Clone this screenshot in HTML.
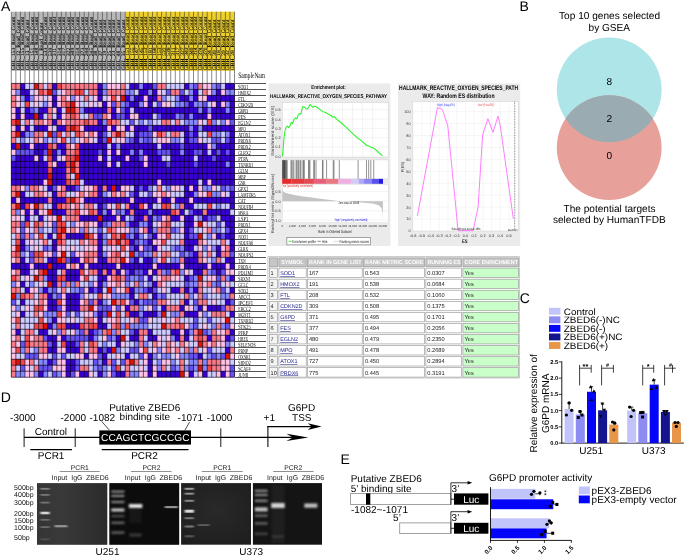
<!DOCTYPE html>
<html lang="en"><head><meta charset="utf-8"><title>Figure</title>
<style>html,body{margin:0;padding:0;background:#fff}body{width:685px;height:556px;overflow:hidden}svg{display:block}</style>
</head><body>
<svg width="685" height="556" viewBox="0 0 685 556" text-rendering="geometricPrecision">
<rect width="685" height="556" fill="#fff"/>
<g opacity="0.999">
<text x="1.10" y="11.20" font-size="14" text-anchor="start" fill="#000" font-family='"Liberation Sans", sans-serif' font-weight="normal" >A</text>
<text x="519.50" y="11.20" font-size="14" text-anchor="start" fill="#000" font-family='"Liberation Sans", sans-serif' font-weight="normal" >B</text>
<text x="519.80" y="303.00" font-size="14" text-anchor="start" fill="#000" font-family='"Liberation Sans", sans-serif' font-weight="normal" >C</text>
<text x="0.75" y="402.10" font-size="14" text-anchor="start" fill="#000" font-family='"Liberation Sans", sans-serif' font-weight="normal" >D</text>
<text x="340.40" y="463.80" font-size="14" text-anchor="start" fill="#000" font-family='"Liberation Sans", sans-serif' font-weight="normal" >E</text>
<rect x="11.30" y="11.70" width="113.88" height="59.20" fill="#b9b9b9" />
<rect x="125.18" y="11.70" width="109.32" height="59.20" fill="#efd12c" />
<rect x="11.30" y="70.90" width="223.20" height="12.50" fill="#fff" />
<g font-family='"Liberation Serif", serif' font-size="5.3" fill="#000" stroke="#000" stroke-width="0.08" text-rendering="geometricPrecision">
<text transform="translate(15.28,70.3) rotate(-90)" textLength="53.5" lengthAdjust="spacingAndGlyphs">GBL_153_Read_Count</text>
<text transform="translate(19.83,70.3) rotate(-90)" textLength="50.5" lengthAdjust="spacingAndGlyphs">GBL_12_Read_Count</text>
<text transform="translate(24.39,70.3) rotate(-90)" textLength="53.5" lengthAdjust="spacingAndGlyphs">GBL_155_Read_Count</text>
<text transform="translate(28.94,70.3) rotate(-90)" textLength="50.5" lengthAdjust="spacingAndGlyphs">GBL_13_Read_Count</text>
<text transform="translate(33.50,70.3) rotate(-90)" textLength="53.5" lengthAdjust="spacingAndGlyphs">GBL_151_Read_Count</text>
<text transform="translate(38.05,70.3) rotate(-90)" textLength="53.5" lengthAdjust="spacingAndGlyphs">GBL_148_Read_Count</text>
<text transform="translate(42.61,70.3) rotate(-90)" textLength="47.5" lengthAdjust="spacingAndGlyphs">GBL_1_Read_Count</text>
<text transform="translate(47.16,70.3) rotate(-90)" textLength="53.5" lengthAdjust="spacingAndGlyphs">GBL_533_Read_Count</text>
<text transform="translate(51.72,70.3) rotate(-90)" textLength="53.5" lengthAdjust="spacingAndGlyphs">GBL_539_Read_Count</text>
<text transform="translate(56.27,70.3) rotate(-90)" textLength="53.5" lengthAdjust="spacingAndGlyphs">GBL_311_Read_Count</text>
<text transform="translate(60.83,70.3) rotate(-90)" textLength="53.5" lengthAdjust="spacingAndGlyphs">GBL_314_Read_Count</text>
<text transform="translate(65.38,70.3) rotate(-90)" textLength="53.5" lengthAdjust="spacingAndGlyphs">GBL_317_Read_Count</text>
<text transform="translate(69.94,70.3) rotate(-90)" textLength="53.5" lengthAdjust="spacingAndGlyphs">GBL_322_Read_Count</text>
<text transform="translate(74.49,70.3) rotate(-90)" textLength="53.5" lengthAdjust="spacingAndGlyphs">GBL_349_Read_Count</text>
<text transform="translate(79.05,70.3) rotate(-90)" textLength="53.5" lengthAdjust="spacingAndGlyphs">GBL_314_Read_Count</text>
<text transform="translate(83.60,70.3) rotate(-90)" textLength="53.5" lengthAdjust="spacingAndGlyphs">GBL_373_Read_Count</text>
<text transform="translate(88.16,70.3) rotate(-90)" textLength="53.5" lengthAdjust="spacingAndGlyphs">GBL_244_Read_Count</text>
<text transform="translate(92.71,70.3) rotate(-90)" textLength="53.5" lengthAdjust="spacingAndGlyphs">GBL_245_Read_Count</text>
<text transform="translate(97.27,70.3) rotate(-90)" textLength="50.5" lengthAdjust="spacingAndGlyphs">GBL_38_Read_Count</text>
<text transform="translate(101.82,70.3) rotate(-90)" textLength="50.5" lengthAdjust="spacingAndGlyphs">GBL_37_Read_Count</text>
<text transform="translate(106.38,70.3) rotate(-90)" textLength="50.5" lengthAdjust="spacingAndGlyphs">GBL_19_Read_Count</text>
<text transform="translate(110.93,70.3) rotate(-90)" textLength="50.5" lengthAdjust="spacingAndGlyphs">GBL_25_Read_Count</text>
<text transform="translate(115.49,70.3) rotate(-90)" textLength="50.5" lengthAdjust="spacingAndGlyphs">GBL_23_Read_Count</text>
<text transform="translate(120.04,70.3) rotate(-90)" textLength="50.5" lengthAdjust="spacingAndGlyphs">GBL_48_Read_Count</text>
<text transform="translate(124.60,70.3) rotate(-90)" textLength="50.5" lengthAdjust="spacingAndGlyphs">GBL_35_Read_Count</text>
<text transform="translate(129.16,70.3) rotate(-90)" textLength="53.5" lengthAdjust="spacingAndGlyphs">GBH_151_Read_Count</text>
<text transform="translate(133.71,70.3) rotate(-90)" textLength="53.5" lengthAdjust="spacingAndGlyphs">GBH_155_Read_Count</text>
<text transform="translate(138.27,70.3) rotate(-90)" textLength="53.5" lengthAdjust="spacingAndGlyphs">GBH_147_Read_Count</text>
<text transform="translate(142.82,70.3) rotate(-90)" textLength="53.5" lengthAdjust="spacingAndGlyphs">GBH_145_Read_Count</text>
<text transform="translate(147.38,70.3) rotate(-90)" textLength="53.5" lengthAdjust="spacingAndGlyphs">GBH_153_Read_Count</text>
<text transform="translate(151.93,70.3) rotate(-90)" textLength="53.5" lengthAdjust="spacingAndGlyphs">GBH_181_Read_Count</text>
<text transform="translate(156.49,70.3) rotate(-90)" textLength="53.5" lengthAdjust="spacingAndGlyphs">GBH_168_Read_Count</text>
<text transform="translate(161.04,70.3) rotate(-90)" textLength="53.5" lengthAdjust="spacingAndGlyphs">GBH_153_Read_Count</text>
<text transform="translate(165.60,70.3) rotate(-90)" textLength="53.5" lengthAdjust="spacingAndGlyphs">GBH_532_Read_Count</text>
<text transform="translate(170.15,70.3) rotate(-90)" textLength="53.5" lengthAdjust="spacingAndGlyphs">GBH_538_Read_Count</text>
<text transform="translate(174.71,70.3) rotate(-90)" textLength="53.5" lengthAdjust="spacingAndGlyphs">GBH_311_Read_Count</text>
<text transform="translate(179.26,70.3) rotate(-90)" textLength="53.5" lengthAdjust="spacingAndGlyphs">GBH_317_Read_Count</text>
<text transform="translate(183.82,70.3) rotate(-90)" textLength="53.5" lengthAdjust="spacingAndGlyphs">GBH_327_Read_Count</text>
<text transform="translate(188.37,70.3) rotate(-90)" textLength="53.5" lengthAdjust="spacingAndGlyphs">GBH_343_Read_Count</text>
<text transform="translate(192.93,70.3) rotate(-90)" textLength="53.5" lengthAdjust="spacingAndGlyphs">GBH_349_Read_Count</text>
<text transform="translate(197.48,70.3) rotate(-90)" textLength="53.5" lengthAdjust="spacingAndGlyphs">GBH_314_Read_Count</text>
<text transform="translate(202.04,70.3) rotate(-90)" textLength="53.5" lengthAdjust="spacingAndGlyphs">GBH_374_Read_Count</text>
<text transform="translate(206.59,70.3) rotate(-90)" textLength="53.5" lengthAdjust="spacingAndGlyphs">GBH_370_Read_Count</text>
<text transform="translate(211.15,70.3) rotate(-90)" textLength="50.5" lengthAdjust="spacingAndGlyphs">GBH_24_Read_Count</text>
<text transform="translate(215.70,70.3) rotate(-90)" textLength="50.5" lengthAdjust="spacingAndGlyphs">GBH_39_Read_Count</text>
<text transform="translate(220.26,70.3) rotate(-90)" textLength="50.5" lengthAdjust="spacingAndGlyphs">GBH_18_Read_Count</text>
<text transform="translate(224.81,70.3) rotate(-90)" textLength="50.5" lengthAdjust="spacingAndGlyphs">GBH_29_Read_Count</text>
<text transform="translate(229.37,70.3) rotate(-90)" textLength="50.5" lengthAdjust="spacingAndGlyphs">GBH_32_Read_Count</text>
<text transform="translate(233.92,70.3) rotate(-90)" textLength="50.5" lengthAdjust="spacingAndGlyphs">GBH_28_Read_Count</text>
</g>
<rect x="11.30" y="83.40" width="223.20" height="293.80" fill="#180848" />
<g>
<rect x="11.30" y="83.40" width="9.16" height="6.05" fill="#f97a86"/>
<rect x="20.41" y="83.40" width="4.61" height="6.05" fill="#3800d2"/>
<rect x="24.97" y="83.40" width="9.16" height="6.05" fill="#cecbff"/>
<rect x="34.08" y="83.40" width="4.61" height="6.05" fill="#dc1408"/>
<rect x="38.63" y="83.40" width="4.61" height="6.05" fill="#f97a86"/>
<rect x="43.19" y="83.40" width="4.61" height="6.05" fill="#cecbff"/>
<rect x="47.74" y="83.40" width="4.61" height="6.05" fill="#f97a86"/>
<rect x="52.30" y="83.40" width="4.61" height="6.05" fill="#3800d2"/>
<rect x="56.85" y="83.40" width="4.61" height="6.05" fill="#f04848"/>
<rect x="61.41" y="83.40" width="36.49" height="6.05" fill="#f97a86"/>
<rect x="97.85" y="83.40" width="4.61" height="6.05" fill="#3800d2"/>
<rect x="102.40" y="83.40" width="4.61" height="6.05" fill="#8686fd"/>
<rect x="106.96" y="83.40" width="13.72" height="6.05" fill="#ffc2e4"/>
<rect x="120.62" y="83.40" width="4.61" height="6.05" fill="#f97a86"/>
<rect x="125.18" y="83.40" width="4.61" height="6.05" fill="#cecbff"/>
<rect x="129.73" y="83.40" width="9.16" height="6.05" fill="#3800d2"/>
<rect x="138.84" y="83.40" width="4.61" height="6.05" fill="#8686fd"/>
<rect x="143.40" y="83.40" width="9.16" height="6.05" fill="#3800d2"/>
<rect x="152.51" y="83.40" width="4.61" height="6.05" fill="#6652ee"/>
<rect x="157.06" y="83.40" width="9.16" height="6.05" fill="#f97a86"/>
<rect x="166.17" y="83.40" width="18.27" height="6.05" fill="#cecbff"/>
<rect x="184.39" y="83.40" width="4.61" height="6.05" fill="#3800d2"/>
<rect x="188.95" y="83.40" width="4.61" height="6.05" fill="#8686fd"/>
<rect x="193.50" y="83.40" width="4.61" height="6.05" fill="#6652ee"/>
<rect x="198.06" y="83.40" width="4.61" height="6.05" fill="#f97a86"/>
<rect x="202.61" y="83.40" width="9.16" height="6.05" fill="#ffc2e4"/>
<rect x="211.72" y="83.40" width="4.61" height="6.05" fill="#8686fd"/>
<rect x="216.28" y="83.40" width="4.61" height="6.05" fill="#6652ee"/>
<rect x="220.83" y="83.40" width="4.61" height="6.05" fill="#cecbff"/>
<rect x="225.39" y="83.40" width="9.16" height="6.05" fill="#3800d2"/>
<rect x="11.30" y="89.40" width="4.61" height="6.05" fill="#ffc2e4"/>
<rect x="15.86" y="89.40" width="4.61" height="6.05" fill="#8686fd"/>
<rect x="20.41" y="89.40" width="9.16" height="6.05" fill="#3800d2"/>
<rect x="29.52" y="89.40" width="4.61" height="6.05" fill="#cecbff"/>
<rect x="34.08" y="89.40" width="4.61" height="6.05" fill="#ffc2e4"/>
<rect x="38.63" y="89.40" width="4.61" height="6.05" fill="#f04848"/>
<rect x="43.19" y="89.40" width="4.61" height="6.05" fill="#f97a86"/>
<rect x="47.74" y="89.40" width="4.61" height="6.05" fill="#dc1408"/>
<rect x="52.30" y="89.40" width="4.61" height="6.05" fill="#6652ee"/>
<rect x="56.85" y="89.40" width="4.61" height="6.05" fill="#cecbff"/>
<rect x="61.41" y="89.40" width="4.61" height="6.05" fill="#ffc2e4"/>
<rect x="65.96" y="89.40" width="9.16" height="6.05" fill="#f97a86"/>
<rect x="75.07" y="89.40" width="9.16" height="6.05" fill="#f04848"/>
<rect x="84.18" y="89.40" width="4.61" height="6.05" fill="#cecbff"/>
<rect x="88.74" y="89.40" width="9.16" height="6.05" fill="#f97a86"/>
<rect x="97.85" y="89.40" width="4.61" height="6.05" fill="#3800d2"/>
<rect x="102.40" y="89.40" width="4.61" height="6.05" fill="#8686fd"/>
<rect x="106.96" y="89.40" width="18.27" height="6.05" fill="#f97a86"/>
<rect x="125.18" y="89.40" width="9.16" height="6.05" fill="#8686fd"/>
<rect x="134.29" y="89.40" width="4.61" height="6.05" fill="#cecbff"/>
<rect x="138.84" y="89.40" width="9.16" height="6.05" fill="#3800d2"/>
<rect x="147.95" y="89.40" width="4.61" height="6.05" fill="#8686fd"/>
<rect x="152.51" y="89.40" width="4.61" height="6.05" fill="#3800d2"/>
<rect x="157.06" y="89.40" width="4.61" height="6.05" fill="#ffc2e4"/>
<rect x="161.62" y="89.40" width="4.61" height="6.05" fill="#cecbff"/>
<rect x="166.17" y="89.40" width="4.61" height="6.05" fill="#6652ee"/>
<rect x="170.73" y="89.40" width="9.16" height="6.05" fill="#f97a86"/>
<rect x="179.84" y="89.40" width="4.61" height="6.05" fill="#6652ee"/>
<rect x="184.39" y="89.40" width="4.61" height="6.05" fill="#cecbff"/>
<rect x="188.95" y="89.40" width="4.61" height="6.05" fill="#8686fd"/>
<rect x="193.50" y="89.40" width="4.61" height="6.05" fill="#3800d2"/>
<rect x="198.06" y="89.40" width="4.61" height="6.05" fill="#cecbff"/>
<rect x="202.61" y="89.40" width="4.61" height="6.05" fill="#f97a86"/>
<rect x="207.17" y="89.40" width="4.61" height="6.05" fill="#ffc2e4"/>
<rect x="211.72" y="89.40" width="4.61" height="6.05" fill="#8686fd"/>
<rect x="216.28" y="89.40" width="4.61" height="6.05" fill="#3800d2"/>
<rect x="220.83" y="89.40" width="4.61" height="6.05" fill="#ffc2e4"/>
<rect x="225.39" y="89.40" width="9.16" height="6.05" fill="#8686fd"/>
<rect x="11.30" y="95.39" width="4.61" height="6.05" fill="#f97a86"/>
<rect x="15.86" y="95.39" width="4.61" height="6.05" fill="#ffc2e4"/>
<rect x="20.41" y="95.39" width="4.61" height="6.05" fill="#8686fd"/>
<rect x="24.97" y="95.39" width="4.61" height="6.05" fill="#3800d2"/>
<rect x="29.52" y="95.39" width="4.61" height="6.05" fill="#8686fd"/>
<rect x="34.08" y="95.39" width="9.16" height="6.05" fill="#ffc2e4"/>
<rect x="43.19" y="95.39" width="4.61" height="6.05" fill="#cecbff"/>
<rect x="47.74" y="95.39" width="4.61" height="6.05" fill="#ffc2e4"/>
<rect x="52.30" y="95.39" width="4.61" height="6.05" fill="#3800d2"/>
<rect x="56.85" y="95.39" width="4.61" height="6.05" fill="#ffc2e4"/>
<rect x="61.41" y="95.39" width="4.61" height="6.05" fill="#f97a86"/>
<rect x="65.96" y="95.39" width="4.61" height="6.05" fill="#ffc2e4"/>
<rect x="70.52" y="95.39" width="4.61" height="6.05" fill="#8686fd"/>
<rect x="75.07" y="95.39" width="4.61" height="6.05" fill="#ffc2e4"/>
<rect x="79.63" y="95.39" width="4.61" height="6.05" fill="#cecbff"/>
<rect x="84.18" y="95.39" width="4.61" height="6.05" fill="#f97a86"/>
<rect x="88.74" y="95.39" width="4.61" height="6.05" fill="#cecbff"/>
<rect x="93.29" y="95.39" width="4.61" height="6.05" fill="#ffc2e4"/>
<rect x="97.85" y="95.39" width="4.61" height="6.05" fill="#3800d2"/>
<rect x="102.40" y="95.39" width="4.61" height="6.05" fill="#cecbff"/>
<rect x="106.96" y="95.39" width="4.61" height="6.05" fill="#ffc2e4"/>
<rect x="111.51" y="95.39" width="4.61" height="6.05" fill="#f04848"/>
<rect x="116.07" y="95.39" width="4.61" height="6.05" fill="#ffc2e4"/>
<rect x="120.62" y="95.39" width="4.61" height="6.05" fill="#dc1408"/>
<rect x="125.18" y="95.39" width="4.61" height="6.05" fill="#3800d2"/>
<rect x="129.73" y="95.39" width="4.61" height="6.05" fill="#8686fd"/>
<rect x="134.29" y="95.39" width="9.16" height="6.05" fill="#3800d2"/>
<rect x="143.40" y="95.39" width="4.61" height="6.05" fill="#ffc2e4"/>
<rect x="147.95" y="95.39" width="9.16" height="6.05" fill="#3800d2"/>
<rect x="157.06" y="95.39" width="4.61" height="6.05" fill="#f97a86"/>
<rect x="161.62" y="95.39" width="4.61" height="6.05" fill="#8686fd"/>
<rect x="166.17" y="95.39" width="9.16" height="6.05" fill="#cecbff"/>
<rect x="175.28" y="95.39" width="4.61" height="6.05" fill="#8686fd"/>
<rect x="179.84" y="95.39" width="9.16" height="6.05" fill="#3800d2"/>
<rect x="188.95" y="95.39" width="4.61" height="6.05" fill="#8686fd"/>
<rect x="193.50" y="95.39" width="4.61" height="6.05" fill="#3800d2"/>
<rect x="198.06" y="95.39" width="9.16" height="6.05" fill="#ffc2e4"/>
<rect x="207.17" y="95.39" width="27.38" height="6.05" fill="#3800d2"/>
<rect x="11.30" y="101.39" width="4.61" height="6.05" fill="#f97a86"/>
<rect x="15.86" y="101.39" width="4.61" height="6.05" fill="#ffc2e4"/>
<rect x="20.41" y="101.39" width="4.61" height="6.05" fill="#cecbff"/>
<rect x="24.97" y="101.39" width="4.61" height="6.05" fill="#f04848"/>
<rect x="29.52" y="101.39" width="4.61" height="6.05" fill="#cecbff"/>
<rect x="34.08" y="101.39" width="4.61" height="6.05" fill="#ffc2e4"/>
<rect x="38.63" y="101.39" width="4.61" height="6.05" fill="#cecbff"/>
<rect x="43.19" y="101.39" width="4.61" height="6.05" fill="#8686fd"/>
<rect x="47.74" y="101.39" width="4.61" height="6.05" fill="#ffc2e4"/>
<rect x="52.30" y="101.39" width="4.61" height="6.05" fill="#3800d2"/>
<rect x="56.85" y="101.39" width="4.61" height="6.05" fill="#ffc2e4"/>
<rect x="61.41" y="101.39" width="4.61" height="6.05" fill="#f97a86"/>
<rect x="65.96" y="101.39" width="4.61" height="6.05" fill="#f04848"/>
<rect x="70.52" y="101.39" width="4.61" height="6.05" fill="#dc1408"/>
<rect x="75.07" y="101.39" width="4.61" height="6.05" fill="#ffc2e4"/>
<rect x="79.63" y="101.39" width="9.16" height="6.05" fill="#cecbff"/>
<rect x="88.74" y="101.39" width="4.61" height="6.05" fill="#ffc2e4"/>
<rect x="93.29" y="101.39" width="4.61" height="6.05" fill="#cecbff"/>
<rect x="97.85" y="101.39" width="4.61" height="6.05" fill="#ffc2e4"/>
<rect x="102.40" y="101.39" width="4.61" height="6.05" fill="#3800d2"/>
<rect x="106.96" y="101.39" width="4.61" height="6.05" fill="#ffc2e4"/>
<rect x="111.51" y="101.39" width="4.61" height="6.05" fill="#6652ee"/>
<rect x="116.07" y="101.39" width="4.61" height="6.05" fill="#f97a86"/>
<rect x="120.62" y="101.39" width="4.61" height="6.05" fill="#8686fd"/>
<rect x="125.18" y="101.39" width="4.61" height="6.05" fill="#6652ee"/>
<rect x="129.73" y="101.39" width="9.16" height="6.05" fill="#3800d2"/>
<rect x="138.84" y="101.39" width="4.61" height="6.05" fill="#8686fd"/>
<rect x="143.40" y="101.39" width="4.61" height="6.05" fill="#ffc2e4"/>
<rect x="147.95" y="101.39" width="4.61" height="6.05" fill="#3800d2"/>
<rect x="152.51" y="101.39" width="4.61" height="6.05" fill="#cecbff"/>
<rect x="157.06" y="101.39" width="4.61" height="6.05" fill="#6652ee"/>
<rect x="161.62" y="101.39" width="9.16" height="6.05" fill="#ffc2e4"/>
<rect x="170.73" y="101.39" width="4.61" height="6.05" fill="#cecbff"/>
<rect x="175.28" y="101.39" width="9.16" height="6.05" fill="#8686fd"/>
<rect x="184.39" y="101.39" width="4.61" height="6.05" fill="#6652ee"/>
<rect x="188.95" y="101.39" width="4.61" height="6.05" fill="#3800d2"/>
<rect x="193.50" y="101.39" width="9.16" height="6.05" fill="#8686fd"/>
<rect x="202.61" y="101.39" width="4.61" height="6.05" fill="#6652ee"/>
<rect x="207.17" y="101.39" width="4.61" height="6.05" fill="#cecbff"/>
<rect x="211.72" y="101.39" width="4.61" height="6.05" fill="#ffc2e4"/>
<rect x="216.28" y="101.39" width="4.61" height="6.05" fill="#3800d2"/>
<rect x="220.83" y="101.39" width="4.61" height="6.05" fill="#ffc2e4"/>
<rect x="225.39" y="101.39" width="4.61" height="6.05" fill="#8686fd"/>
<rect x="229.94" y="101.39" width="4.61" height="6.05" fill="#3800d2"/>
<rect x="11.30" y="107.38" width="4.61" height="6.05" fill="#ffc2e4"/>
<rect x="15.86" y="107.38" width="4.61" height="6.05" fill="#3800d2"/>
<rect x="20.41" y="107.38" width="4.61" height="6.05" fill="#cecbff"/>
<rect x="24.97" y="107.38" width="4.61" height="6.05" fill="#3800d2"/>
<rect x="29.52" y="107.38" width="4.61" height="6.05" fill="#6652ee"/>
<rect x="34.08" y="107.38" width="4.61" height="6.05" fill="#8686fd"/>
<rect x="38.63" y="107.38" width="9.16" height="6.05" fill="#3800d2"/>
<rect x="47.74" y="107.38" width="4.61" height="6.05" fill="#f97a86"/>
<rect x="52.30" y="107.38" width="4.61" height="6.05" fill="#ffc2e4"/>
<rect x="56.85" y="107.38" width="4.61" height="6.05" fill="#3800d2"/>
<rect x="61.41" y="107.38" width="4.61" height="6.05" fill="#cecbff"/>
<rect x="65.96" y="107.38" width="9.16" height="6.05" fill="#dc1408"/>
<rect x="75.07" y="107.38" width="4.61" height="6.05" fill="#f97a86"/>
<rect x="79.63" y="107.38" width="4.61" height="6.05" fill="#8686fd"/>
<rect x="84.18" y="107.38" width="22.83" height="6.05" fill="#3800d2"/>
<rect x="106.96" y="107.38" width="4.61" height="6.05" fill="#f97a86"/>
<rect x="111.51" y="107.38" width="4.61" height="6.05" fill="#3800d2"/>
<rect x="116.07" y="107.38" width="4.61" height="6.05" fill="#ffc2e4"/>
<rect x="120.62" y="107.38" width="4.61" height="6.05" fill="#6652ee"/>
<rect x="125.18" y="107.38" width="4.61" height="6.05" fill="#3800d2"/>
<rect x="129.73" y="107.38" width="4.61" height="6.05" fill="#cecbff"/>
<rect x="134.29" y="107.38" width="63.82" height="6.05" fill="#3800d2"/>
<rect x="198.06" y="107.38" width="4.61" height="6.05" fill="#8686fd"/>
<rect x="202.61" y="107.38" width="4.61" height="6.05" fill="#3800d2"/>
<rect x="207.17" y="107.38" width="4.61" height="6.05" fill="#8686fd"/>
<rect x="211.72" y="107.38" width="13.72" height="6.05" fill="#3800d2"/>
<rect x="225.39" y="107.38" width="4.61" height="6.05" fill="#8686fd"/>
<rect x="229.94" y="107.38" width="4.61" height="6.05" fill="#3800d2"/>
<rect x="11.30" y="113.38" width="4.61" height="6.05" fill="#ffc2e4"/>
<rect x="15.86" y="113.38" width="4.61" height="6.05" fill="#3800d2"/>
<rect x="20.41" y="113.38" width="4.61" height="6.05" fill="#ffc2e4"/>
<rect x="24.97" y="113.38" width="9.16" height="6.05" fill="#3800d2"/>
<rect x="34.08" y="113.38" width="4.61" height="6.05" fill="#dc1408"/>
<rect x="38.63" y="113.38" width="4.61" height="6.05" fill="#3800d2"/>
<rect x="43.19" y="113.38" width="4.61" height="6.05" fill="#cecbff"/>
<rect x="47.74" y="113.38" width="4.61" height="6.05" fill="#f97a86"/>
<rect x="52.30" y="113.38" width="4.61" height="6.05" fill="#cecbff"/>
<rect x="56.85" y="113.38" width="4.61" height="6.05" fill="#3800d2"/>
<rect x="61.41" y="113.38" width="4.61" height="6.05" fill="#ffc2e4"/>
<rect x="65.96" y="113.38" width="4.61" height="6.05" fill="#f97a86"/>
<rect x="70.52" y="113.38" width="4.61" height="6.05" fill="#f04848"/>
<rect x="75.07" y="113.38" width="4.61" height="6.05" fill="#f97a86"/>
<rect x="79.63" y="113.38" width="9.16" height="6.05" fill="#cecbff"/>
<rect x="88.74" y="113.38" width="4.61" height="6.05" fill="#f97a86"/>
<rect x="93.29" y="113.38" width="9.16" height="6.05" fill="#6652ee"/>
<rect x="102.40" y="113.38" width="4.61" height="6.05" fill="#f97a86"/>
<rect x="106.96" y="113.38" width="4.61" height="6.05" fill="#ffc2e4"/>
<rect x="111.51" y="113.38" width="4.61" height="6.05" fill="#3800d2"/>
<rect x="116.07" y="113.38" width="9.16" height="6.05" fill="#6652ee"/>
<rect x="125.18" y="113.38" width="4.61" height="6.05" fill="#3800d2"/>
<rect x="129.73" y="113.38" width="9.16" height="6.05" fill="#ffc2e4"/>
<rect x="138.84" y="113.38" width="13.72" height="6.05" fill="#3800d2"/>
<rect x="152.51" y="113.38" width="4.61" height="6.05" fill="#cecbff"/>
<rect x="157.06" y="113.38" width="4.61" height="6.05" fill="#6652ee"/>
<rect x="161.62" y="113.38" width="13.72" height="6.05" fill="#3800d2"/>
<rect x="175.28" y="113.38" width="4.61" height="6.05" fill="#8686fd"/>
<rect x="179.84" y="113.38" width="4.61" height="6.05" fill="#6652ee"/>
<rect x="184.39" y="113.38" width="4.61" height="6.05" fill="#3800d2"/>
<rect x="188.95" y="113.38" width="4.61" height="6.05" fill="#8686fd"/>
<rect x="193.50" y="113.38" width="13.72" height="6.05" fill="#3800d2"/>
<rect x="207.17" y="113.38" width="4.61" height="6.05" fill="#ffc2e4"/>
<rect x="211.72" y="113.38" width="22.83" height="6.05" fill="#3800d2"/>
<rect x="11.30" y="119.38" width="4.61" height="6.05" fill="#f04848"/>
<rect x="15.86" y="119.38" width="4.61" height="6.05" fill="#dc1408"/>
<rect x="20.41" y="119.38" width="4.61" height="6.05" fill="#cecbff"/>
<rect x="24.97" y="119.38" width="4.61" height="6.05" fill="#f97a86"/>
<rect x="29.52" y="119.38" width="4.61" height="6.05" fill="#cecbff"/>
<rect x="34.08" y="119.38" width="9.16" height="6.05" fill="#f97a86"/>
<rect x="43.19" y="119.38" width="4.61" height="6.05" fill="#ffc2e4"/>
<rect x="47.74" y="119.38" width="4.61" height="6.05" fill="#f97a86"/>
<rect x="52.30" y="119.38" width="4.61" height="6.05" fill="#3800d2"/>
<rect x="56.85" y="119.38" width="4.61" height="6.05" fill="#f97a86"/>
<rect x="61.41" y="119.38" width="4.61" height="6.05" fill="#ffc2e4"/>
<rect x="65.96" y="119.38" width="18.27" height="6.05" fill="#f97a86"/>
<rect x="84.18" y="119.38" width="4.61" height="6.05" fill="#f04848"/>
<rect x="88.74" y="119.38" width="9.16" height="6.05" fill="#f97a86"/>
<rect x="97.85" y="119.38" width="4.61" height="6.05" fill="#3800d2"/>
<rect x="102.40" y="119.38" width="4.61" height="6.05" fill="#8686fd"/>
<rect x="106.96" y="119.38" width="4.61" height="6.05" fill="#f04848"/>
<rect x="111.51" y="119.38" width="9.16" height="6.05" fill="#f97a86"/>
<rect x="120.62" y="119.38" width="9.16" height="6.05" fill="#cecbff"/>
<rect x="129.73" y="119.38" width="4.61" height="6.05" fill="#6652ee"/>
<rect x="134.29" y="119.38" width="4.61" height="6.05" fill="#cecbff"/>
<rect x="138.84" y="119.38" width="4.61" height="6.05" fill="#8686fd"/>
<rect x="143.40" y="119.38" width="4.61" height="6.05" fill="#cecbff"/>
<rect x="147.95" y="119.38" width="4.61" height="6.05" fill="#8686fd"/>
<rect x="152.51" y="119.38" width="9.16" height="6.05" fill="#cecbff"/>
<rect x="161.62" y="119.38" width="9.16" height="6.05" fill="#f97a86"/>
<rect x="170.73" y="119.38" width="4.61" height="6.05" fill="#cecbff"/>
<rect x="175.28" y="119.38" width="4.61" height="6.05" fill="#f97a86"/>
<rect x="179.84" y="119.38" width="4.61" height="6.05" fill="#cecbff"/>
<rect x="184.39" y="119.38" width="13.72" height="6.05" fill="#8686fd"/>
<rect x="198.06" y="119.38" width="4.61" height="6.05" fill="#ffc2e4"/>
<rect x="202.61" y="119.38" width="4.61" height="6.05" fill="#cecbff"/>
<rect x="207.17" y="119.38" width="4.61" height="6.05" fill="#f04848"/>
<rect x="211.72" y="119.38" width="4.61" height="6.05" fill="#8686fd"/>
<rect x="216.28" y="119.38" width="4.61" height="6.05" fill="#cecbff"/>
<rect x="220.83" y="119.38" width="4.61" height="6.05" fill="#8686fd"/>
<rect x="225.39" y="119.38" width="4.61" height="6.05" fill="#ffc2e4"/>
<rect x="229.94" y="119.38" width="4.61" height="6.05" fill="#6652ee"/>
<rect x="11.30" y="125.37" width="4.61" height="6.05" fill="#ffc2e4"/>
<rect x="15.86" y="125.37" width="4.61" height="6.05" fill="#3800d2"/>
<rect x="20.41" y="125.37" width="4.61" height="6.05" fill="#ffc2e4"/>
<rect x="24.97" y="125.37" width="4.61" height="6.05" fill="#3800d2"/>
<rect x="29.52" y="125.37" width="4.61" height="6.05" fill="#cecbff"/>
<rect x="34.08" y="125.37" width="13.72" height="6.05" fill="#3800d2"/>
<rect x="47.74" y="125.37" width="4.61" height="6.05" fill="#ffc2e4"/>
<rect x="52.30" y="125.37" width="4.61" height="6.05" fill="#cecbff"/>
<rect x="56.85" y="125.37" width="9.16" height="6.05" fill="#3800d2"/>
<rect x="65.96" y="125.37" width="4.61" height="6.05" fill="#f04848"/>
<rect x="70.52" y="125.37" width="4.61" height="6.05" fill="#dc1408"/>
<rect x="75.07" y="125.37" width="4.61" height="6.05" fill="#f04848"/>
<rect x="79.63" y="125.37" width="4.61" height="6.05" fill="#ffc2e4"/>
<rect x="84.18" y="125.37" width="22.83" height="6.05" fill="#3800d2"/>
<rect x="106.96" y="125.37" width="4.61" height="6.05" fill="#ffc2e4"/>
<rect x="111.51" y="125.37" width="4.61" height="6.05" fill="#3800d2"/>
<rect x="116.07" y="125.37" width="9.16" height="6.05" fill="#ffc2e4"/>
<rect x="125.18" y="125.37" width="4.61" height="6.05" fill="#3800d2"/>
<rect x="129.73" y="125.37" width="4.61" height="6.05" fill="#ffc2e4"/>
<rect x="134.29" y="125.37" width="13.72" height="6.05" fill="#3800d2"/>
<rect x="147.95" y="125.37" width="4.61" height="6.05" fill="#6652ee"/>
<rect x="152.51" y="125.37" width="36.49" height="6.05" fill="#3800d2"/>
<rect x="188.95" y="125.37" width="4.61" height="6.05" fill="#8686fd"/>
<rect x="193.50" y="125.37" width="4.61" height="6.05" fill="#3800d2"/>
<rect x="198.06" y="125.37" width="4.61" height="6.05" fill="#8686fd"/>
<rect x="202.61" y="125.37" width="31.94" height="6.05" fill="#3800d2"/>
<rect x="11.30" y="131.37" width="4.61" height="6.05" fill="#f97a86"/>
<rect x="15.86" y="131.37" width="4.61" height="6.05" fill="#dc1408"/>
<rect x="20.41" y="131.37" width="4.61" height="6.05" fill="#3800d2"/>
<rect x="24.97" y="131.37" width="9.16" height="6.05" fill="#8686fd"/>
<rect x="34.08" y="131.37" width="9.16" height="6.05" fill="#f97a86"/>
<rect x="43.19" y="131.37" width="4.61" height="6.05" fill="#cecbff"/>
<rect x="47.74" y="131.37" width="4.61" height="6.05" fill="#dc1408"/>
<rect x="52.30" y="131.37" width="4.61" height="6.05" fill="#6652ee"/>
<rect x="56.85" y="131.37" width="4.61" height="6.05" fill="#f04848"/>
<rect x="61.41" y="131.37" width="4.61" height="6.05" fill="#cecbff"/>
<rect x="65.96" y="131.37" width="4.61" height="6.05" fill="#f97a86"/>
<rect x="70.52" y="131.37" width="4.61" height="6.05" fill="#cecbff"/>
<rect x="75.07" y="131.37" width="4.61" height="6.05" fill="#f04848"/>
<rect x="79.63" y="131.37" width="4.61" height="6.05" fill="#f97a86"/>
<rect x="84.18" y="131.37" width="4.61" height="6.05" fill="#ffc2e4"/>
<rect x="88.74" y="131.37" width="4.61" height="6.05" fill="#f97a86"/>
<rect x="93.29" y="131.37" width="4.61" height="6.05" fill="#ffc2e4"/>
<rect x="97.85" y="131.37" width="4.61" height="6.05" fill="#3800d2"/>
<rect x="102.40" y="131.37" width="4.61" height="6.05" fill="#6652ee"/>
<rect x="106.96" y="131.37" width="4.61" height="6.05" fill="#cecbff"/>
<rect x="111.51" y="131.37" width="4.61" height="6.05" fill="#f97a86"/>
<rect x="116.07" y="131.37" width="4.61" height="6.05" fill="#dc1408"/>
<rect x="120.62" y="131.37" width="4.61" height="6.05" fill="#f97a86"/>
<rect x="125.18" y="131.37" width="9.16" height="6.05" fill="#cecbff"/>
<rect x="134.29" y="131.37" width="4.61" height="6.05" fill="#3800d2"/>
<rect x="138.84" y="131.37" width="13.72" height="6.05" fill="#6652ee"/>
<rect x="152.51" y="131.37" width="4.61" height="6.05" fill="#ffc2e4"/>
<rect x="157.06" y="131.37" width="4.61" height="6.05" fill="#f04848"/>
<rect x="161.62" y="131.37" width="4.61" height="6.05" fill="#f97a86"/>
<rect x="166.17" y="131.37" width="4.61" height="6.05" fill="#cecbff"/>
<rect x="170.73" y="131.37" width="9.16" height="6.05" fill="#f97a86"/>
<rect x="179.84" y="131.37" width="4.61" height="6.05" fill="#cecbff"/>
<rect x="184.39" y="131.37" width="4.61" height="6.05" fill="#3800d2"/>
<rect x="188.95" y="131.37" width="4.61" height="6.05" fill="#6652ee"/>
<rect x="193.50" y="131.37" width="4.61" height="6.05" fill="#3800d2"/>
<rect x="198.06" y="131.37" width="9.16" height="6.05" fill="#cecbff"/>
<rect x="207.17" y="131.37" width="4.61" height="6.05" fill="#f04848"/>
<rect x="211.72" y="131.37" width="9.16" height="6.05" fill="#8686fd"/>
<rect x="220.83" y="131.37" width="4.61" height="6.05" fill="#cecbff"/>
<rect x="225.39" y="131.37" width="4.61" height="6.05" fill="#8686fd"/>
<rect x="229.94" y="131.37" width="4.61" height="6.05" fill="#3800d2"/>
<rect x="11.30" y="137.36" width="4.61" height="6.05" fill="#f97a86"/>
<rect x="15.86" y="137.36" width="4.61" height="6.05" fill="#cecbff"/>
<rect x="20.41" y="137.36" width="4.61" height="6.05" fill="#8686fd"/>
<rect x="24.97" y="137.36" width="9.16" height="6.05" fill="#cecbff"/>
<rect x="34.08" y="137.36" width="4.61" height="6.05" fill="#f97a86"/>
<rect x="38.63" y="137.36" width="4.61" height="6.05" fill="#ffc2e4"/>
<rect x="43.19" y="137.36" width="4.61" height="6.05" fill="#8686fd"/>
<rect x="47.74" y="137.36" width="4.61" height="6.05" fill="#cecbff"/>
<rect x="52.30" y="137.36" width="4.61" height="6.05" fill="#8686fd"/>
<rect x="56.85" y="137.36" width="4.61" height="6.05" fill="#ffc2e4"/>
<rect x="61.41" y="137.36" width="4.61" height="6.05" fill="#f04848"/>
<rect x="65.96" y="137.36" width="4.61" height="6.05" fill="#cecbff"/>
<rect x="70.52" y="137.36" width="4.61" height="6.05" fill="#8686fd"/>
<rect x="75.07" y="137.36" width="4.61" height="6.05" fill="#cecbff"/>
<rect x="79.63" y="137.36" width="4.61" height="6.05" fill="#ffc2e4"/>
<rect x="84.18" y="137.36" width="4.61" height="6.05" fill="#f97a86"/>
<rect x="88.74" y="137.36" width="4.61" height="6.05" fill="#ffc2e4"/>
<rect x="93.29" y="137.36" width="4.61" height="6.05" fill="#cecbff"/>
<rect x="97.85" y="137.36" width="4.61" height="6.05" fill="#3800d2"/>
<rect x="102.40" y="137.36" width="4.61" height="6.05" fill="#6652ee"/>
<rect x="106.96" y="137.36" width="4.61" height="6.05" fill="#dc1408"/>
<rect x="111.51" y="137.36" width="4.61" height="6.05" fill="#cecbff"/>
<rect x="116.07" y="137.36" width="9.16" height="6.05" fill="#ffc2e4"/>
<rect x="125.18" y="137.36" width="4.61" height="6.05" fill="#8686fd"/>
<rect x="129.73" y="137.36" width="4.61" height="6.05" fill="#6652ee"/>
<rect x="134.29" y="137.36" width="4.61" height="6.05" fill="#3800d2"/>
<rect x="138.84" y="137.36" width="4.61" height="6.05" fill="#8686fd"/>
<rect x="143.40" y="137.36" width="9.16" height="6.05" fill="#6652ee"/>
<rect x="152.51" y="137.36" width="4.61" height="6.05" fill="#cecbff"/>
<rect x="157.06" y="137.36" width="13.72" height="6.05" fill="#ffc2e4"/>
<rect x="170.73" y="137.36" width="9.16" height="6.05" fill="#8686fd"/>
<rect x="179.84" y="137.36" width="4.61" height="6.05" fill="#cecbff"/>
<rect x="184.39" y="137.36" width="4.61" height="6.05" fill="#3800d2"/>
<rect x="188.95" y="137.36" width="9.16" height="6.05" fill="#6652ee"/>
<rect x="198.06" y="137.36" width="4.61" height="6.05" fill="#ffc2e4"/>
<rect x="202.61" y="137.36" width="9.16" height="6.05" fill="#cecbff"/>
<rect x="211.72" y="137.36" width="9.16" height="6.05" fill="#6652ee"/>
<rect x="220.83" y="137.36" width="4.61" height="6.05" fill="#cecbff"/>
<rect x="225.39" y="137.36" width="4.61" height="6.05" fill="#6652ee"/>
<rect x="229.94" y="137.36" width="4.61" height="6.05" fill="#3800d2"/>
<rect x="11.30" y="143.36" width="4.61" height="6.05" fill="#3800d2"/>
<rect x="15.86" y="143.36" width="4.61" height="6.05" fill="#dc1408"/>
<rect x="20.41" y="143.36" width="9.16" height="6.05" fill="#3800d2"/>
<rect x="29.52" y="143.36" width="4.61" height="6.05" fill="#ffc2e4"/>
<rect x="34.08" y="143.36" width="13.72" height="6.05" fill="#3800d2"/>
<rect x="47.74" y="143.36" width="4.61" height="6.05" fill="#f04848"/>
<rect x="52.30" y="143.36" width="4.61" height="6.05" fill="#f97a86"/>
<rect x="56.85" y="143.36" width="9.16" height="6.05" fill="#3800d2"/>
<rect x="65.96" y="143.36" width="4.61" height="6.05" fill="#f97a86"/>
<rect x="70.52" y="143.36" width="4.61" height="6.05" fill="#ffc2e4"/>
<rect x="75.07" y="143.36" width="4.61" height="6.05" fill="#f04848"/>
<rect x="79.63" y="143.36" width="27.38" height="6.05" fill="#3800d2"/>
<rect x="106.96" y="143.36" width="4.61" height="6.05" fill="#cecbff"/>
<rect x="111.51" y="143.36" width="4.61" height="6.05" fill="#3800d2"/>
<rect x="116.07" y="143.36" width="4.61" height="6.05" fill="#8686fd"/>
<rect x="120.62" y="143.36" width="36.49" height="6.05" fill="#3800d2"/>
<rect x="157.06" y="143.36" width="4.61" height="6.05" fill="#cecbff"/>
<rect x="161.62" y="143.36" width="18.27" height="6.05" fill="#3800d2"/>
<rect x="179.84" y="143.36" width="4.61" height="6.05" fill="#6652ee"/>
<rect x="184.39" y="143.36" width="22.83" height="6.05" fill="#3800d2"/>
<rect x="207.17" y="143.36" width="4.61" height="6.05" fill="#ffc2e4"/>
<rect x="211.72" y="143.36" width="4.61" height="6.05" fill="#8686fd"/>
<rect x="216.28" y="143.36" width="18.27" height="6.05" fill="#3800d2"/>
<rect x="11.30" y="149.36" width="4.61" height="6.05" fill="#ffc2e4"/>
<rect x="15.86" y="149.36" width="18.27" height="6.05" fill="#6652ee"/>
<rect x="34.08" y="149.36" width="9.16" height="6.05" fill="#3800d2"/>
<rect x="43.19" y="149.36" width="4.61" height="6.05" fill="#6652ee"/>
<rect x="47.74" y="149.36" width="4.61" height="6.05" fill="#dc1408"/>
<rect x="52.30" y="149.36" width="4.61" height="6.05" fill="#3800d2"/>
<rect x="56.85" y="149.36" width="4.61" height="6.05" fill="#8686fd"/>
<rect x="61.41" y="149.36" width="4.61" height="6.05" fill="#3800d2"/>
<rect x="65.96" y="149.36" width="9.16" height="6.05" fill="#f97a86"/>
<rect x="75.07" y="149.36" width="4.61" height="6.05" fill="#f04848"/>
<rect x="79.63" y="149.36" width="18.27" height="6.05" fill="#3800d2"/>
<rect x="97.85" y="149.36" width="4.61" height="6.05" fill="#6652ee"/>
<rect x="102.40" y="149.36" width="4.61" height="6.05" fill="#3800d2"/>
<rect x="106.96" y="149.36" width="4.61" height="6.05" fill="#ffc2e4"/>
<rect x="111.51" y="149.36" width="4.61" height="6.05" fill="#3800d2"/>
<rect x="116.07" y="149.36" width="4.61" height="6.05" fill="#ffc2e4"/>
<rect x="120.62" y="149.36" width="9.16" height="6.05" fill="#3800d2"/>
<rect x="129.73" y="149.36" width="4.61" height="6.05" fill="#8686fd"/>
<rect x="134.29" y="149.36" width="4.61" height="6.05" fill="#3800d2"/>
<rect x="138.84" y="149.36" width="4.61" height="6.05" fill="#8686fd"/>
<rect x="143.40" y="149.36" width="13.72" height="6.05" fill="#3800d2"/>
<rect x="157.06" y="149.36" width="13.72" height="6.05" fill="#6652ee"/>
<rect x="170.73" y="149.36" width="9.16" height="6.05" fill="#3800d2"/>
<rect x="179.84" y="149.36" width="4.61" height="6.05" fill="#8686fd"/>
<rect x="184.39" y="149.36" width="9.16" height="6.05" fill="#3800d2"/>
<rect x="193.50" y="149.36" width="9.16" height="6.05" fill="#6652ee"/>
<rect x="202.61" y="149.36" width="4.61" height="6.05" fill="#3800d2"/>
<rect x="207.17" y="149.36" width="4.61" height="6.05" fill="#cecbff"/>
<rect x="211.72" y="149.36" width="4.61" height="6.05" fill="#3800d2"/>
<rect x="216.28" y="149.36" width="4.61" height="6.05" fill="#6652ee"/>
<rect x="220.83" y="149.36" width="4.61" height="6.05" fill="#3800d2"/>
<rect x="225.39" y="149.36" width="4.61" height="6.05" fill="#6652ee"/>
<rect x="229.94" y="149.36" width="4.61" height="6.05" fill="#3800d2"/>
<rect x="11.30" y="155.35" width="4.61" height="6.05" fill="#6652ee"/>
<rect x="15.86" y="155.35" width="18.27" height="6.05" fill="#3800d2"/>
<rect x="34.08" y="155.35" width="4.61" height="6.05" fill="#ffc2e4"/>
<rect x="38.63" y="155.35" width="4.61" height="6.05" fill="#3800d2"/>
<rect x="43.19" y="155.35" width="4.61" height="6.05" fill="#cecbff"/>
<rect x="47.74" y="155.35" width="4.61" height="6.05" fill="#f04848"/>
<rect x="52.30" y="155.35" width="4.61" height="6.05" fill="#3800d2"/>
<rect x="56.85" y="155.35" width="4.61" height="6.05" fill="#cecbff"/>
<rect x="61.41" y="155.35" width="4.61" height="6.05" fill="#ffc2e4"/>
<rect x="65.96" y="155.35" width="9.16" height="6.05" fill="#f04848"/>
<rect x="75.07" y="155.35" width="4.61" height="6.05" fill="#dc1408"/>
<rect x="79.63" y="155.35" width="18.27" height="6.05" fill="#3800d2"/>
<rect x="97.85" y="155.35" width="4.61" height="6.05" fill="#ffc2e4"/>
<rect x="102.40" y="155.35" width="4.61" height="6.05" fill="#3800d2"/>
<rect x="106.96" y="155.35" width="4.61" height="6.05" fill="#cecbff"/>
<rect x="111.51" y="155.35" width="13.72" height="6.05" fill="#3800d2"/>
<rect x="125.18" y="155.35" width="4.61" height="6.05" fill="#ffc2e4"/>
<rect x="129.73" y="155.35" width="9.16" height="6.05" fill="#3800d2"/>
<rect x="138.84" y="155.35" width="4.61" height="6.05" fill="#6652ee"/>
<rect x="143.40" y="155.35" width="4.61" height="6.05" fill="#ffc2e4"/>
<rect x="147.95" y="155.35" width="13.72" height="6.05" fill="#3800d2"/>
<rect x="161.62" y="155.35" width="9.16" height="6.05" fill="#cecbff"/>
<rect x="170.73" y="155.35" width="22.83" height="6.05" fill="#3800d2"/>
<rect x="193.50" y="155.35" width="4.61" height="6.05" fill="#cecbff"/>
<rect x="198.06" y="155.35" width="13.72" height="6.05" fill="#3800d2"/>
<rect x="211.72" y="155.35" width="4.61" height="6.05" fill="#6652ee"/>
<rect x="216.28" y="155.35" width="18.27" height="6.05" fill="#3800d2"/>
<rect x="11.30" y="161.35" width="36.49" height="6.05" fill="#3800d2"/>
<rect x="47.74" y="161.35" width="4.61" height="6.05" fill="#f97a86"/>
<rect x="52.30" y="161.35" width="4.61" height="6.05" fill="#ffc2e4"/>
<rect x="56.85" y="161.35" width="9.16" height="6.05" fill="#3800d2"/>
<rect x="65.96" y="161.35" width="4.61" height="6.05" fill="#f04848"/>
<rect x="70.52" y="161.35" width="4.61" height="6.05" fill="#dc1408"/>
<rect x="75.07" y="161.35" width="4.61" height="6.05" fill="#f97a86"/>
<rect x="79.63" y="161.35" width="27.38" height="6.05" fill="#3800d2"/>
<rect x="106.96" y="161.35" width="4.61" height="6.05" fill="#ffc2e4"/>
<rect x="111.51" y="161.35" width="4.61" height="6.05" fill="#3800d2"/>
<rect x="116.07" y="161.35" width="4.61" height="6.05" fill="#cecbff"/>
<rect x="120.62" y="161.35" width="22.83" height="6.05" fill="#3800d2"/>
<rect x="143.40" y="161.35" width="4.61" height="6.05" fill="#ffc2e4"/>
<rect x="147.95" y="161.35" width="18.27" height="6.05" fill="#3800d2"/>
<rect x="166.17" y="161.35" width="4.61" height="6.05" fill="#6652ee"/>
<rect x="170.73" y="161.35" width="22.83" height="6.05" fill="#3800d2"/>
<rect x="193.50" y="161.35" width="4.61" height="6.05" fill="#6652ee"/>
<rect x="198.06" y="161.35" width="27.38" height="6.05" fill="#3800d2"/>
<rect x="225.39" y="161.35" width="4.61" height="6.05" fill="#8686fd"/>
<rect x="229.94" y="161.35" width="4.61" height="6.05" fill="#3800d2"/>
<rect x="11.30" y="167.34" width="36.49" height="6.05" fill="#3800d2"/>
<rect x="47.74" y="167.34" width="4.61" height="6.05" fill="#f04848"/>
<rect x="52.30" y="167.34" width="13.72" height="6.05" fill="#3800d2"/>
<rect x="65.96" y="167.34" width="4.61" height="6.05" fill="#f97a86"/>
<rect x="70.52" y="167.34" width="4.61" height="6.05" fill="#dc1408"/>
<rect x="75.07" y="167.34" width="4.61" height="6.05" fill="#f97a86"/>
<rect x="79.63" y="167.34" width="154.92" height="6.05" fill="#3800d2"/>
<rect x="11.30" y="173.34" width="36.49" height="6.05" fill="#3800d2"/>
<rect x="47.74" y="173.34" width="4.61" height="6.05" fill="#dc1408"/>
<rect x="52.30" y="173.34" width="13.72" height="6.05" fill="#3800d2"/>
<rect x="65.96" y="173.34" width="4.61" height="6.05" fill="#f97a86"/>
<rect x="70.52" y="173.34" width="4.61" height="6.05" fill="#cecbff"/>
<rect x="75.07" y="173.34" width="4.61" height="6.05" fill="#dc1408"/>
<rect x="79.63" y="173.34" width="154.92" height="6.05" fill="#3800d2"/>
<rect x="11.30" y="179.33" width="31.94" height="6.05" fill="#3800d2"/>
<rect x="43.19" y="179.33" width="4.61" height="6.05" fill="#ffc2e4"/>
<rect x="47.74" y="179.33" width="4.61" height="6.05" fill="#dc1408"/>
<rect x="52.30" y="179.33" width="13.72" height="6.05" fill="#3800d2"/>
<rect x="65.96" y="179.33" width="4.61" height="6.05" fill="#f04848"/>
<rect x="70.52" y="179.33" width="4.61" height="6.05" fill="#f97a86"/>
<rect x="75.07" y="179.33" width="4.61" height="6.05" fill="#f04848"/>
<rect x="79.63" y="179.33" width="4.61" height="6.05" fill="#cecbff"/>
<rect x="84.18" y="179.33" width="72.93" height="6.05" fill="#3800d2"/>
<rect x="157.06" y="179.33" width="4.61" height="6.05" fill="#ffc2e4"/>
<rect x="161.62" y="179.33" width="36.49" height="6.05" fill="#3800d2"/>
<rect x="198.06" y="179.33" width="4.61" height="6.05" fill="#cecbff"/>
<rect x="202.61" y="179.33" width="4.61" height="6.05" fill="#3800d2"/>
<rect x="207.17" y="179.33" width="4.61" height="6.05" fill="#ffc2e4"/>
<rect x="211.72" y="179.33" width="22.83" height="6.05" fill="#3800d2"/>
<rect x="11.30" y="185.33" width="9.16" height="6.05" fill="#f97a86"/>
<rect x="20.41" y="185.33" width="4.61" height="6.05" fill="#ffc2e4"/>
<rect x="24.97" y="185.33" width="4.61" height="6.05" fill="#8686fd"/>
<rect x="29.52" y="185.33" width="9.16" height="6.05" fill="#f97a86"/>
<rect x="38.63" y="185.33" width="4.61" height="6.05" fill="#ffc2e4"/>
<rect x="43.19" y="185.33" width="4.61" height="6.05" fill="#cecbff"/>
<rect x="47.74" y="185.33" width="4.61" height="6.05" fill="#3800d2"/>
<rect x="52.30" y="185.33" width="4.61" height="6.05" fill="#6652ee"/>
<rect x="56.85" y="185.33" width="4.61" height="6.05" fill="#ffc2e4"/>
<rect x="61.41" y="185.33" width="4.61" height="6.05" fill="#f97a86"/>
<rect x="65.96" y="185.33" width="9.16" height="6.05" fill="#3800d2"/>
<rect x="75.07" y="185.33" width="4.61" height="6.05" fill="#6652ee"/>
<rect x="79.63" y="185.33" width="4.61" height="6.05" fill="#cecbff"/>
<rect x="84.18" y="185.33" width="9.16" height="6.05" fill="#ffc2e4"/>
<rect x="93.29" y="185.33" width="4.61" height="6.05" fill="#f97a86"/>
<rect x="97.85" y="185.33" width="4.61" height="6.05" fill="#3800d2"/>
<rect x="102.40" y="185.33" width="4.61" height="6.05" fill="#f97a86"/>
<rect x="106.96" y="185.33" width="4.61" height="6.05" fill="#3800d2"/>
<rect x="111.51" y="185.33" width="4.61" height="6.05" fill="#dc1408"/>
<rect x="116.07" y="185.33" width="4.61" height="6.05" fill="#3800d2"/>
<rect x="120.62" y="185.33" width="9.16" height="6.05" fill="#ffc2e4"/>
<rect x="129.73" y="185.33" width="4.61" height="6.05" fill="#cecbff"/>
<rect x="134.29" y="185.33" width="4.61" height="6.05" fill="#3800d2"/>
<rect x="138.84" y="185.33" width="4.61" height="6.05" fill="#6652ee"/>
<rect x="143.40" y="185.33" width="4.61" height="6.05" fill="#3800d2"/>
<rect x="147.95" y="185.33" width="4.61" height="6.05" fill="#8686fd"/>
<rect x="152.51" y="185.33" width="4.61" height="6.05" fill="#cecbff"/>
<rect x="157.06" y="185.33" width="4.61" height="6.05" fill="#f97a86"/>
<rect x="161.62" y="185.33" width="4.61" height="6.05" fill="#cecbff"/>
<rect x="166.17" y="185.33" width="4.61" height="6.05" fill="#8686fd"/>
<rect x="170.73" y="185.33" width="9.16" height="6.05" fill="#ffc2e4"/>
<rect x="179.84" y="185.33" width="4.61" height="6.05" fill="#cecbff"/>
<rect x="184.39" y="185.33" width="4.61" height="6.05" fill="#3800d2"/>
<rect x="188.95" y="185.33" width="4.61" height="6.05" fill="#ffc2e4"/>
<rect x="193.50" y="185.33" width="4.61" height="6.05" fill="#3800d2"/>
<rect x="198.06" y="185.33" width="4.61" height="6.05" fill="#ffc2e4"/>
<rect x="202.61" y="185.33" width="9.16" height="6.05" fill="#8686fd"/>
<rect x="211.72" y="185.33" width="4.61" height="6.05" fill="#ffc2e4"/>
<rect x="216.28" y="185.33" width="4.61" height="6.05" fill="#cecbff"/>
<rect x="220.83" y="185.33" width="4.61" height="6.05" fill="#6652ee"/>
<rect x="225.39" y="185.33" width="4.61" height="6.05" fill="#8686fd"/>
<rect x="229.94" y="185.33" width="4.61" height="6.05" fill="#6652ee"/>
<rect x="11.30" y="191.33" width="4.61" height="6.05" fill="#f97a86"/>
<rect x="15.86" y="191.33" width="4.61" height="6.05" fill="#dc1408"/>
<rect x="20.41" y="191.33" width="4.61" height="6.05" fill="#3800d2"/>
<rect x="24.97" y="191.33" width="9.16" height="6.05" fill="#cecbff"/>
<rect x="34.08" y="191.33" width="9.16" height="6.05" fill="#f97a86"/>
<rect x="43.19" y="191.33" width="4.61" height="6.05" fill="#ffc2e4"/>
<rect x="47.74" y="191.33" width="4.61" height="6.05" fill="#cecbff"/>
<rect x="52.30" y="191.33" width="4.61" height="6.05" fill="#3800d2"/>
<rect x="56.85" y="191.33" width="9.16" height="6.05" fill="#f97a86"/>
<rect x="65.96" y="191.33" width="9.16" height="6.05" fill="#cecbff"/>
<rect x="75.07" y="191.33" width="4.61" height="6.05" fill="#ffc2e4"/>
<rect x="79.63" y="191.33" width="4.61" height="6.05" fill="#f97a86"/>
<rect x="84.18" y="191.33" width="4.61" height="6.05" fill="#ffc2e4"/>
<rect x="88.74" y="191.33" width="9.16" height="6.05" fill="#f97a86"/>
<rect x="97.85" y="191.33" width="4.61" height="6.05" fill="#3800d2"/>
<rect x="102.40" y="191.33" width="4.61" height="6.05" fill="#8686fd"/>
<rect x="106.96" y="191.33" width="4.61" height="6.05" fill="#cecbff"/>
<rect x="111.51" y="191.33" width="4.61" height="6.05" fill="#f97a86"/>
<rect x="116.07" y="191.33" width="4.61" height="6.05" fill="#ffc2e4"/>
<rect x="120.62" y="191.33" width="4.61" height="6.05" fill="#f97a86"/>
<rect x="125.18" y="191.33" width="4.61" height="6.05" fill="#cecbff"/>
<rect x="129.73" y="191.33" width="4.61" height="6.05" fill="#6652ee"/>
<rect x="134.29" y="191.33" width="4.61" height="6.05" fill="#3800d2"/>
<rect x="138.84" y="191.33" width="9.16" height="6.05" fill="#cecbff"/>
<rect x="147.95" y="191.33" width="4.61" height="6.05" fill="#6652ee"/>
<rect x="152.51" y="191.33" width="9.16" height="6.05" fill="#ffc2e4"/>
<rect x="161.62" y="191.33" width="4.61" height="6.05" fill="#f97a86"/>
<rect x="166.17" y="191.33" width="4.61" height="6.05" fill="#ffc2e4"/>
<rect x="170.73" y="191.33" width="13.72" height="6.05" fill="#cecbff"/>
<rect x="184.39" y="191.33" width="9.16" height="6.05" fill="#3800d2"/>
<rect x="193.50" y="191.33" width="4.61" height="6.05" fill="#8686fd"/>
<rect x="198.06" y="191.33" width="9.16" height="6.05" fill="#ffc2e4"/>
<rect x="207.17" y="191.33" width="4.61" height="6.05" fill="#f04848"/>
<rect x="211.72" y="191.33" width="9.16" height="6.05" fill="#8686fd"/>
<rect x="220.83" y="191.33" width="4.61" height="6.05" fill="#ffc2e4"/>
<rect x="225.39" y="191.33" width="4.61" height="6.05" fill="#cecbff"/>
<rect x="229.94" y="191.33" width="4.61" height="6.05" fill="#3800d2"/>
<rect x="11.30" y="197.32" width="4.61" height="6.05" fill="#3800d2"/>
<rect x="15.86" y="197.32" width="4.61" height="6.05" fill="#ffc2e4"/>
<rect x="20.41" y="197.32" width="27.38" height="6.05" fill="#3800d2"/>
<rect x="47.74" y="197.32" width="4.61" height="6.05" fill="#f97a86"/>
<rect x="52.30" y="197.32" width="13.72" height="6.05" fill="#3800d2"/>
<rect x="65.96" y="197.32" width="4.61" height="6.05" fill="#f04848"/>
<rect x="70.52" y="197.32" width="4.61" height="6.05" fill="#dc1408"/>
<rect x="75.07" y="197.32" width="4.61" height="6.05" fill="#f97a86"/>
<rect x="79.63" y="197.32" width="4.61" height="6.05" fill="#ffc2e4"/>
<rect x="84.18" y="197.32" width="45.60" height="6.05" fill="#3800d2"/>
<rect x="129.73" y="197.32" width="4.61" height="6.05" fill="#ffc2e4"/>
<rect x="134.29" y="197.32" width="22.83" height="6.05" fill="#3800d2"/>
<rect x="157.06" y="197.32" width="4.61" height="6.05" fill="#ffc2e4"/>
<rect x="161.62" y="197.32" width="9.16" height="6.05" fill="#3800d2"/>
<rect x="170.73" y="197.32" width="4.61" height="6.05" fill="#ffc2e4"/>
<rect x="175.28" y="197.32" width="13.72" height="6.05" fill="#3800d2"/>
<rect x="188.95" y="197.32" width="4.61" height="6.05" fill="#ffc2e4"/>
<rect x="193.50" y="197.32" width="41.05" height="6.05" fill="#3800d2"/>
<rect x="11.30" y="203.32" width="4.61" height="6.05" fill="#f97a86"/>
<rect x="15.86" y="203.32" width="4.61" height="6.05" fill="#dc1408"/>
<rect x="20.41" y="203.32" width="4.61" height="6.05" fill="#3800d2"/>
<rect x="24.97" y="203.32" width="4.61" height="6.05" fill="#f04848"/>
<rect x="29.52" y="203.32" width="4.61" height="6.05" fill="#ffc2e4"/>
<rect x="34.08" y="203.32" width="4.61" height="6.05" fill="#dc1408"/>
<rect x="38.63" y="203.32" width="4.61" height="6.05" fill="#f97a86"/>
<rect x="43.19" y="203.32" width="9.16" height="6.05" fill="#cecbff"/>
<rect x="52.30" y="203.32" width="4.61" height="6.05" fill="#3800d2"/>
<rect x="56.85" y="203.32" width="4.61" height="6.05" fill="#f04848"/>
<rect x="61.41" y="203.32" width="9.16" height="6.05" fill="#f97a86"/>
<rect x="70.52" y="203.32" width="4.61" height="6.05" fill="#ffc2e4"/>
<rect x="75.07" y="203.32" width="4.61" height="6.05" fill="#f97a86"/>
<rect x="79.63" y="203.32" width="4.61" height="6.05" fill="#cecbff"/>
<rect x="84.18" y="203.32" width="9.16" height="6.05" fill="#f97a86"/>
<rect x="93.29" y="203.32" width="4.61" height="6.05" fill="#cecbff"/>
<rect x="97.85" y="203.32" width="4.61" height="6.05" fill="#3800d2"/>
<rect x="102.40" y="203.32" width="4.61" height="6.05" fill="#6652ee"/>
<rect x="106.96" y="203.32" width="4.61" height="6.05" fill="#ffc2e4"/>
<rect x="111.51" y="203.32" width="4.61" height="6.05" fill="#cecbff"/>
<rect x="116.07" y="203.32" width="4.61" height="6.05" fill="#f04848"/>
<rect x="120.62" y="203.32" width="4.61" height="6.05" fill="#cecbff"/>
<rect x="125.18" y="203.32" width="4.61" height="6.05" fill="#f97a86"/>
<rect x="129.73" y="203.32" width="9.16" height="6.05" fill="#3800d2"/>
<rect x="138.84" y="203.32" width="4.61" height="6.05" fill="#f04848"/>
<rect x="143.40" y="203.32" width="4.61" height="6.05" fill="#ffc2e4"/>
<rect x="147.95" y="203.32" width="4.61" height="6.05" fill="#3800d2"/>
<rect x="152.51" y="203.32" width="9.16" height="6.05" fill="#cecbff"/>
<rect x="161.62" y="203.32" width="9.16" height="6.05" fill="#f04848"/>
<rect x="170.73" y="203.32" width="4.61" height="6.05" fill="#cecbff"/>
<rect x="175.28" y="203.32" width="4.61" height="6.05" fill="#8686fd"/>
<rect x="179.84" y="203.32" width="4.61" height="6.05" fill="#f97a86"/>
<rect x="184.39" y="203.32" width="9.16" height="6.05" fill="#3800d2"/>
<rect x="193.50" y="203.32" width="13.72" height="6.05" fill="#cecbff"/>
<rect x="207.17" y="203.32" width="4.61" height="6.05" fill="#f04848"/>
<rect x="211.72" y="203.32" width="4.61" height="6.05" fill="#cecbff"/>
<rect x="216.28" y="203.32" width="4.61" height="6.05" fill="#8686fd"/>
<rect x="220.83" y="203.32" width="9.16" height="6.05" fill="#cecbff"/>
<rect x="229.94" y="203.32" width="4.61" height="6.05" fill="#3800d2"/>
<rect x="11.30" y="209.31" width="4.61" height="6.05" fill="#f97a86"/>
<rect x="15.86" y="209.31" width="4.61" height="6.05" fill="#8686fd"/>
<rect x="20.41" y="209.31" width="4.61" height="6.05" fill="#ffc2e4"/>
<rect x="24.97" y="209.31" width="4.61" height="6.05" fill="#3800d2"/>
<rect x="29.52" y="209.31" width="4.61" height="6.05" fill="#ffc2e4"/>
<rect x="34.08" y="209.31" width="4.61" height="6.05" fill="#3800d2"/>
<rect x="38.63" y="209.31" width="9.16" height="6.05" fill="#ffc2e4"/>
<rect x="47.74" y="209.31" width="4.61" height="6.05" fill="#dc1408"/>
<rect x="52.30" y="209.31" width="13.72" height="6.05" fill="#3800d2"/>
<rect x="65.96" y="209.31" width="9.16" height="6.05" fill="#f97a86"/>
<rect x="75.07" y="209.31" width="4.61" height="6.05" fill="#f04848"/>
<rect x="79.63" y="209.31" width="9.16" height="6.05" fill="#ffc2e4"/>
<rect x="88.74" y="209.31" width="4.61" height="6.05" fill="#f04848"/>
<rect x="93.29" y="209.31" width="4.61" height="6.05" fill="#f97a86"/>
<rect x="97.85" y="209.31" width="4.61" height="6.05" fill="#3800d2"/>
<rect x="102.40" y="209.31" width="4.61" height="6.05" fill="#8686fd"/>
<rect x="106.96" y="209.31" width="4.61" height="6.05" fill="#3800d2"/>
<rect x="111.51" y="209.31" width="4.61" height="6.05" fill="#ffc2e4"/>
<rect x="116.07" y="209.31" width="4.61" height="6.05" fill="#6652ee"/>
<rect x="120.62" y="209.31" width="4.61" height="6.05" fill="#8686fd"/>
<rect x="125.18" y="209.31" width="4.61" height="6.05" fill="#3800d2"/>
<rect x="129.73" y="209.31" width="4.61" height="6.05" fill="#f97a86"/>
<rect x="134.29" y="209.31" width="13.72" height="6.05" fill="#3800d2"/>
<rect x="147.95" y="209.31" width="4.61" height="6.05" fill="#8686fd"/>
<rect x="152.51" y="209.31" width="18.27" height="6.05" fill="#3800d2"/>
<rect x="170.73" y="209.31" width="4.61" height="6.05" fill="#f04848"/>
<rect x="175.28" y="209.31" width="4.61" height="6.05" fill="#f97a86"/>
<rect x="179.84" y="209.31" width="4.61" height="6.05" fill="#3800d2"/>
<rect x="184.39" y="209.31" width="4.61" height="6.05" fill="#cecbff"/>
<rect x="188.95" y="209.31" width="4.61" height="6.05" fill="#6652ee"/>
<rect x="193.50" y="209.31" width="9.16" height="6.05" fill="#3800d2"/>
<rect x="202.61" y="209.31" width="4.61" height="6.05" fill="#f97a86"/>
<rect x="207.17" y="209.31" width="22.83" height="6.05" fill="#3800d2"/>
<rect x="229.94" y="209.31" width="4.61" height="6.05" fill="#cecbff"/>
<rect x="11.30" y="215.31" width="9.16" height="6.05" fill="#ffc2e4"/>
<rect x="20.41" y="215.31" width="4.61" height="6.05" fill="#cecbff"/>
<rect x="24.97" y="215.31" width="4.61" height="6.05" fill="#3800d2"/>
<rect x="29.52" y="215.31" width="9.16" height="6.05" fill="#cecbff"/>
<rect x="38.63" y="215.31" width="4.61" height="6.05" fill="#3800d2"/>
<rect x="43.19" y="215.31" width="4.61" height="6.05" fill="#cecbff"/>
<rect x="47.74" y="215.31" width="9.16" height="6.05" fill="#ffc2e4"/>
<rect x="56.85" y="215.31" width="4.61" height="6.05" fill="#dc1408"/>
<rect x="61.41" y="215.31" width="4.61" height="6.05" fill="#cecbff"/>
<rect x="65.96" y="215.31" width="13.72" height="6.05" fill="#f97a86"/>
<rect x="79.63" y="215.31" width="18.27" height="6.05" fill="#3800d2"/>
<rect x="97.85" y="215.31" width="4.61" height="6.05" fill="#dc1408"/>
<rect x="102.40" y="215.31" width="13.72" height="6.05" fill="#3800d2"/>
<rect x="116.07" y="215.31" width="4.61" height="6.05" fill="#ffc2e4"/>
<rect x="120.62" y="215.31" width="4.61" height="6.05" fill="#3800d2"/>
<rect x="125.18" y="215.31" width="4.61" height="6.05" fill="#cecbff"/>
<rect x="129.73" y="215.31" width="4.61" height="6.05" fill="#8686fd"/>
<rect x="134.29" y="215.31" width="9.16" height="6.05" fill="#3800d2"/>
<rect x="143.40" y="215.31" width="4.61" height="6.05" fill="#f97a86"/>
<rect x="147.95" y="215.31" width="4.61" height="6.05" fill="#3800d2"/>
<rect x="152.51" y="215.31" width="4.61" height="6.05" fill="#8686fd"/>
<rect x="157.06" y="215.31" width="4.61" height="6.05" fill="#6652ee"/>
<rect x="161.62" y="215.31" width="4.61" height="6.05" fill="#ffc2e4"/>
<rect x="166.17" y="215.31" width="4.61" height="6.05" fill="#f97a86"/>
<rect x="170.73" y="215.31" width="9.16" height="6.05" fill="#3800d2"/>
<rect x="179.84" y="215.31" width="4.61" height="6.05" fill="#ffc2e4"/>
<rect x="184.39" y="215.31" width="9.16" height="6.05" fill="#3800d2"/>
<rect x="193.50" y="215.31" width="4.61" height="6.05" fill="#cecbff"/>
<rect x="198.06" y="215.31" width="4.61" height="6.05" fill="#8686fd"/>
<rect x="202.61" y="215.31" width="4.61" height="6.05" fill="#3800d2"/>
<rect x="207.17" y="215.31" width="9.16" height="6.05" fill="#6652ee"/>
<rect x="216.28" y="215.31" width="4.61" height="6.05" fill="#cecbff"/>
<rect x="220.83" y="215.31" width="13.72" height="6.05" fill="#3800d2"/>
<rect x="11.30" y="221.31" width="9.16" height="6.05" fill="#f97a86"/>
<rect x="20.41" y="221.31" width="4.61" height="6.05" fill="#6652ee"/>
<rect x="24.97" y="221.31" width="4.61" height="6.05" fill="#f04848"/>
<rect x="29.52" y="221.31" width="4.61" height="6.05" fill="#cecbff"/>
<rect x="34.08" y="221.31" width="4.61" height="6.05" fill="#f04848"/>
<rect x="38.63" y="221.31" width="4.61" height="6.05" fill="#f97a86"/>
<rect x="43.19" y="221.31" width="4.61" height="6.05" fill="#cecbff"/>
<rect x="47.74" y="221.31" width="4.61" height="6.05" fill="#ffc2e4"/>
<rect x="52.30" y="221.31" width="4.61" height="6.05" fill="#6652ee"/>
<rect x="56.85" y="221.31" width="9.16" height="6.05" fill="#f04848"/>
<rect x="65.96" y="221.31" width="4.61" height="6.05" fill="#cecbff"/>
<rect x="70.52" y="221.31" width="4.61" height="6.05" fill="#8686fd"/>
<rect x="75.07" y="221.31" width="9.16" height="6.05" fill="#ffc2e4"/>
<rect x="84.18" y="221.31" width="4.61" height="6.05" fill="#f97a86"/>
<rect x="88.74" y="221.31" width="9.16" height="6.05" fill="#ffc2e4"/>
<rect x="97.85" y="221.31" width="4.61" height="6.05" fill="#3800d2"/>
<rect x="102.40" y="221.31" width="4.61" height="6.05" fill="#6652ee"/>
<rect x="106.96" y="221.31" width="4.61" height="6.05" fill="#8686fd"/>
<rect x="111.51" y="221.31" width="13.72" height="6.05" fill="#f97a86"/>
<rect x="125.18" y="221.31" width="4.61" height="6.05" fill="#8686fd"/>
<rect x="129.73" y="221.31" width="9.16" height="6.05" fill="#3800d2"/>
<rect x="138.84" y="221.31" width="9.16" height="6.05" fill="#8686fd"/>
<rect x="147.95" y="221.31" width="4.61" height="6.05" fill="#3800d2"/>
<rect x="152.51" y="221.31" width="4.61" height="6.05" fill="#cecbff"/>
<rect x="157.06" y="221.31" width="4.61" height="6.05" fill="#ffc2e4"/>
<rect x="161.62" y="221.31" width="4.61" height="6.05" fill="#f97a86"/>
<rect x="166.17" y="221.31" width="4.61" height="6.05" fill="#f04848"/>
<rect x="170.73" y="221.31" width="13.72" height="6.05" fill="#cecbff"/>
<rect x="184.39" y="221.31" width="9.16" height="6.05" fill="#3800d2"/>
<rect x="193.50" y="221.31" width="4.61" height="6.05" fill="#ffc2e4"/>
<rect x="198.06" y="221.31" width="4.61" height="6.05" fill="#dc1408"/>
<rect x="202.61" y="221.31" width="4.61" height="6.05" fill="#ffc2e4"/>
<rect x="207.17" y="221.31" width="9.16" height="6.05" fill="#cecbff"/>
<rect x="216.28" y="221.31" width="4.61" height="6.05" fill="#6652ee"/>
<rect x="220.83" y="221.31" width="4.61" height="6.05" fill="#cecbff"/>
<rect x="225.39" y="221.31" width="9.16" height="6.05" fill="#3800d2"/>
<rect x="11.30" y="227.30" width="4.61" height="6.05" fill="#f97a86"/>
<rect x="15.86" y="227.30" width="4.61" height="6.05" fill="#ffc2e4"/>
<rect x="20.41" y="227.30" width="4.61" height="6.05" fill="#6652ee"/>
<rect x="24.97" y="227.30" width="4.61" height="6.05" fill="#ffc2e4"/>
<rect x="29.52" y="227.30" width="4.61" height="6.05" fill="#cecbff"/>
<rect x="34.08" y="227.30" width="4.61" height="6.05" fill="#f97a86"/>
<rect x="38.63" y="227.30" width="4.61" height="6.05" fill="#8686fd"/>
<rect x="43.19" y="227.30" width="9.16" height="6.05" fill="#cecbff"/>
<rect x="52.30" y="227.30" width="4.61" height="6.05" fill="#6652ee"/>
<rect x="56.85" y="227.30" width="4.61" height="6.05" fill="#f04848"/>
<rect x="61.41" y="227.30" width="4.61" height="6.05" fill="#dc1408"/>
<rect x="65.96" y="227.30" width="4.61" height="6.05" fill="#ffc2e4"/>
<rect x="70.52" y="227.30" width="4.61" height="6.05" fill="#f97a86"/>
<rect x="75.07" y="227.30" width="4.61" height="6.05" fill="#ffc2e4"/>
<rect x="79.63" y="227.30" width="4.61" height="6.05" fill="#8686fd"/>
<rect x="84.18" y="227.30" width="4.61" height="6.05" fill="#f97a86"/>
<rect x="88.74" y="227.30" width="9.16" height="6.05" fill="#cecbff"/>
<rect x="97.85" y="227.30" width="4.61" height="6.05" fill="#6652ee"/>
<rect x="102.40" y="227.30" width="4.61" height="6.05" fill="#cecbff"/>
<rect x="106.96" y="227.30" width="4.61" height="6.05" fill="#f04848"/>
<rect x="111.51" y="227.30" width="4.61" height="6.05" fill="#f97a86"/>
<rect x="116.07" y="227.30" width="13.72" height="6.05" fill="#ffc2e4"/>
<rect x="129.73" y="227.30" width="4.61" height="6.05" fill="#8686fd"/>
<rect x="134.29" y="227.30" width="4.61" height="6.05" fill="#6652ee"/>
<rect x="138.84" y="227.30" width="4.61" height="6.05" fill="#ffc2e4"/>
<rect x="143.40" y="227.30" width="4.61" height="6.05" fill="#f97a86"/>
<rect x="147.95" y="227.30" width="4.61" height="6.05" fill="#3800d2"/>
<rect x="152.51" y="227.30" width="4.61" height="6.05" fill="#8686fd"/>
<rect x="157.06" y="227.30" width="13.72" height="6.05" fill="#f97a86"/>
<rect x="170.73" y="227.30" width="4.61" height="6.05" fill="#6652ee"/>
<rect x="175.28" y="227.30" width="4.61" height="6.05" fill="#8686fd"/>
<rect x="179.84" y="227.30" width="4.61" height="6.05" fill="#ffc2e4"/>
<rect x="184.39" y="227.30" width="4.61" height="6.05" fill="#3800d2"/>
<rect x="188.95" y="227.30" width="4.61" height="6.05" fill="#6652ee"/>
<rect x="193.50" y="227.30" width="9.16" height="6.05" fill="#cecbff"/>
<rect x="202.61" y="227.30" width="4.61" height="6.05" fill="#ffc2e4"/>
<rect x="207.17" y="227.30" width="4.61" height="6.05" fill="#f97a86"/>
<rect x="211.72" y="227.30" width="9.16" height="6.05" fill="#8686fd"/>
<rect x="220.83" y="227.30" width="4.61" height="6.05" fill="#cecbff"/>
<rect x="225.39" y="227.30" width="4.61" height="6.05" fill="#6652ee"/>
<rect x="229.94" y="227.30" width="4.61" height="6.05" fill="#3800d2"/>
<rect x="11.30" y="233.30" width="4.61" height="6.05" fill="#cecbff"/>
<rect x="15.86" y="233.30" width="4.61" height="6.05" fill="#f97a86"/>
<rect x="20.41" y="233.30" width="4.61" height="6.05" fill="#6652ee"/>
<rect x="24.97" y="233.30" width="4.61" height="6.05" fill="#f97a86"/>
<rect x="29.52" y="233.30" width="4.61" height="6.05" fill="#8686fd"/>
<rect x="34.08" y="233.30" width="4.61" height="6.05" fill="#ffc2e4"/>
<rect x="38.63" y="233.30" width="4.61" height="6.05" fill="#f04848"/>
<rect x="43.19" y="233.30" width="4.61" height="6.05" fill="#cecbff"/>
<rect x="47.74" y="233.30" width="4.61" height="6.05" fill="#3800d2"/>
<rect x="52.30" y="233.30" width="4.61" height="6.05" fill="#cecbff"/>
<rect x="56.85" y="233.30" width="4.61" height="6.05" fill="#dc1408"/>
<rect x="61.41" y="233.30" width="4.61" height="6.05" fill="#f97a86"/>
<rect x="65.96" y="233.30" width="18.27" height="6.05" fill="#3800d2"/>
<rect x="84.18" y="233.30" width="4.61" height="6.05" fill="#dc1408"/>
<rect x="88.74" y="233.30" width="4.61" height="6.05" fill="#f04848"/>
<rect x="93.29" y="233.30" width="4.61" height="6.05" fill="#ffc2e4"/>
<rect x="97.85" y="233.30" width="4.61" height="6.05" fill="#3800d2"/>
<rect x="102.40" y="233.30" width="4.61" height="6.05" fill="#8686fd"/>
<rect x="106.96" y="233.30" width="4.61" height="6.05" fill="#cecbff"/>
<rect x="111.51" y="233.30" width="4.61" height="6.05" fill="#f04848"/>
<rect x="116.07" y="233.30" width="4.61" height="6.05" fill="#f97a86"/>
<rect x="120.62" y="233.30" width="4.61" height="6.05" fill="#dc1408"/>
<rect x="125.18" y="233.30" width="4.61" height="6.05" fill="#6652ee"/>
<rect x="129.73" y="233.30" width="4.61" height="6.05" fill="#8686fd"/>
<rect x="134.29" y="233.30" width="4.61" height="6.05" fill="#3800d2"/>
<rect x="138.84" y="233.30" width="4.61" height="6.05" fill="#8686fd"/>
<rect x="143.40" y="233.30" width="4.61" height="6.05" fill="#cecbff"/>
<rect x="147.95" y="233.30" width="4.61" height="6.05" fill="#6652ee"/>
<rect x="152.51" y="233.30" width="4.61" height="6.05" fill="#3800d2"/>
<rect x="157.06" y="233.30" width="9.16" height="6.05" fill="#ffc2e4"/>
<rect x="166.17" y="233.30" width="4.61" height="6.05" fill="#f04848"/>
<rect x="170.73" y="233.30" width="13.72" height="6.05" fill="#cecbff"/>
<rect x="184.39" y="233.30" width="4.61" height="6.05" fill="#3800d2"/>
<rect x="188.95" y="233.30" width="9.16" height="6.05" fill="#6652ee"/>
<rect x="198.06" y="233.30" width="4.61" height="6.05" fill="#dc1408"/>
<rect x="202.61" y="233.30" width="4.61" height="6.05" fill="#cecbff"/>
<rect x="207.17" y="233.30" width="4.61" height="6.05" fill="#8686fd"/>
<rect x="211.72" y="233.30" width="4.61" height="6.05" fill="#ffc2e4"/>
<rect x="216.28" y="233.30" width="4.61" height="6.05" fill="#3800d2"/>
<rect x="220.83" y="233.30" width="4.61" height="6.05" fill="#6652ee"/>
<rect x="225.39" y="233.30" width="9.16" height="6.05" fill="#3800d2"/>
<rect x="11.30" y="239.29" width="4.61" height="6.05" fill="#cecbff"/>
<rect x="15.86" y="239.29" width="4.61" height="6.05" fill="#f04848"/>
<rect x="20.41" y="239.29" width="4.61" height="6.05" fill="#3800d2"/>
<rect x="24.97" y="239.29" width="4.61" height="6.05" fill="#cecbff"/>
<rect x="29.52" y="239.29" width="4.61" height="6.05" fill="#ffc2e4"/>
<rect x="34.08" y="239.29" width="4.61" height="6.05" fill="#cecbff"/>
<rect x="38.63" y="239.29" width="4.61" height="6.05" fill="#ffc2e4"/>
<rect x="43.19" y="239.29" width="4.61" height="6.05" fill="#f97a86"/>
<rect x="47.74" y="239.29" width="4.61" height="6.05" fill="#cecbff"/>
<rect x="52.30" y="239.29" width="4.61" height="6.05" fill="#3800d2"/>
<rect x="56.85" y="239.29" width="4.61" height="6.05" fill="#f04848"/>
<rect x="61.41" y="239.29" width="4.61" height="6.05" fill="#f97a86"/>
<rect x="65.96" y="239.29" width="13.72" height="6.05" fill="#cecbff"/>
<rect x="79.63" y="239.29" width="4.61" height="6.05" fill="#f97a86"/>
<rect x="84.18" y="239.29" width="4.61" height="6.05" fill="#ffc2e4"/>
<rect x="88.74" y="239.29" width="9.16" height="6.05" fill="#f97a86"/>
<rect x="97.85" y="239.29" width="4.61" height="6.05" fill="#3800d2"/>
<rect x="102.40" y="239.29" width="4.61" height="6.05" fill="#8686fd"/>
<rect x="106.96" y="239.29" width="4.61" height="6.05" fill="#f04848"/>
<rect x="111.51" y="239.29" width="4.61" height="6.05" fill="#f97a86"/>
<rect x="116.07" y="239.29" width="4.61" height="6.05" fill="#dc1408"/>
<rect x="120.62" y="239.29" width="4.61" height="6.05" fill="#f97a86"/>
<rect x="125.18" y="239.29" width="4.61" height="6.05" fill="#f04848"/>
<rect x="129.73" y="239.29" width="4.61" height="6.05" fill="#3800d2"/>
<rect x="134.29" y="239.29" width="4.61" height="6.05" fill="#6652ee"/>
<rect x="138.84" y="239.29" width="4.61" height="6.05" fill="#8686fd"/>
<rect x="143.40" y="239.29" width="4.61" height="6.05" fill="#6652ee"/>
<rect x="147.95" y="239.29" width="4.61" height="6.05" fill="#3800d2"/>
<rect x="152.51" y="239.29" width="9.16" height="6.05" fill="#ffc2e4"/>
<rect x="161.62" y="239.29" width="4.61" height="6.05" fill="#f04848"/>
<rect x="166.17" y="239.29" width="13.72" height="6.05" fill="#cecbff"/>
<rect x="179.84" y="239.29" width="4.61" height="6.05" fill="#f97a86"/>
<rect x="184.39" y="239.29" width="13.72" height="6.05" fill="#3800d2"/>
<rect x="198.06" y="239.29" width="4.61" height="6.05" fill="#f97a86"/>
<rect x="202.61" y="239.29" width="4.61" height="6.05" fill="#ffc2e4"/>
<rect x="207.17" y="239.29" width="13.72" height="6.05" fill="#cecbff"/>
<rect x="220.83" y="239.29" width="4.61" height="6.05" fill="#f97a86"/>
<rect x="225.39" y="239.29" width="4.61" height="6.05" fill="#cecbff"/>
<rect x="229.94" y="239.29" width="4.61" height="6.05" fill="#3800d2"/>
<rect x="11.30" y="245.29" width="4.61" height="6.05" fill="#ffc2e4"/>
<rect x="15.86" y="245.29" width="4.61" height="6.05" fill="#dc1408"/>
<rect x="20.41" y="245.29" width="4.61" height="6.05" fill="#3800d2"/>
<rect x="24.97" y="245.29" width="4.61" height="6.05" fill="#8686fd"/>
<rect x="29.52" y="245.29" width="4.61" height="6.05" fill="#cecbff"/>
<rect x="34.08" y="245.29" width="4.61" height="6.05" fill="#ffc2e4"/>
<rect x="38.63" y="245.29" width="4.61" height="6.05" fill="#cecbff"/>
<rect x="43.19" y="245.29" width="4.61" height="6.05" fill="#6652ee"/>
<rect x="47.74" y="245.29" width="4.61" height="6.05" fill="#8686fd"/>
<rect x="52.30" y="245.29" width="4.61" height="6.05" fill="#3800d2"/>
<rect x="56.85" y="245.29" width="9.16" height="6.05" fill="#ffc2e4"/>
<rect x="65.96" y="245.29" width="4.61" height="6.05" fill="#cecbff"/>
<rect x="70.52" y="245.29" width="4.61" height="6.05" fill="#ffc2e4"/>
<rect x="75.07" y="245.29" width="9.16" height="6.05" fill="#cecbff"/>
<rect x="84.18" y="245.29" width="13.72" height="6.05" fill="#ffc2e4"/>
<rect x="97.85" y="245.29" width="4.61" height="6.05" fill="#3800d2"/>
<rect x="102.40" y="245.29" width="9.16" height="6.05" fill="#cecbff"/>
<rect x="111.51" y="245.29" width="4.61" height="6.05" fill="#ffc2e4"/>
<rect x="116.07" y="245.29" width="4.61" height="6.05" fill="#cecbff"/>
<rect x="120.62" y="245.29" width="4.61" height="6.05" fill="#f04848"/>
<rect x="125.18" y="245.29" width="4.61" height="6.05" fill="#ffc2e4"/>
<rect x="129.73" y="245.29" width="4.61" height="6.05" fill="#6652ee"/>
<rect x="134.29" y="245.29" width="4.61" height="6.05" fill="#3800d2"/>
<rect x="138.84" y="245.29" width="4.61" height="6.05" fill="#ffc2e4"/>
<rect x="143.40" y="245.29" width="9.16" height="6.05" fill="#6652ee"/>
<rect x="152.51" y="245.29" width="4.61" height="6.05" fill="#3800d2"/>
<rect x="157.06" y="245.29" width="4.61" height="6.05" fill="#ffc2e4"/>
<rect x="161.62" y="245.29" width="9.16" height="6.05" fill="#cecbff"/>
<rect x="170.73" y="245.29" width="4.61" height="6.05" fill="#8686fd"/>
<rect x="175.28" y="245.29" width="4.61" height="6.05" fill="#6652ee"/>
<rect x="179.84" y="245.29" width="4.61" height="6.05" fill="#8686fd"/>
<rect x="184.39" y="245.29" width="9.16" height="6.05" fill="#3800d2"/>
<rect x="193.50" y="245.29" width="4.61" height="6.05" fill="#cecbff"/>
<rect x="198.06" y="245.29" width="4.61" height="6.05" fill="#ffc2e4"/>
<rect x="202.61" y="245.29" width="4.61" height="6.05" fill="#8686fd"/>
<rect x="207.17" y="245.29" width="4.61" height="6.05" fill="#ffc2e4"/>
<rect x="211.72" y="245.29" width="4.61" height="6.05" fill="#8686fd"/>
<rect x="216.28" y="245.29" width="4.61" height="6.05" fill="#3800d2"/>
<rect x="220.83" y="245.29" width="4.61" height="6.05" fill="#ffc2e4"/>
<rect x="225.39" y="245.29" width="4.61" height="6.05" fill="#f97a86"/>
<rect x="229.94" y="245.29" width="4.61" height="6.05" fill="#3800d2"/>
<rect x="11.30" y="251.29" width="4.61" height="6.05" fill="#f97a86"/>
<rect x="15.86" y="251.29" width="4.61" height="6.05" fill="#f04848"/>
<rect x="20.41" y="251.29" width="4.61" height="6.05" fill="#8686fd"/>
<rect x="24.97" y="251.29" width="4.61" height="6.05" fill="#cecbff"/>
<rect x="29.52" y="251.29" width="4.61" height="6.05" fill="#6652ee"/>
<rect x="34.08" y="251.29" width="9.16" height="6.05" fill="#f04848"/>
<rect x="43.19" y="251.29" width="9.16" height="6.05" fill="#ffc2e4"/>
<rect x="52.30" y="251.29" width="4.61" height="6.05" fill="#6652ee"/>
<rect x="56.85" y="251.29" width="4.61" height="6.05" fill="#ffc2e4"/>
<rect x="61.41" y="251.29" width="4.61" height="6.05" fill="#dc1408"/>
<rect x="65.96" y="251.29" width="4.61" height="6.05" fill="#cecbff"/>
<rect x="70.52" y="251.29" width="4.61" height="6.05" fill="#6652ee"/>
<rect x="75.07" y="251.29" width="9.16" height="6.05" fill="#ffc2e4"/>
<rect x="84.18" y="251.29" width="13.72" height="6.05" fill="#f97a86"/>
<rect x="97.85" y="251.29" width="4.61" height="6.05" fill="#3800d2"/>
<rect x="102.40" y="251.29" width="4.61" height="6.05" fill="#8686fd"/>
<rect x="106.96" y="251.29" width="4.61" height="6.05" fill="#ffc2e4"/>
<rect x="111.51" y="251.29" width="4.61" height="6.05" fill="#f97a86"/>
<rect x="116.07" y="251.29" width="4.61" height="6.05" fill="#f04848"/>
<rect x="120.62" y="251.29" width="4.61" height="6.05" fill="#ffc2e4"/>
<rect x="125.18" y="251.29" width="4.61" height="6.05" fill="#cecbff"/>
<rect x="129.73" y="251.29" width="4.61" height="6.05" fill="#dc1408"/>
<rect x="134.29" y="251.29" width="4.61" height="6.05" fill="#8686fd"/>
<rect x="138.84" y="251.29" width="4.61" height="6.05" fill="#6652ee"/>
<rect x="143.40" y="251.29" width="9.16" height="6.05" fill="#8686fd"/>
<rect x="152.51" y="251.29" width="4.61" height="6.05" fill="#f97a86"/>
<rect x="157.06" y="251.29" width="4.61" height="6.05" fill="#cecbff"/>
<rect x="161.62" y="251.29" width="9.16" height="6.05" fill="#f97a86"/>
<rect x="170.73" y="251.29" width="9.16" height="6.05" fill="#cecbff"/>
<rect x="179.84" y="251.29" width="4.61" height="6.05" fill="#6652ee"/>
<rect x="184.39" y="251.29" width="4.61" height="6.05" fill="#8686fd"/>
<rect x="188.95" y="251.29" width="4.61" height="6.05" fill="#6652ee"/>
<rect x="193.50" y="251.29" width="4.61" height="6.05" fill="#3800d2"/>
<rect x="198.06" y="251.29" width="4.61" height="6.05" fill="#f97a86"/>
<rect x="202.61" y="251.29" width="4.61" height="6.05" fill="#cecbff"/>
<rect x="207.17" y="251.29" width="4.61" height="6.05" fill="#f97a86"/>
<rect x="211.72" y="251.29" width="4.61" height="6.05" fill="#cecbff"/>
<rect x="216.28" y="251.29" width="4.61" height="6.05" fill="#3800d2"/>
<rect x="220.83" y="251.29" width="9.16" height="6.05" fill="#f97a86"/>
<rect x="229.94" y="251.29" width="4.61" height="6.05" fill="#6652ee"/>
<rect x="11.30" y="257.28" width="4.61" height="6.05" fill="#ffc2e4"/>
<rect x="15.86" y="257.28" width="4.61" height="6.05" fill="#f97a86"/>
<rect x="20.41" y="257.28" width="4.61" height="6.05" fill="#3800d2"/>
<rect x="24.97" y="257.28" width="4.61" height="6.05" fill="#cecbff"/>
<rect x="29.52" y="257.28" width="4.61" height="6.05" fill="#6652ee"/>
<rect x="34.08" y="257.28" width="9.16" height="6.05" fill="#f97a86"/>
<rect x="43.19" y="257.28" width="4.61" height="6.05" fill="#cecbff"/>
<rect x="47.74" y="257.28" width="9.16" height="6.05" fill="#3800d2"/>
<rect x="56.85" y="257.28" width="4.61" height="6.05" fill="#dc1408"/>
<rect x="61.41" y="257.28" width="4.61" height="6.05" fill="#f04848"/>
<rect x="65.96" y="257.28" width="4.61" height="6.05" fill="#6652ee"/>
<rect x="70.52" y="257.28" width="9.16" height="6.05" fill="#3800d2"/>
<rect x="79.63" y="257.28" width="4.61" height="6.05" fill="#ffc2e4"/>
<rect x="84.18" y="257.28" width="4.61" height="6.05" fill="#f04848"/>
<rect x="88.74" y="257.28" width="4.61" height="6.05" fill="#f97a86"/>
<rect x="93.29" y="257.28" width="4.61" height="6.05" fill="#ffc2e4"/>
<rect x="97.85" y="257.28" width="9.16" height="6.05" fill="#3800d2"/>
<rect x="106.96" y="257.28" width="13.72" height="6.05" fill="#f97a86"/>
<rect x="120.62" y="257.28" width="4.61" height="6.05" fill="#dc1408"/>
<rect x="125.18" y="257.28" width="4.61" height="6.05" fill="#ffc2e4"/>
<rect x="129.73" y="257.28" width="4.61" height="6.05" fill="#6652ee"/>
<rect x="134.29" y="257.28" width="4.61" height="6.05" fill="#3800d2"/>
<rect x="138.84" y="257.28" width="4.61" height="6.05" fill="#cecbff"/>
<rect x="143.40" y="257.28" width="9.16" height="6.05" fill="#3800d2"/>
<rect x="152.51" y="257.28" width="4.61" height="6.05" fill="#8686fd"/>
<rect x="157.06" y="257.28" width="4.61" height="6.05" fill="#ffc2e4"/>
<rect x="161.62" y="257.28" width="4.61" height="6.05" fill="#f04848"/>
<rect x="166.17" y="257.28" width="4.61" height="6.05" fill="#cecbff"/>
<rect x="170.73" y="257.28" width="9.16" height="6.05" fill="#8686fd"/>
<rect x="179.84" y="257.28" width="4.61" height="6.05" fill="#f97a86"/>
<rect x="184.39" y="257.28" width="13.72" height="6.05" fill="#3800d2"/>
<rect x="198.06" y="257.28" width="4.61" height="6.05" fill="#f97a86"/>
<rect x="202.61" y="257.28" width="4.61" height="6.05" fill="#ffc2e4"/>
<rect x="207.17" y="257.28" width="4.61" height="6.05" fill="#cecbff"/>
<rect x="211.72" y="257.28" width="4.61" height="6.05" fill="#8686fd"/>
<rect x="216.28" y="257.28" width="4.61" height="6.05" fill="#f97a86"/>
<rect x="220.83" y="257.28" width="4.61" height="6.05" fill="#cecbff"/>
<rect x="225.39" y="257.28" width="9.16" height="6.05" fill="#3800d2"/>
<rect x="11.30" y="263.28" width="18.27" height="6.05" fill="#3800d2"/>
<rect x="29.52" y="263.28" width="4.61" height="6.05" fill="#ffc2e4"/>
<rect x="34.08" y="263.28" width="13.72" height="6.05" fill="#3800d2"/>
<rect x="47.74" y="263.28" width="4.61" height="6.05" fill="#dc1408"/>
<rect x="52.30" y="263.28" width="13.72" height="6.05" fill="#3800d2"/>
<rect x="65.96" y="263.28" width="4.61" height="6.05" fill="#ffc2e4"/>
<rect x="70.52" y="263.28" width="4.61" height="6.05" fill="#f97a86"/>
<rect x="75.07" y="263.28" width="4.61" height="6.05" fill="#ffc2e4"/>
<rect x="79.63" y="263.28" width="4.61" height="6.05" fill="#3800d2"/>
<rect x="84.18" y="263.28" width="4.61" height="6.05" fill="#ffc2e4"/>
<rect x="88.74" y="263.28" width="27.38" height="6.05" fill="#3800d2"/>
<rect x="116.07" y="263.28" width="4.61" height="6.05" fill="#ffc2e4"/>
<rect x="120.62" y="263.28" width="31.94" height="6.05" fill="#3800d2"/>
<rect x="152.51" y="263.28" width="4.61" height="6.05" fill="#ffc2e4"/>
<rect x="157.06" y="263.28" width="22.83" height="6.05" fill="#3800d2"/>
<rect x="179.84" y="263.28" width="4.61" height="6.05" fill="#ffc2e4"/>
<rect x="184.39" y="263.28" width="22.83" height="6.05" fill="#3800d2"/>
<rect x="207.17" y="263.28" width="4.61" height="6.05" fill="#ffc2e4"/>
<rect x="211.72" y="263.28" width="13.72" height="6.05" fill="#3800d2"/>
<rect x="225.39" y="263.28" width="4.61" height="6.05" fill="#ffc2e4"/>
<rect x="229.94" y="263.28" width="4.61" height="6.05" fill="#3800d2"/>
<rect x="11.30" y="269.27" width="4.61" height="6.05" fill="#ffc2e4"/>
<rect x="15.86" y="269.27" width="4.61" height="6.05" fill="#f97a86"/>
<rect x="20.41" y="269.27" width="9.16" height="6.05" fill="#3800d2"/>
<rect x="29.52" y="269.27" width="4.61" height="6.05" fill="#cecbff"/>
<rect x="34.08" y="269.27" width="4.61" height="6.05" fill="#ffc2e4"/>
<rect x="38.63" y="269.27" width="4.61" height="6.05" fill="#f04848"/>
<rect x="43.19" y="269.27" width="4.61" height="6.05" fill="#dc1408"/>
<rect x="47.74" y="269.27" width="9.16" height="6.05" fill="#3800d2"/>
<rect x="56.85" y="269.27" width="4.61" height="6.05" fill="#cecbff"/>
<rect x="61.41" y="269.27" width="4.61" height="6.05" fill="#f97a86"/>
<rect x="65.96" y="269.27" width="13.72" height="6.05" fill="#3800d2"/>
<rect x="79.63" y="269.27" width="4.61" height="6.05" fill="#f04848"/>
<rect x="84.18" y="269.27" width="4.61" height="6.05" fill="#ffc2e4"/>
<rect x="88.74" y="269.27" width="9.16" height="6.05" fill="#f97a86"/>
<rect x="97.85" y="269.27" width="4.61" height="6.05" fill="#3800d2"/>
<rect x="102.40" y="269.27" width="4.61" height="6.05" fill="#f97a86"/>
<rect x="106.96" y="269.27" width="4.61" height="6.05" fill="#3800d2"/>
<rect x="111.51" y="269.27" width="4.61" height="6.05" fill="#f97a86"/>
<rect x="116.07" y="269.27" width="4.61" height="6.05" fill="#3800d2"/>
<rect x="120.62" y="269.27" width="4.61" height="6.05" fill="#ffc2e4"/>
<rect x="125.18" y="269.27" width="4.61" height="6.05" fill="#6652ee"/>
<rect x="129.73" y="269.27" width="4.61" height="6.05" fill="#3800d2"/>
<rect x="134.29" y="269.27" width="9.16" height="6.05" fill="#6652ee"/>
<rect x="143.40" y="269.27" width="4.61" height="6.05" fill="#3800d2"/>
<rect x="147.95" y="269.27" width="4.61" height="6.05" fill="#ffc2e4"/>
<rect x="152.51" y="269.27" width="4.61" height="6.05" fill="#3800d2"/>
<rect x="157.06" y="269.27" width="4.61" height="6.05" fill="#f97a86"/>
<rect x="161.62" y="269.27" width="4.61" height="6.05" fill="#8686fd"/>
<rect x="166.17" y="269.27" width="4.61" height="6.05" fill="#6652ee"/>
<rect x="170.73" y="269.27" width="4.61" height="6.05" fill="#f97a86"/>
<rect x="175.28" y="269.27" width="4.61" height="6.05" fill="#f04848"/>
<rect x="179.84" y="269.27" width="4.61" height="6.05" fill="#8686fd"/>
<rect x="184.39" y="269.27" width="4.61" height="6.05" fill="#ffc2e4"/>
<rect x="188.95" y="269.27" width="4.61" height="6.05" fill="#cecbff"/>
<rect x="193.50" y="269.27" width="9.16" height="6.05" fill="#3800d2"/>
<rect x="202.61" y="269.27" width="4.61" height="6.05" fill="#f97a86"/>
<rect x="207.17" y="269.27" width="4.61" height="6.05" fill="#8686fd"/>
<rect x="211.72" y="269.27" width="4.61" height="6.05" fill="#6652ee"/>
<rect x="216.28" y="269.27" width="4.61" height="6.05" fill="#3800d2"/>
<rect x="220.83" y="269.27" width="4.61" height="6.05" fill="#6652ee"/>
<rect x="225.39" y="269.27" width="9.16" height="6.05" fill="#ffc2e4"/>
<rect x="11.30" y="275.27" width="4.61" height="6.05" fill="#f04848"/>
<rect x="15.86" y="275.27" width="4.61" height="6.05" fill="#f97a86"/>
<rect x="20.41" y="275.27" width="4.61" height="6.05" fill="#cecbff"/>
<rect x="24.97" y="275.27" width="4.61" height="6.05" fill="#ffc2e4"/>
<rect x="29.52" y="275.27" width="4.61" height="6.05" fill="#cecbff"/>
<rect x="34.08" y="275.27" width="4.61" height="6.05" fill="#dc1408"/>
<rect x="38.63" y="275.27" width="4.61" height="6.05" fill="#f97a86"/>
<rect x="43.19" y="275.27" width="4.61" height="6.05" fill="#8686fd"/>
<rect x="47.74" y="275.27" width="9.16" height="6.05" fill="#3800d2"/>
<rect x="56.85" y="275.27" width="9.16" height="6.05" fill="#f04848"/>
<rect x="65.96" y="275.27" width="13.72" height="6.05" fill="#3800d2"/>
<rect x="79.63" y="275.27" width="4.61" height="6.05" fill="#ffc2e4"/>
<rect x="84.18" y="275.27" width="4.61" height="6.05" fill="#f04848"/>
<rect x="88.74" y="275.27" width="9.16" height="6.05" fill="#cecbff"/>
<rect x="97.85" y="275.27" width="9.16" height="6.05" fill="#3800d2"/>
<rect x="106.96" y="275.27" width="4.61" height="6.05" fill="#ffc2e4"/>
<rect x="111.51" y="275.27" width="4.61" height="6.05" fill="#f97a86"/>
<rect x="116.07" y="275.27" width="4.61" height="6.05" fill="#f04848"/>
<rect x="120.62" y="275.27" width="4.61" height="6.05" fill="#f97a86"/>
<rect x="125.18" y="275.27" width="4.61" height="6.05" fill="#6652ee"/>
<rect x="129.73" y="275.27" width="9.16" height="6.05" fill="#8686fd"/>
<rect x="138.84" y="275.27" width="4.61" height="6.05" fill="#6652ee"/>
<rect x="143.40" y="275.27" width="4.61" height="6.05" fill="#cecbff"/>
<rect x="147.95" y="275.27" width="4.61" height="6.05" fill="#3800d2"/>
<rect x="152.51" y="275.27" width="4.61" height="6.05" fill="#cecbff"/>
<rect x="157.06" y="275.27" width="4.61" height="6.05" fill="#ffc2e4"/>
<rect x="161.62" y="275.27" width="9.16" height="6.05" fill="#f97a86"/>
<rect x="170.73" y="275.27" width="9.16" height="6.05" fill="#ffc2e4"/>
<rect x="179.84" y="275.27" width="4.61" height="6.05" fill="#cecbff"/>
<rect x="184.39" y="275.27" width="4.61" height="6.05" fill="#3800d2"/>
<rect x="188.95" y="275.27" width="4.61" height="6.05" fill="#6652ee"/>
<rect x="193.50" y="275.27" width="4.61" height="6.05" fill="#8686fd"/>
<rect x="198.06" y="275.27" width="4.61" height="6.05" fill="#dc1408"/>
<rect x="202.61" y="275.27" width="4.61" height="6.05" fill="#cecbff"/>
<rect x="207.17" y="275.27" width="9.16" height="6.05" fill="#ffc2e4"/>
<rect x="216.28" y="275.27" width="4.61" height="6.05" fill="#6652ee"/>
<rect x="220.83" y="275.27" width="4.61" height="6.05" fill="#f97a86"/>
<rect x="225.39" y="275.27" width="4.61" height="6.05" fill="#8686fd"/>
<rect x="229.94" y="275.27" width="4.61" height="6.05" fill="#3800d2"/>
<rect x="11.30" y="281.27" width="4.61" height="6.05" fill="#8686fd"/>
<rect x="15.86" y="281.27" width="4.61" height="6.05" fill="#ffc2e4"/>
<rect x="20.41" y="281.27" width="4.61" height="6.05" fill="#3800d2"/>
<rect x="24.97" y="281.27" width="4.61" height="6.05" fill="#cecbff"/>
<rect x="29.52" y="281.27" width="4.61" height="6.05" fill="#8686fd"/>
<rect x="34.08" y="281.27" width="4.61" height="6.05" fill="#cecbff"/>
<rect x="38.63" y="281.27" width="4.61" height="6.05" fill="#ffc2e4"/>
<rect x="43.19" y="281.27" width="4.61" height="6.05" fill="#cecbff"/>
<rect x="47.74" y="281.27" width="4.61" height="6.05" fill="#dc1408"/>
<rect x="52.30" y="281.27" width="4.61" height="6.05" fill="#3800d2"/>
<rect x="56.85" y="281.27" width="4.61" height="6.05" fill="#f97a86"/>
<rect x="61.41" y="281.27" width="4.61" height="6.05" fill="#8686fd"/>
<rect x="65.96" y="281.27" width="4.61" height="6.05" fill="#f97a86"/>
<rect x="70.52" y="281.27" width="4.61" height="6.05" fill="#8686fd"/>
<rect x="75.07" y="281.27" width="4.61" height="6.05" fill="#f97a86"/>
<rect x="79.63" y="281.27" width="9.16" height="6.05" fill="#cecbff"/>
<rect x="88.74" y="281.27" width="4.61" height="6.05" fill="#8686fd"/>
<rect x="93.29" y="281.27" width="4.61" height="6.05" fill="#ffc2e4"/>
<rect x="97.85" y="281.27" width="4.61" height="6.05" fill="#3800d2"/>
<rect x="102.40" y="281.27" width="4.61" height="6.05" fill="#8686fd"/>
<rect x="106.96" y="281.27" width="9.16" height="6.05" fill="#ffc2e4"/>
<rect x="116.07" y="281.27" width="4.61" height="6.05" fill="#f97a86"/>
<rect x="120.62" y="281.27" width="4.61" height="6.05" fill="#ffc2e4"/>
<rect x="125.18" y="281.27" width="4.61" height="6.05" fill="#8686fd"/>
<rect x="129.73" y="281.27" width="4.61" height="6.05" fill="#cecbff"/>
<rect x="134.29" y="281.27" width="4.61" height="6.05" fill="#f97a86"/>
<rect x="138.84" y="281.27" width="4.61" height="6.05" fill="#8686fd"/>
<rect x="143.40" y="281.27" width="4.61" height="6.05" fill="#cecbff"/>
<rect x="147.95" y="281.27" width="4.61" height="6.05" fill="#8686fd"/>
<rect x="152.51" y="281.27" width="4.61" height="6.05" fill="#3800d2"/>
<rect x="157.06" y="281.27" width="4.61" height="6.05" fill="#f97a86"/>
<rect x="161.62" y="281.27" width="4.61" height="6.05" fill="#ffc2e4"/>
<rect x="166.17" y="281.27" width="18.27" height="6.05" fill="#cecbff"/>
<rect x="184.39" y="281.27" width="4.61" height="6.05" fill="#6652ee"/>
<rect x="188.95" y="281.27" width="9.16" height="6.05" fill="#8686fd"/>
<rect x="198.06" y="281.27" width="4.61" height="6.05" fill="#f97a86"/>
<rect x="202.61" y="281.27" width="4.61" height="6.05" fill="#ffc2e4"/>
<rect x="207.17" y="281.27" width="4.61" height="6.05" fill="#f97a86"/>
<rect x="211.72" y="281.27" width="4.61" height="6.05" fill="#8686fd"/>
<rect x="216.28" y="281.27" width="4.61" height="6.05" fill="#6652ee"/>
<rect x="220.83" y="281.27" width="4.61" height="6.05" fill="#cecbff"/>
<rect x="225.39" y="281.27" width="4.61" height="6.05" fill="#ffc2e4"/>
<rect x="229.94" y="281.27" width="4.61" height="6.05" fill="#cecbff"/>
<rect x="11.30" y="287.26" width="9.16" height="6.05" fill="#f97a86"/>
<rect x="20.41" y="287.26" width="4.61" height="6.05" fill="#cecbff"/>
<rect x="24.97" y="287.26" width="4.61" height="6.05" fill="#3800d2"/>
<rect x="29.52" y="287.26" width="9.16" height="6.05" fill="#ffc2e4"/>
<rect x="38.63" y="287.26" width="4.61" height="6.05" fill="#8686fd"/>
<rect x="43.19" y="287.26" width="4.61" height="6.05" fill="#3800d2"/>
<rect x="47.74" y="287.26" width="4.61" height="6.05" fill="#8686fd"/>
<rect x="52.30" y="287.26" width="4.61" height="6.05" fill="#6652ee"/>
<rect x="56.85" y="287.26" width="4.61" height="6.05" fill="#cecbff"/>
<rect x="61.41" y="287.26" width="4.61" height="6.05" fill="#f97a86"/>
<rect x="65.96" y="287.26" width="4.61" height="6.05" fill="#cecbff"/>
<rect x="70.52" y="287.26" width="9.16" height="6.05" fill="#8686fd"/>
<rect x="79.63" y="287.26" width="4.61" height="6.05" fill="#6652ee"/>
<rect x="84.18" y="287.26" width="4.61" height="6.05" fill="#ffc2e4"/>
<rect x="88.74" y="287.26" width="4.61" height="6.05" fill="#3800d2"/>
<rect x="93.29" y="287.26" width="4.61" height="6.05" fill="#6652ee"/>
<rect x="97.85" y="287.26" width="4.61" height="6.05" fill="#3800d2"/>
<rect x="102.40" y="287.26" width="4.61" height="6.05" fill="#cecbff"/>
<rect x="106.96" y="287.26" width="4.61" height="6.05" fill="#dc1408"/>
<rect x="111.51" y="287.26" width="4.61" height="6.05" fill="#8686fd"/>
<rect x="116.07" y="287.26" width="9.16" height="6.05" fill="#ffc2e4"/>
<rect x="125.18" y="287.26" width="4.61" height="6.05" fill="#f04848"/>
<rect x="129.73" y="287.26" width="4.61" height="6.05" fill="#3800d2"/>
<rect x="134.29" y="287.26" width="9.16" height="6.05" fill="#8686fd"/>
<rect x="143.40" y="287.26" width="4.61" height="6.05" fill="#6652ee"/>
<rect x="147.95" y="287.26" width="4.61" height="6.05" fill="#3800d2"/>
<rect x="152.51" y="287.26" width="4.61" height="6.05" fill="#6652ee"/>
<rect x="157.06" y="287.26" width="4.61" height="6.05" fill="#cecbff"/>
<rect x="161.62" y="287.26" width="4.61" height="6.05" fill="#ffc2e4"/>
<rect x="166.17" y="287.26" width="4.61" height="6.05" fill="#cecbff"/>
<rect x="170.73" y="287.26" width="9.16" height="6.05" fill="#3800d2"/>
<rect x="179.84" y="287.26" width="4.61" height="6.05" fill="#f97a86"/>
<rect x="184.39" y="287.26" width="4.61" height="6.05" fill="#3800d2"/>
<rect x="188.95" y="287.26" width="4.61" height="6.05" fill="#8686fd"/>
<rect x="193.50" y="287.26" width="4.61" height="6.05" fill="#3800d2"/>
<rect x="198.06" y="287.26" width="4.61" height="6.05" fill="#f97a86"/>
<rect x="202.61" y="287.26" width="9.16" height="6.05" fill="#cecbff"/>
<rect x="211.72" y="287.26" width="4.61" height="6.05" fill="#ffc2e4"/>
<rect x="216.28" y="287.26" width="4.61" height="6.05" fill="#f97a86"/>
<rect x="220.83" y="287.26" width="4.61" height="6.05" fill="#6652ee"/>
<rect x="225.39" y="287.26" width="4.61" height="6.05" fill="#cecbff"/>
<rect x="229.94" y="287.26" width="4.61" height="6.05" fill="#3800d2"/>
<rect x="11.30" y="293.26" width="4.61" height="6.05" fill="#dc1408"/>
<rect x="15.86" y="293.26" width="4.61" height="6.05" fill="#8686fd"/>
<rect x="20.41" y="293.26" width="4.61" height="6.05" fill="#f04848"/>
<rect x="24.97" y="293.26" width="9.16" height="6.05" fill="#f97a86"/>
<rect x="34.08" y="293.26" width="4.61" height="6.05" fill="#cecbff"/>
<rect x="38.63" y="293.26" width="9.16" height="6.05" fill="#f97a86"/>
<rect x="47.74" y="293.26" width="4.61" height="6.05" fill="#3800d2"/>
<rect x="52.30" y="293.26" width="4.61" height="6.05" fill="#8686fd"/>
<rect x="56.85" y="293.26" width="4.61" height="6.05" fill="#6652ee"/>
<rect x="61.41" y="293.26" width="4.61" height="6.05" fill="#ffc2e4"/>
<rect x="65.96" y="293.26" width="13.72" height="6.05" fill="#3800d2"/>
<rect x="79.63" y="293.26" width="4.61" height="6.05" fill="#8686fd"/>
<rect x="84.18" y="293.26" width="4.61" height="6.05" fill="#ffc2e4"/>
<rect x="88.74" y="293.26" width="9.16" height="6.05" fill="#cecbff"/>
<rect x="97.85" y="293.26" width="4.61" height="6.05" fill="#f04848"/>
<rect x="102.40" y="293.26" width="9.16" height="6.05" fill="#ffc2e4"/>
<rect x="111.51" y="293.26" width="18.27" height="6.05" fill="#8686fd"/>
<rect x="129.73" y="293.26" width="4.61" height="6.05" fill="#3800d2"/>
<rect x="134.29" y="293.26" width="4.61" height="6.05" fill="#cecbff"/>
<rect x="138.84" y="293.26" width="9.16" height="6.05" fill="#f97a86"/>
<rect x="147.95" y="293.26" width="4.61" height="6.05" fill="#cecbff"/>
<rect x="152.51" y="293.26" width="4.61" height="6.05" fill="#3800d2"/>
<rect x="157.06" y="293.26" width="4.61" height="6.05" fill="#8686fd"/>
<rect x="161.62" y="293.26" width="4.61" height="6.05" fill="#6652ee"/>
<rect x="166.17" y="293.26" width="18.27" height="6.05" fill="#cecbff"/>
<rect x="184.39" y="293.26" width="4.61" height="6.05" fill="#f97a86"/>
<rect x="188.95" y="293.26" width="4.61" height="6.05" fill="#8686fd"/>
<rect x="193.50" y="293.26" width="4.61" height="6.05" fill="#cecbff"/>
<rect x="198.06" y="293.26" width="4.61" height="6.05" fill="#f97a86"/>
<rect x="202.61" y="293.26" width="4.61" height="6.05" fill="#8686fd"/>
<rect x="207.17" y="293.26" width="13.72" height="6.05" fill="#cecbff"/>
<rect x="220.83" y="293.26" width="9.16" height="6.05" fill="#8686fd"/>
<rect x="229.94" y="293.26" width="4.61" height="6.05" fill="#f97a86"/>
<rect x="11.30" y="299.25" width="4.61" height="6.05" fill="#6652ee"/>
<rect x="15.86" y="299.25" width="4.61" height="6.05" fill="#cecbff"/>
<rect x="20.41" y="299.25" width="4.61" height="6.05" fill="#3800d2"/>
<rect x="24.97" y="299.25" width="9.16" height="6.05" fill="#cecbff"/>
<rect x="34.08" y="299.25" width="4.61" height="6.05" fill="#ffc2e4"/>
<rect x="38.63" y="299.25" width="4.61" height="6.05" fill="#f97a86"/>
<rect x="43.19" y="299.25" width="4.61" height="6.05" fill="#ffc2e4"/>
<rect x="47.74" y="299.25" width="9.16" height="6.05" fill="#3800d2"/>
<rect x="56.85" y="299.25" width="4.61" height="6.05" fill="#f04848"/>
<rect x="61.41" y="299.25" width="4.61" height="6.05" fill="#ffc2e4"/>
<rect x="65.96" y="299.25" width="13.72" height="6.05" fill="#3800d2"/>
<rect x="79.63" y="299.25" width="4.61" height="6.05" fill="#ffc2e4"/>
<rect x="84.18" y="299.25" width="4.61" height="6.05" fill="#f97a86"/>
<rect x="88.74" y="299.25" width="4.61" height="6.05" fill="#6652ee"/>
<rect x="93.29" y="299.25" width="4.61" height="6.05" fill="#f97a86"/>
<rect x="97.85" y="299.25" width="4.61" height="6.05" fill="#3800d2"/>
<rect x="102.40" y="299.25" width="4.61" height="6.05" fill="#8686fd"/>
<rect x="106.96" y="299.25" width="4.61" height="6.05" fill="#cecbff"/>
<rect x="111.51" y="299.25" width="4.61" height="6.05" fill="#dc1408"/>
<rect x="116.07" y="299.25" width="4.61" height="6.05" fill="#f97a86"/>
<rect x="120.62" y="299.25" width="4.61" height="6.05" fill="#f04848"/>
<rect x="125.18" y="299.25" width="4.61" height="6.05" fill="#ffc2e4"/>
<rect x="129.73" y="299.25" width="4.61" height="6.05" fill="#6652ee"/>
<rect x="134.29" y="299.25" width="4.61" height="6.05" fill="#3800d2"/>
<rect x="138.84" y="299.25" width="4.61" height="6.05" fill="#8686fd"/>
<rect x="143.40" y="299.25" width="13.72" height="6.05" fill="#6652ee"/>
<rect x="157.06" y="299.25" width="9.16" height="6.05" fill="#f97a86"/>
<rect x="166.17" y="299.25" width="4.61" height="6.05" fill="#ffc2e4"/>
<rect x="170.73" y="299.25" width="9.16" height="6.05" fill="#cecbff"/>
<rect x="179.84" y="299.25" width="4.61" height="6.05" fill="#f97a86"/>
<rect x="184.39" y="299.25" width="4.61" height="6.05" fill="#3800d2"/>
<rect x="188.95" y="299.25" width="4.61" height="6.05" fill="#cecbff"/>
<rect x="193.50" y="299.25" width="4.61" height="6.05" fill="#6652ee"/>
<rect x="198.06" y="299.25" width="9.16" height="6.05" fill="#f97a86"/>
<rect x="207.17" y="299.25" width="4.61" height="6.05" fill="#cecbff"/>
<rect x="211.72" y="299.25" width="4.61" height="6.05" fill="#ffc2e4"/>
<rect x="216.28" y="299.25" width="9.16" height="6.05" fill="#cecbff"/>
<rect x="225.39" y="299.25" width="4.61" height="6.05" fill="#3800d2"/>
<rect x="229.94" y="299.25" width="4.61" height="6.05" fill="#6652ee"/>
<rect x="11.30" y="305.25" width="4.61" height="6.05" fill="#ffc2e4"/>
<rect x="15.86" y="305.25" width="4.61" height="6.05" fill="#8686fd"/>
<rect x="20.41" y="305.25" width="4.61" height="6.05" fill="#cecbff"/>
<rect x="24.97" y="305.25" width="4.61" height="6.05" fill="#ffc2e4"/>
<rect x="29.52" y="305.25" width="4.61" height="6.05" fill="#cecbff"/>
<rect x="34.08" y="305.25" width="9.16" height="6.05" fill="#f04848"/>
<rect x="43.19" y="305.25" width="4.61" height="6.05" fill="#ffc2e4"/>
<rect x="47.74" y="305.25" width="9.16" height="6.05" fill="#3800d2"/>
<rect x="56.85" y="305.25" width="4.61" height="6.05" fill="#6652ee"/>
<rect x="61.41" y="305.25" width="4.61" height="6.05" fill="#ffc2e4"/>
<rect x="65.96" y="305.25" width="13.72" height="6.05" fill="#3800d2"/>
<rect x="79.63" y="305.25" width="9.16" height="6.05" fill="#f97a86"/>
<rect x="88.74" y="305.25" width="4.61" height="6.05" fill="#dc1408"/>
<rect x="93.29" y="305.25" width="4.61" height="6.05" fill="#ffc2e4"/>
<rect x="97.85" y="305.25" width="13.72" height="6.05" fill="#6652ee"/>
<rect x="111.51" y="305.25" width="4.61" height="6.05" fill="#ffc2e4"/>
<rect x="116.07" y="305.25" width="4.61" height="6.05" fill="#6652ee"/>
<rect x="120.62" y="305.25" width="4.61" height="6.05" fill="#ffc2e4"/>
<rect x="125.18" y="305.25" width="4.61" height="6.05" fill="#3800d2"/>
<rect x="129.73" y="305.25" width="9.16" height="6.05" fill="#f97a86"/>
<rect x="138.84" y="305.25" width="4.61" height="6.05" fill="#8686fd"/>
<rect x="143.40" y="305.25" width="4.61" height="6.05" fill="#cecbff"/>
<rect x="147.95" y="305.25" width="4.61" height="6.05" fill="#ffc2e4"/>
<rect x="152.51" y="305.25" width="4.61" height="6.05" fill="#6652ee"/>
<rect x="157.06" y="305.25" width="4.61" height="6.05" fill="#cecbff"/>
<rect x="161.62" y="305.25" width="4.61" height="6.05" fill="#3800d2"/>
<rect x="166.17" y="305.25" width="13.72" height="6.05" fill="#f97a86"/>
<rect x="179.84" y="305.25" width="4.61" height="6.05" fill="#3800d2"/>
<rect x="184.39" y="305.25" width="9.16" height="6.05" fill="#ffc2e4"/>
<rect x="193.50" y="305.25" width="4.61" height="6.05" fill="#8686fd"/>
<rect x="198.06" y="305.25" width="4.61" height="6.05" fill="#3800d2"/>
<rect x="202.61" y="305.25" width="4.61" height="6.05" fill="#ffc2e4"/>
<rect x="207.17" y="305.25" width="13.72" height="6.05" fill="#3800d2"/>
<rect x="220.83" y="305.25" width="4.61" height="6.05" fill="#6652ee"/>
<rect x="225.39" y="305.25" width="9.16" height="6.05" fill="#f97a86"/>
<rect x="11.30" y="311.24" width="4.61" height="6.05" fill="#cecbff"/>
<rect x="15.86" y="311.24" width="4.61" height="6.05" fill="#ffc2e4"/>
<rect x="20.41" y="311.24" width="4.61" height="6.05" fill="#3800d2"/>
<rect x="24.97" y="311.24" width="9.16" height="6.05" fill="#cecbff"/>
<rect x="34.08" y="311.24" width="4.61" height="6.05" fill="#f97a86"/>
<rect x="38.63" y="311.24" width="4.61" height="6.05" fill="#ffc2e4"/>
<rect x="43.19" y="311.24" width="13.72" height="6.05" fill="#8686fd"/>
<rect x="56.85" y="311.24" width="4.61" height="6.05" fill="#f04848"/>
<rect x="61.41" y="311.24" width="4.61" height="6.05" fill="#ffc2e4"/>
<rect x="65.96" y="311.24" width="4.61" height="6.05" fill="#6652ee"/>
<rect x="70.52" y="311.24" width="4.61" height="6.05" fill="#cecbff"/>
<rect x="75.07" y="311.24" width="4.61" height="6.05" fill="#6652ee"/>
<rect x="79.63" y="311.24" width="4.61" height="6.05" fill="#cecbff"/>
<rect x="84.18" y="311.24" width="9.16" height="6.05" fill="#ffc2e4"/>
<rect x="93.29" y="311.24" width="4.61" height="6.05" fill="#8686fd"/>
<rect x="97.85" y="311.24" width="4.61" height="6.05" fill="#3800d2"/>
<rect x="102.40" y="311.24" width="4.61" height="6.05" fill="#6652ee"/>
<rect x="106.96" y="311.24" width="4.61" height="6.05" fill="#dc1408"/>
<rect x="111.51" y="311.24" width="4.61" height="6.05" fill="#cecbff"/>
<rect x="116.07" y="311.24" width="4.61" height="6.05" fill="#f04848"/>
<rect x="120.62" y="311.24" width="4.61" height="6.05" fill="#cecbff"/>
<rect x="125.18" y="311.24" width="4.61" height="6.05" fill="#f04848"/>
<rect x="129.73" y="311.24" width="9.16" height="6.05" fill="#3800d2"/>
<rect x="138.84" y="311.24" width="4.61" height="6.05" fill="#8686fd"/>
<rect x="143.40" y="311.24" width="13.72" height="6.05" fill="#3800d2"/>
<rect x="157.06" y="311.24" width="4.61" height="6.05" fill="#8686fd"/>
<rect x="161.62" y="311.24" width="4.61" height="6.05" fill="#dc1408"/>
<rect x="166.17" y="311.24" width="4.61" height="6.05" fill="#cecbff"/>
<rect x="170.73" y="311.24" width="9.16" height="6.05" fill="#8686fd"/>
<rect x="179.84" y="311.24" width="4.61" height="6.05" fill="#f97a86"/>
<rect x="184.39" y="311.24" width="13.72" height="6.05" fill="#3800d2"/>
<rect x="198.06" y="311.24" width="4.61" height="6.05" fill="#ffc2e4"/>
<rect x="202.61" y="311.24" width="4.61" height="6.05" fill="#8686fd"/>
<rect x="207.17" y="311.24" width="4.61" height="6.05" fill="#cecbff"/>
<rect x="211.72" y="311.24" width="13.72" height="6.05" fill="#f97a86"/>
<rect x="225.39" y="311.24" width="4.61" height="6.05" fill="#cecbff"/>
<rect x="229.94" y="311.24" width="4.61" height="6.05" fill="#3800d2"/>
<rect x="11.30" y="317.24" width="4.61" height="6.05" fill="#ffc2e4"/>
<rect x="15.86" y="317.24" width="4.61" height="6.05" fill="#f04848"/>
<rect x="20.41" y="317.24" width="18.27" height="6.05" fill="#cecbff"/>
<rect x="38.63" y="317.24" width="4.61" height="6.05" fill="#f04848"/>
<rect x="43.19" y="317.24" width="4.61" height="6.05" fill="#cecbff"/>
<rect x="47.74" y="317.24" width="4.61" height="6.05" fill="#8686fd"/>
<rect x="52.30" y="317.24" width="4.61" height="6.05" fill="#3800d2"/>
<rect x="56.85" y="317.24" width="9.16" height="6.05" fill="#ffc2e4"/>
<rect x="65.96" y="317.24" width="4.61" height="6.05" fill="#cecbff"/>
<rect x="70.52" y="317.24" width="4.61" height="6.05" fill="#ffc2e4"/>
<rect x="75.07" y="317.24" width="9.16" height="6.05" fill="#cecbff"/>
<rect x="84.18" y="317.24" width="9.16" height="6.05" fill="#f97a86"/>
<rect x="93.29" y="317.24" width="4.61" height="6.05" fill="#ffc2e4"/>
<rect x="97.85" y="317.24" width="4.61" height="6.05" fill="#3800d2"/>
<rect x="102.40" y="317.24" width="4.61" height="6.05" fill="#cecbff"/>
<rect x="106.96" y="317.24" width="9.16" height="6.05" fill="#ffc2e4"/>
<rect x="116.07" y="317.24" width="4.61" height="6.05" fill="#f97a86"/>
<rect x="120.62" y="317.24" width="9.16" height="6.05" fill="#cecbff"/>
<rect x="129.73" y="317.24" width="4.61" height="6.05" fill="#ffc2e4"/>
<rect x="134.29" y="317.24" width="4.61" height="6.05" fill="#f97a86"/>
<rect x="138.84" y="317.24" width="9.16" height="6.05" fill="#6652ee"/>
<rect x="147.95" y="317.24" width="4.61" height="6.05" fill="#ffc2e4"/>
<rect x="152.51" y="317.24" width="9.16" height="6.05" fill="#cecbff"/>
<rect x="161.62" y="317.24" width="4.61" height="6.05" fill="#ffc2e4"/>
<rect x="166.17" y="317.24" width="4.61" height="6.05" fill="#cecbff"/>
<rect x="170.73" y="317.24" width="4.61" height="6.05" fill="#ffc2e4"/>
<rect x="175.28" y="317.24" width="4.61" height="6.05" fill="#f97a86"/>
<rect x="179.84" y="317.24" width="13.72" height="6.05" fill="#cecbff"/>
<rect x="193.50" y="317.24" width="4.61" height="6.05" fill="#6652ee"/>
<rect x="198.06" y="317.24" width="9.16" height="6.05" fill="#cecbff"/>
<rect x="207.17" y="317.24" width="4.61" height="6.05" fill="#6652ee"/>
<rect x="211.72" y="317.24" width="9.16" height="6.05" fill="#cecbff"/>
<rect x="220.83" y="317.24" width="4.61" height="6.05" fill="#ffc2e4"/>
<rect x="225.39" y="317.24" width="4.61" height="6.05" fill="#dc1408"/>
<rect x="229.94" y="317.24" width="4.61" height="6.05" fill="#cecbff"/>
<rect x="11.30" y="323.24" width="4.61" height="6.05" fill="#cecbff"/>
<rect x="15.86" y="323.24" width="4.61" height="6.05" fill="#f97a86"/>
<rect x="20.41" y="323.24" width="13.72" height="6.05" fill="#cecbff"/>
<rect x="34.08" y="323.24" width="9.16" height="6.05" fill="#f04848"/>
<rect x="43.19" y="323.24" width="4.61" height="6.05" fill="#dc1408"/>
<rect x="47.74" y="323.24" width="4.61" height="6.05" fill="#3800d2"/>
<rect x="52.30" y="323.24" width="4.61" height="6.05" fill="#8686fd"/>
<rect x="56.85" y="323.24" width="9.16" height="6.05" fill="#f04848"/>
<rect x="65.96" y="323.24" width="13.72" height="6.05" fill="#3800d2"/>
<rect x="79.63" y="323.24" width="4.61" height="6.05" fill="#f04848"/>
<rect x="84.18" y="323.24" width="4.61" height="6.05" fill="#f97a86"/>
<rect x="88.74" y="323.24" width="9.16" height="6.05" fill="#f04848"/>
<rect x="97.85" y="323.24" width="9.16" height="6.05" fill="#3800d2"/>
<rect x="106.96" y="323.24" width="4.61" height="6.05" fill="#cecbff"/>
<rect x="111.51" y="323.24" width="4.61" height="6.05" fill="#f97a86"/>
<rect x="116.07" y="323.24" width="4.61" height="6.05" fill="#f04848"/>
<rect x="120.62" y="323.24" width="4.61" height="6.05" fill="#8686fd"/>
<rect x="125.18" y="323.24" width="4.61" height="6.05" fill="#f04848"/>
<rect x="129.73" y="323.24" width="18.27" height="6.05" fill="#8686fd"/>
<rect x="147.95" y="323.24" width="13.72" height="6.05" fill="#cecbff"/>
<rect x="161.62" y="323.24" width="4.61" height="6.05" fill="#dc1408"/>
<rect x="166.17" y="323.24" width="13.72" height="6.05" fill="#f97a86"/>
<rect x="179.84" y="323.24" width="4.61" height="6.05" fill="#f04848"/>
<rect x="184.39" y="323.24" width="4.61" height="6.05" fill="#ffc2e4"/>
<rect x="188.95" y="323.24" width="4.61" height="6.05" fill="#8686fd"/>
<rect x="193.50" y="323.24" width="4.61" height="6.05" fill="#6652ee"/>
<rect x="198.06" y="323.24" width="4.61" height="6.05" fill="#cecbff"/>
<rect x="202.61" y="323.24" width="4.61" height="6.05" fill="#ffc2e4"/>
<rect x="207.17" y="323.24" width="4.61" height="6.05" fill="#cecbff"/>
<rect x="211.72" y="323.24" width="4.61" height="6.05" fill="#8686fd"/>
<rect x="216.28" y="323.24" width="4.61" height="6.05" fill="#f97a86"/>
<rect x="220.83" y="323.24" width="4.61" height="6.05" fill="#8686fd"/>
<rect x="225.39" y="323.24" width="4.61" height="6.05" fill="#6652ee"/>
<rect x="229.94" y="323.24" width="4.61" height="6.05" fill="#ffc2e4"/>
<rect x="11.30" y="329.23" width="4.61" height="6.05" fill="#ffc2e4"/>
<rect x="15.86" y="329.23" width="4.61" height="6.05" fill="#3800d2"/>
<rect x="20.41" y="329.23" width="4.61" height="6.05" fill="#cecbff"/>
<rect x="24.97" y="329.23" width="9.16" height="6.05" fill="#f97a86"/>
<rect x="34.08" y="329.23" width="4.61" height="6.05" fill="#cecbff"/>
<rect x="38.63" y="329.23" width="9.16" height="6.05" fill="#3800d2"/>
<rect x="47.74" y="329.23" width="4.61" height="6.05" fill="#cecbff"/>
<rect x="52.30" y="329.23" width="4.61" height="6.05" fill="#ffc2e4"/>
<rect x="56.85" y="329.23" width="4.61" height="6.05" fill="#8686fd"/>
<rect x="61.41" y="329.23" width="4.61" height="6.05" fill="#f97a86"/>
<rect x="65.96" y="329.23" width="4.61" height="6.05" fill="#cecbff"/>
<rect x="70.52" y="329.23" width="4.61" height="6.05" fill="#ffc2e4"/>
<rect x="75.07" y="329.23" width="4.61" height="6.05" fill="#8686fd"/>
<rect x="79.63" y="329.23" width="4.61" height="6.05" fill="#6652ee"/>
<rect x="84.18" y="329.23" width="4.61" height="6.05" fill="#f97a86"/>
<rect x="88.74" y="329.23" width="4.61" height="6.05" fill="#3800d2"/>
<rect x="93.29" y="329.23" width="4.61" height="6.05" fill="#6652ee"/>
<rect x="97.85" y="329.23" width="4.61" height="6.05" fill="#8686fd"/>
<rect x="102.40" y="329.23" width="4.61" height="6.05" fill="#f97a86"/>
<rect x="106.96" y="329.23" width="4.61" height="6.05" fill="#f04848"/>
<rect x="111.51" y="329.23" width="4.61" height="6.05" fill="#8686fd"/>
<rect x="116.07" y="329.23" width="4.61" height="6.05" fill="#f97a86"/>
<rect x="120.62" y="329.23" width="9.16" height="6.05" fill="#cecbff"/>
<rect x="129.73" y="329.23" width="4.61" height="6.05" fill="#6652ee"/>
<rect x="134.29" y="329.23" width="4.61" height="6.05" fill="#3800d2"/>
<rect x="138.84" y="329.23" width="9.16" height="6.05" fill="#f97a86"/>
<rect x="147.95" y="329.23" width="4.61" height="6.05" fill="#3800d2"/>
<rect x="152.51" y="329.23" width="18.27" height="6.05" fill="#cecbff"/>
<rect x="170.73" y="329.23" width="9.16" height="6.05" fill="#3800d2"/>
<rect x="179.84" y="329.23" width="4.61" height="6.05" fill="#ffc2e4"/>
<rect x="184.39" y="329.23" width="4.61" height="6.05" fill="#3800d2"/>
<rect x="188.95" y="329.23" width="4.61" height="6.05" fill="#8686fd"/>
<rect x="193.50" y="329.23" width="4.61" height="6.05" fill="#f97a86"/>
<rect x="198.06" y="329.23" width="4.61" height="6.05" fill="#dc1408"/>
<rect x="202.61" y="329.23" width="4.61" height="6.05" fill="#6652ee"/>
<rect x="207.17" y="329.23" width="4.61" height="6.05" fill="#8686fd"/>
<rect x="211.72" y="329.23" width="4.61" height="6.05" fill="#f97a86"/>
<rect x="216.28" y="329.23" width="9.16" height="6.05" fill="#ffc2e4"/>
<rect x="225.39" y="329.23" width="4.61" height="6.05" fill="#f97a86"/>
<rect x="229.94" y="329.23" width="4.61" height="6.05" fill="#3800d2"/>
<rect x="11.30" y="335.23" width="4.61" height="6.05" fill="#ffc2e4"/>
<rect x="15.86" y="335.23" width="4.61" height="6.05" fill="#f97a86"/>
<rect x="20.41" y="335.23" width="4.61" height="6.05" fill="#cecbff"/>
<rect x="24.97" y="335.23" width="4.61" height="6.05" fill="#f04848"/>
<rect x="29.52" y="335.23" width="4.61" height="6.05" fill="#ffc2e4"/>
<rect x="34.08" y="335.23" width="9.16" height="6.05" fill="#f97a86"/>
<rect x="43.19" y="335.23" width="4.61" height="6.05" fill="#6652ee"/>
<rect x="47.74" y="335.23" width="9.16" height="6.05" fill="#3800d2"/>
<rect x="56.85" y="335.23" width="4.61" height="6.05" fill="#ffc2e4"/>
<rect x="61.41" y="335.23" width="4.61" height="6.05" fill="#3800d2"/>
<rect x="65.96" y="335.23" width="22.83" height="6.05" fill="#6652ee"/>
<rect x="88.74" y="335.23" width="4.61" height="6.05" fill="#3800d2"/>
<rect x="93.29" y="335.23" width="4.61" height="6.05" fill="#8686fd"/>
<rect x="97.85" y="335.23" width="4.61" height="6.05" fill="#cecbff"/>
<rect x="102.40" y="335.23" width="4.61" height="6.05" fill="#ffc2e4"/>
<rect x="106.96" y="335.23" width="4.61" height="6.05" fill="#6652ee"/>
<rect x="111.51" y="335.23" width="4.61" height="6.05" fill="#8686fd"/>
<rect x="116.07" y="335.23" width="4.61" height="6.05" fill="#3800d2"/>
<rect x="120.62" y="335.23" width="4.61" height="6.05" fill="#dc1408"/>
<rect x="125.18" y="335.23" width="4.61" height="6.05" fill="#cecbff"/>
<rect x="129.73" y="335.23" width="9.16" height="6.05" fill="#3800d2"/>
<rect x="138.84" y="335.23" width="4.61" height="6.05" fill="#f97a86"/>
<rect x="143.40" y="335.23" width="4.61" height="6.05" fill="#cecbff"/>
<rect x="147.95" y="335.23" width="9.16" height="6.05" fill="#3800d2"/>
<rect x="157.06" y="335.23" width="4.61" height="6.05" fill="#ffc2e4"/>
<rect x="161.62" y="335.23" width="4.61" height="6.05" fill="#cecbff"/>
<rect x="166.17" y="335.23" width="4.61" height="6.05" fill="#ffc2e4"/>
<rect x="170.73" y="335.23" width="4.61" height="6.05" fill="#8686fd"/>
<rect x="175.28" y="335.23" width="4.61" height="6.05" fill="#3800d2"/>
<rect x="179.84" y="335.23" width="4.61" height="6.05" fill="#f97a86"/>
<rect x="184.39" y="335.23" width="4.61" height="6.05" fill="#3800d2"/>
<rect x="188.95" y="335.23" width="4.61" height="6.05" fill="#cecbff"/>
<rect x="193.50" y="335.23" width="4.61" height="6.05" fill="#f97a86"/>
<rect x="198.06" y="335.23" width="4.61" height="6.05" fill="#f04848"/>
<rect x="202.61" y="335.23" width="4.61" height="6.05" fill="#f97a86"/>
<rect x="207.17" y="335.23" width="4.61" height="6.05" fill="#3800d2"/>
<rect x="211.72" y="335.23" width="9.16" height="6.05" fill="#f97a86"/>
<rect x="220.83" y="335.23" width="4.61" height="6.05" fill="#ffc2e4"/>
<rect x="225.39" y="335.23" width="4.61" height="6.05" fill="#3800d2"/>
<rect x="229.94" y="335.23" width="4.61" height="6.05" fill="#6652ee"/>
<rect x="11.30" y="341.22" width="4.61" height="6.05" fill="#f97a86"/>
<rect x="15.86" y="341.22" width="4.61" height="6.05" fill="#ffc2e4"/>
<rect x="20.41" y="341.22" width="4.61" height="6.05" fill="#6652ee"/>
<rect x="24.97" y="341.22" width="4.61" height="6.05" fill="#f04848"/>
<rect x="29.52" y="341.22" width="18.27" height="6.05" fill="#f97a86"/>
<rect x="47.74" y="341.22" width="4.61" height="6.05" fill="#6652ee"/>
<rect x="52.30" y="341.22" width="4.61" height="6.05" fill="#3800d2"/>
<rect x="56.85" y="341.22" width="4.61" height="6.05" fill="#cecbff"/>
<rect x="61.41" y="341.22" width="4.61" height="6.05" fill="#f04848"/>
<rect x="65.96" y="341.22" width="9.16" height="6.05" fill="#3800d2"/>
<rect x="75.07" y="341.22" width="4.61" height="6.05" fill="#6652ee"/>
<rect x="79.63" y="341.22" width="4.61" height="6.05" fill="#f97a86"/>
<rect x="84.18" y="341.22" width="4.61" height="6.05" fill="#cecbff"/>
<rect x="88.74" y="341.22" width="4.61" height="6.05" fill="#f04848"/>
<rect x="93.29" y="341.22" width="4.61" height="6.05" fill="#f97a86"/>
<rect x="97.85" y="341.22" width="4.61" height="6.05" fill="#cecbff"/>
<rect x="102.40" y="341.22" width="4.61" height="6.05" fill="#8686fd"/>
<rect x="106.96" y="341.22" width="9.16" height="6.05" fill="#cecbff"/>
<rect x="116.07" y="341.22" width="4.61" height="6.05" fill="#3800d2"/>
<rect x="120.62" y="341.22" width="4.61" height="6.05" fill="#ffc2e4"/>
<rect x="125.18" y="341.22" width="9.16" height="6.05" fill="#cecbff"/>
<rect x="134.29" y="341.22" width="4.61" height="6.05" fill="#8686fd"/>
<rect x="138.84" y="341.22" width="4.61" height="6.05" fill="#f97a86"/>
<rect x="143.40" y="341.22" width="4.61" height="6.05" fill="#8686fd"/>
<rect x="147.95" y="341.22" width="4.61" height="6.05" fill="#cecbff"/>
<rect x="152.51" y="341.22" width="4.61" height="6.05" fill="#f97a86"/>
<rect x="157.06" y="341.22" width="4.61" height="6.05" fill="#ffc2e4"/>
<rect x="161.62" y="341.22" width="4.61" height="6.05" fill="#cecbff"/>
<rect x="166.17" y="341.22" width="4.61" height="6.05" fill="#f97a86"/>
<rect x="170.73" y="341.22" width="4.61" height="6.05" fill="#ffc2e4"/>
<rect x="175.28" y="341.22" width="4.61" height="6.05" fill="#cecbff"/>
<rect x="179.84" y="341.22" width="4.61" height="6.05" fill="#f97a86"/>
<rect x="184.39" y="341.22" width="4.61" height="6.05" fill="#ffc2e4"/>
<rect x="188.95" y="341.22" width="9.16" height="6.05" fill="#cecbff"/>
<rect x="198.06" y="341.22" width="4.61" height="6.05" fill="#dc1408"/>
<rect x="202.61" y="341.22" width="4.61" height="6.05" fill="#f97a86"/>
<rect x="207.17" y="341.22" width="4.61" height="6.05" fill="#ffc2e4"/>
<rect x="211.72" y="341.22" width="4.61" height="6.05" fill="#f97a86"/>
<rect x="216.28" y="341.22" width="9.16" height="6.05" fill="#ffc2e4"/>
<rect x="225.39" y="341.22" width="4.61" height="6.05" fill="#8686fd"/>
<rect x="229.94" y="341.22" width="4.61" height="6.05" fill="#cecbff"/>
<rect x="11.30" y="347.22" width="4.61" height="6.05" fill="#ffc2e4"/>
<rect x="15.86" y="347.22" width="4.61" height="6.05" fill="#f04848"/>
<rect x="20.41" y="347.22" width="4.61" height="6.05" fill="#8686fd"/>
<rect x="24.97" y="347.22" width="4.61" height="6.05" fill="#f97a86"/>
<rect x="29.52" y="347.22" width="4.61" height="6.05" fill="#cecbff"/>
<rect x="34.08" y="347.22" width="4.61" height="6.05" fill="#8686fd"/>
<rect x="38.63" y="347.22" width="9.16" height="6.05" fill="#f97a86"/>
<rect x="47.74" y="347.22" width="9.16" height="6.05" fill="#3800d2"/>
<rect x="56.85" y="347.22" width="9.16" height="6.05" fill="#ffc2e4"/>
<rect x="65.96" y="347.22" width="13.72" height="6.05" fill="#3800d2"/>
<rect x="79.63" y="347.22" width="4.61" height="6.05" fill="#f97a86"/>
<rect x="84.18" y="347.22" width="4.61" height="6.05" fill="#cecbff"/>
<rect x="88.74" y="347.22" width="9.16" height="6.05" fill="#f97a86"/>
<rect x="97.85" y="347.22" width="4.61" height="6.05" fill="#3800d2"/>
<rect x="102.40" y="347.22" width="4.61" height="6.05" fill="#6652ee"/>
<rect x="106.96" y="347.22" width="4.61" height="6.05" fill="#3800d2"/>
<rect x="111.51" y="347.22" width="4.61" height="6.05" fill="#dc1408"/>
<rect x="116.07" y="347.22" width="4.61" height="6.05" fill="#8686fd"/>
<rect x="120.62" y="347.22" width="9.16" height="6.05" fill="#cecbff"/>
<rect x="129.73" y="347.22" width="9.16" height="6.05" fill="#6652ee"/>
<rect x="138.84" y="347.22" width="4.61" height="6.05" fill="#ffc2e4"/>
<rect x="143.40" y="347.22" width="4.61" height="6.05" fill="#f04848"/>
<rect x="147.95" y="347.22" width="4.61" height="6.05" fill="#cecbff"/>
<rect x="152.51" y="347.22" width="4.61" height="6.05" fill="#ffc2e4"/>
<rect x="157.06" y="347.22" width="4.61" height="6.05" fill="#8686fd"/>
<rect x="161.62" y="347.22" width="4.61" height="6.05" fill="#ffc2e4"/>
<rect x="166.17" y="347.22" width="4.61" height="6.05" fill="#f97a86"/>
<rect x="170.73" y="347.22" width="4.61" height="6.05" fill="#ffc2e4"/>
<rect x="175.28" y="347.22" width="4.61" height="6.05" fill="#f97a86"/>
<rect x="179.84" y="347.22" width="4.61" height="6.05" fill="#cecbff"/>
<rect x="184.39" y="347.22" width="4.61" height="6.05" fill="#f97a86"/>
<rect x="188.95" y="347.22" width="4.61" height="6.05" fill="#8686fd"/>
<rect x="193.50" y="347.22" width="4.61" height="6.05" fill="#f97a86"/>
<rect x="198.06" y="347.22" width="4.61" height="6.05" fill="#cecbff"/>
<rect x="202.61" y="347.22" width="4.61" height="6.05" fill="#ffc2e4"/>
<rect x="207.17" y="347.22" width="4.61" height="6.05" fill="#6652ee"/>
<rect x="211.72" y="347.22" width="13.72" height="6.05" fill="#cecbff"/>
<rect x="225.39" y="347.22" width="4.61" height="6.05" fill="#3800d2"/>
<rect x="229.94" y="347.22" width="4.61" height="6.05" fill="#f97a86"/>
<rect x="11.30" y="353.22" width="4.61" height="6.05" fill="#ffc2e4"/>
<rect x="15.86" y="353.22" width="9.16" height="6.05" fill="#cecbff"/>
<rect x="24.97" y="353.22" width="13.72" height="6.05" fill="#6652ee"/>
<rect x="38.63" y="353.22" width="9.16" height="6.05" fill="#ffc2e4"/>
<rect x="47.74" y="353.22" width="4.61" height="6.05" fill="#cecbff"/>
<rect x="52.30" y="353.22" width="4.61" height="6.05" fill="#6652ee"/>
<rect x="56.85" y="353.22" width="4.61" height="6.05" fill="#cecbff"/>
<rect x="61.41" y="353.22" width="4.61" height="6.05" fill="#6652ee"/>
<rect x="65.96" y="353.22" width="9.16" height="6.05" fill="#cecbff"/>
<rect x="75.07" y="353.22" width="9.16" height="6.05" fill="#ffc2e4"/>
<rect x="84.18" y="353.22" width="4.61" height="6.05" fill="#3800d2"/>
<rect x="88.74" y="353.22" width="9.16" height="6.05" fill="#ffc2e4"/>
<rect x="97.85" y="353.22" width="4.61" height="6.05" fill="#6652ee"/>
<rect x="102.40" y="353.22" width="4.61" height="6.05" fill="#3800d2"/>
<rect x="106.96" y="353.22" width="9.16" height="6.05" fill="#cecbff"/>
<rect x="116.07" y="353.22" width="4.61" height="6.05" fill="#ffc2e4"/>
<rect x="120.62" y="353.22" width="4.61" height="6.05" fill="#cecbff"/>
<rect x="125.18" y="353.22" width="4.61" height="6.05" fill="#3800d2"/>
<rect x="129.73" y="353.22" width="9.16" height="6.05" fill="#cecbff"/>
<rect x="138.84" y="353.22" width="4.61" height="6.05" fill="#6652ee"/>
<rect x="143.40" y="353.22" width="4.61" height="6.05" fill="#ffc2e4"/>
<rect x="147.95" y="353.22" width="4.61" height="6.05" fill="#3800d2"/>
<rect x="152.51" y="353.22" width="4.61" height="6.05" fill="#8686fd"/>
<rect x="157.06" y="353.22" width="4.61" height="6.05" fill="#cecbff"/>
<rect x="161.62" y="353.22" width="9.16" height="6.05" fill="#8686fd"/>
<rect x="170.73" y="353.22" width="4.61" height="6.05" fill="#cecbff"/>
<rect x="175.28" y="353.22" width="4.61" height="6.05" fill="#ffc2e4"/>
<rect x="179.84" y="353.22" width="9.16" height="6.05" fill="#8686fd"/>
<rect x="188.95" y="353.22" width="9.16" height="6.05" fill="#6652ee"/>
<rect x="198.06" y="353.22" width="4.61" height="6.05" fill="#3800d2"/>
<rect x="202.61" y="353.22" width="4.61" height="6.05" fill="#cecbff"/>
<rect x="207.17" y="353.22" width="4.61" height="6.05" fill="#8686fd"/>
<rect x="211.72" y="353.22" width="4.61" height="6.05" fill="#6652ee"/>
<rect x="216.28" y="353.22" width="4.61" height="6.05" fill="#8686fd"/>
<rect x="220.83" y="353.22" width="4.61" height="6.05" fill="#6652ee"/>
<rect x="225.39" y="353.22" width="4.61" height="6.05" fill="#dc1408"/>
<rect x="229.94" y="353.22" width="4.61" height="6.05" fill="#ffc2e4"/>
<rect x="11.30" y="359.21" width="4.61" height="6.05" fill="#f04848"/>
<rect x="15.86" y="359.21" width="4.61" height="6.05" fill="#dc1408"/>
<rect x="20.41" y="359.21" width="4.61" height="6.05" fill="#f04848"/>
<rect x="24.97" y="359.21" width="4.61" height="6.05" fill="#ffc2e4"/>
<rect x="29.52" y="359.21" width="4.61" height="6.05" fill="#f97a86"/>
<rect x="34.08" y="359.21" width="4.61" height="6.05" fill="#cecbff"/>
<rect x="38.63" y="359.21" width="9.16" height="6.05" fill="#8686fd"/>
<rect x="47.74" y="359.21" width="4.61" height="6.05" fill="#3800d2"/>
<rect x="52.30" y="359.21" width="4.61" height="6.05" fill="#6652ee"/>
<rect x="56.85" y="359.21" width="9.16" height="6.05" fill="#ffc2e4"/>
<rect x="65.96" y="359.21" width="9.16" height="6.05" fill="#3800d2"/>
<rect x="75.07" y="359.21" width="4.61" height="6.05" fill="#6652ee"/>
<rect x="79.63" y="359.21" width="13.72" height="6.05" fill="#cecbff"/>
<rect x="93.29" y="359.21" width="4.61" height="6.05" fill="#6652ee"/>
<rect x="97.85" y="359.21" width="4.61" height="6.05" fill="#8686fd"/>
<rect x="102.40" y="359.21" width="4.61" height="6.05" fill="#3800d2"/>
<rect x="106.96" y="359.21" width="4.61" height="6.05" fill="#f97a86"/>
<rect x="111.51" y="359.21" width="4.61" height="6.05" fill="#6652ee"/>
<rect x="116.07" y="359.21" width="4.61" height="6.05" fill="#cecbff"/>
<rect x="120.62" y="359.21" width="4.61" height="6.05" fill="#6652ee"/>
<rect x="125.18" y="359.21" width="4.61" height="6.05" fill="#f97a86"/>
<rect x="129.73" y="359.21" width="4.61" height="6.05" fill="#dc1408"/>
<rect x="134.29" y="359.21" width="4.61" height="6.05" fill="#f97a86"/>
<rect x="138.84" y="359.21" width="4.61" height="6.05" fill="#cecbff"/>
<rect x="143.40" y="359.21" width="4.61" height="6.05" fill="#ffc2e4"/>
<rect x="147.95" y="359.21" width="4.61" height="6.05" fill="#3800d2"/>
<rect x="152.51" y="359.21" width="4.61" height="6.05" fill="#cecbff"/>
<rect x="157.06" y="359.21" width="4.61" height="6.05" fill="#8686fd"/>
<rect x="161.62" y="359.21" width="9.16" height="6.05" fill="#ffc2e4"/>
<rect x="170.73" y="359.21" width="4.61" height="6.05" fill="#8686fd"/>
<rect x="175.28" y="359.21" width="4.61" height="6.05" fill="#cecbff"/>
<rect x="179.84" y="359.21" width="4.61" height="6.05" fill="#f97a86"/>
<rect x="184.39" y="359.21" width="4.61" height="6.05" fill="#cecbff"/>
<rect x="188.95" y="359.21" width="9.16" height="6.05" fill="#8686fd"/>
<rect x="198.06" y="359.21" width="4.61" height="6.05" fill="#f97a86"/>
<rect x="202.61" y="359.21" width="4.61" height="6.05" fill="#8686fd"/>
<rect x="207.17" y="359.21" width="13.72" height="6.05" fill="#f97a86"/>
<rect x="220.83" y="359.21" width="9.16" height="6.05" fill="#ffc2e4"/>
<rect x="229.94" y="359.21" width="4.61" height="6.05" fill="#cecbff"/>
<rect x="11.30" y="365.21" width="4.61" height="6.05" fill="#f97a86"/>
<rect x="15.86" y="365.21" width="4.61" height="6.05" fill="#cecbff"/>
<rect x="20.41" y="365.21" width="4.61" height="6.05" fill="#6652ee"/>
<rect x="24.97" y="365.21" width="4.61" height="6.05" fill="#ffc2e4"/>
<rect x="29.52" y="365.21" width="4.61" height="6.05" fill="#cecbff"/>
<rect x="34.08" y="365.21" width="4.61" height="6.05" fill="#f97a86"/>
<rect x="38.63" y="365.21" width="13.72" height="6.05" fill="#6652ee"/>
<rect x="52.30" y="365.21" width="13.72" height="6.05" fill="#ffc2e4"/>
<rect x="65.96" y="365.21" width="9.16" height="6.05" fill="#3800d2"/>
<rect x="75.07" y="365.21" width="4.61" height="6.05" fill="#6652ee"/>
<rect x="79.63" y="365.21" width="9.16" height="6.05" fill="#f97a86"/>
<rect x="88.74" y="365.21" width="4.61" height="6.05" fill="#cecbff"/>
<rect x="93.29" y="365.21" width="4.61" height="6.05" fill="#8686fd"/>
<rect x="97.85" y="365.21" width="4.61" height="6.05" fill="#6652ee"/>
<rect x="102.40" y="365.21" width="4.61" height="6.05" fill="#8686fd"/>
<rect x="106.96" y="365.21" width="4.61" height="6.05" fill="#cecbff"/>
<rect x="111.51" y="365.21" width="4.61" height="6.05" fill="#6652ee"/>
<rect x="116.07" y="365.21" width="4.61" height="6.05" fill="#f04848"/>
<rect x="120.62" y="365.21" width="4.61" height="6.05" fill="#cecbff"/>
<rect x="125.18" y="365.21" width="4.61" height="6.05" fill="#f97a86"/>
<rect x="129.73" y="365.21" width="9.16" height="6.05" fill="#cecbff"/>
<rect x="138.84" y="365.21" width="4.61" height="6.05" fill="#ffc2e4"/>
<rect x="143.40" y="365.21" width="4.61" height="6.05" fill="#cecbff"/>
<rect x="147.95" y="365.21" width="4.61" height="6.05" fill="#3800d2"/>
<rect x="152.51" y="365.21" width="4.61" height="6.05" fill="#ffc2e4"/>
<rect x="157.06" y="365.21" width="4.61" height="6.05" fill="#8686fd"/>
<rect x="161.62" y="365.21" width="4.61" height="6.05" fill="#f97a86"/>
<rect x="166.17" y="365.21" width="4.61" height="6.05" fill="#cecbff"/>
<rect x="170.73" y="365.21" width="4.61" height="6.05" fill="#6652ee"/>
<rect x="175.28" y="365.21" width="4.61" height="6.05" fill="#8686fd"/>
<rect x="179.84" y="365.21" width="4.61" height="6.05" fill="#f97a86"/>
<rect x="184.39" y="365.21" width="4.61" height="6.05" fill="#8686fd"/>
<rect x="188.95" y="365.21" width="4.61" height="6.05" fill="#6652ee"/>
<rect x="193.50" y="365.21" width="4.61" height="6.05" fill="#8686fd"/>
<rect x="198.06" y="365.21" width="4.61" height="6.05" fill="#dc1408"/>
<rect x="202.61" y="365.21" width="4.61" height="6.05" fill="#8686fd"/>
<rect x="207.17" y="365.21" width="4.61" height="6.05" fill="#f04848"/>
<rect x="211.72" y="365.21" width="9.16" height="6.05" fill="#f97a86"/>
<rect x="220.83" y="365.21" width="9.16" height="6.05" fill="#ffc2e4"/>
<rect x="229.94" y="365.21" width="4.61" height="6.05" fill="#6652ee"/>
<rect x="11.30" y="371.20" width="4.61" height="6.05" fill="#f97a86"/>
<rect x="15.86" y="371.20" width="9.16" height="6.05" fill="#8686fd"/>
<rect x="24.97" y="371.20" width="9.16" height="6.05" fill="#ffc2e4"/>
<rect x="34.08" y="371.20" width="4.61" height="6.05" fill="#8686fd"/>
<rect x="38.63" y="371.20" width="4.61" height="6.05" fill="#3800d2"/>
<rect x="43.19" y="371.20" width="4.61" height="6.05" fill="#8686fd"/>
<rect x="47.74" y="371.20" width="4.61" height="6.05" fill="#cecbff"/>
<rect x="52.30" y="371.20" width="4.61" height="6.05" fill="#6652ee"/>
<rect x="56.85" y="371.20" width="4.61" height="6.05" fill="#8686fd"/>
<rect x="61.41" y="371.20" width="4.61" height="6.05" fill="#ffc2e4"/>
<rect x="65.96" y="371.20" width="4.61" height="6.05" fill="#3800d2"/>
<rect x="70.52" y="371.20" width="4.61" height="6.05" fill="#6652ee"/>
<rect x="75.07" y="371.20" width="4.61" height="6.05" fill="#ffc2e4"/>
<rect x="79.63" y="371.20" width="9.16" height="6.05" fill="#3800d2"/>
<rect x="88.74" y="371.20" width="4.61" height="6.05" fill="#ffc2e4"/>
<rect x="93.29" y="371.20" width="4.61" height="6.05" fill="#cecbff"/>
<rect x="97.85" y="371.20" width="4.61" height="6.05" fill="#3800d2"/>
<rect x="102.40" y="371.20" width="4.61" height="6.05" fill="#8686fd"/>
<rect x="106.96" y="371.20" width="4.61" height="6.05" fill="#ffc2e4"/>
<rect x="111.51" y="371.20" width="4.61" height="6.05" fill="#6652ee"/>
<rect x="116.07" y="371.20" width="9.16" height="6.05" fill="#3800d2"/>
<rect x="125.18" y="371.20" width="4.61" height="6.05" fill="#f97a86"/>
<rect x="129.73" y="371.20" width="9.16" height="6.05" fill="#8686fd"/>
<rect x="138.84" y="371.20" width="9.16" height="6.05" fill="#ffc2e4"/>
<rect x="147.95" y="371.20" width="4.61" height="6.05" fill="#3800d2"/>
<rect x="152.51" y="371.20" width="4.61" height="6.05" fill="#ffc2e4"/>
<rect x="157.06" y="371.20" width="22.83" height="6.05" fill="#3800d2"/>
<rect x="179.84" y="371.20" width="4.61" height="6.05" fill="#dc1408"/>
<rect x="184.39" y="371.20" width="4.61" height="6.05" fill="#ffc2e4"/>
<rect x="188.95" y="371.20" width="4.61" height="6.05" fill="#3800d2"/>
<rect x="193.50" y="371.20" width="4.61" height="6.05" fill="#cecbff"/>
<rect x="198.06" y="371.20" width="4.61" height="6.05" fill="#ffc2e4"/>
<rect x="202.61" y="371.20" width="4.61" height="6.05" fill="#3800d2"/>
<rect x="207.17" y="371.20" width="9.16" height="6.05" fill="#cecbff"/>
<rect x="216.28" y="371.20" width="4.61" height="6.05" fill="#ffc2e4"/>
<rect x="220.83" y="371.20" width="4.61" height="6.05" fill="#3800d2"/>
<rect x="225.39" y="371.20" width="4.61" height="6.05" fill="#ffc2e4"/>
<rect x="229.94" y="371.20" width="4.61" height="6.05" fill="#6652ee"/>
</g>
<g stroke="#000010" stroke-width="0.7" stroke-opacity="0.82">
<line x1="11.30" y1="83.40" x2="11.30" y2="377.20"/>
<line x1="15.86" y1="83.40" x2="15.86" y2="377.20"/>
<line x1="20.41" y1="83.40" x2="20.41" y2="377.20"/>
<line x1="24.97" y1="83.40" x2="24.97" y2="377.20"/>
<line x1="29.52" y1="83.40" x2="29.52" y2="377.20"/>
<line x1="34.08" y1="83.40" x2="34.08" y2="377.20"/>
<line x1="38.63" y1="83.40" x2="38.63" y2="377.20"/>
<line x1="43.19" y1="83.40" x2="43.19" y2="377.20"/>
<line x1="47.74" y1="83.40" x2="47.74" y2="377.20"/>
<line x1="52.30" y1="83.40" x2="52.30" y2="377.20"/>
<line x1="56.85" y1="83.40" x2="56.85" y2="377.20"/>
<line x1="61.41" y1="83.40" x2="61.41" y2="377.20"/>
<line x1="65.96" y1="83.40" x2="65.96" y2="377.20"/>
<line x1="70.52" y1="83.40" x2="70.52" y2="377.20"/>
<line x1="75.07" y1="83.40" x2="75.07" y2="377.20"/>
<line x1="79.63" y1="83.40" x2="79.63" y2="377.20"/>
<line x1="84.18" y1="83.40" x2="84.18" y2="377.20"/>
<line x1="88.74" y1="83.40" x2="88.74" y2="377.20"/>
<line x1="93.29" y1="83.40" x2="93.29" y2="377.20"/>
<line x1="97.85" y1="83.40" x2="97.85" y2="377.20"/>
<line x1="102.40" y1="83.40" x2="102.40" y2="377.20"/>
<line x1="106.96" y1="83.40" x2="106.96" y2="377.20"/>
<line x1="111.51" y1="83.40" x2="111.51" y2="377.20"/>
<line x1="116.07" y1="83.40" x2="116.07" y2="377.20"/>
<line x1="120.62" y1="83.40" x2="120.62" y2="377.20"/>
<line x1="125.18" y1="83.40" x2="125.18" y2="377.20"/>
<line x1="129.73" y1="83.40" x2="129.73" y2="377.20"/>
<line x1="134.29" y1="83.40" x2="134.29" y2="377.20"/>
<line x1="138.84" y1="83.40" x2="138.84" y2="377.20"/>
<line x1="143.40" y1="83.40" x2="143.40" y2="377.20"/>
<line x1="147.95" y1="83.40" x2="147.95" y2="377.20"/>
<line x1="152.51" y1="83.40" x2="152.51" y2="377.20"/>
<line x1="157.06" y1="83.40" x2="157.06" y2="377.20"/>
<line x1="161.62" y1="83.40" x2="161.62" y2="377.20"/>
<line x1="166.17" y1="83.40" x2="166.17" y2="377.20"/>
<line x1="170.73" y1="83.40" x2="170.73" y2="377.20"/>
<line x1="175.28" y1="83.40" x2="175.28" y2="377.20"/>
<line x1="179.84" y1="83.40" x2="179.84" y2="377.20"/>
<line x1="184.39" y1="83.40" x2="184.39" y2="377.20"/>
<line x1="188.95" y1="83.40" x2="188.95" y2="377.20"/>
<line x1="193.50" y1="83.40" x2="193.50" y2="377.20"/>
<line x1="198.06" y1="83.40" x2="198.06" y2="377.20"/>
<line x1="202.61" y1="83.40" x2="202.61" y2="377.20"/>
<line x1="207.17" y1="83.40" x2="207.17" y2="377.20"/>
<line x1="211.72" y1="83.40" x2="211.72" y2="377.20"/>
<line x1="216.28" y1="83.40" x2="216.28" y2="377.20"/>
<line x1="220.83" y1="83.40" x2="220.83" y2="377.20"/>
<line x1="225.39" y1="83.40" x2="225.39" y2="377.20"/>
<line x1="229.94" y1="83.40" x2="229.94" y2="377.20"/>
<line x1="234.50" y1="83.40" x2="234.50" y2="377.20"/>
<line x1="11.30" y1="83.40" x2="234.50" y2="83.40"/>
<line x1="11.30" y1="89.40" x2="234.50" y2="89.40"/>
<line x1="11.30" y1="95.39" x2="234.50" y2="95.39"/>
<line x1="11.30" y1="101.39" x2="234.50" y2="101.39"/>
<line x1="11.30" y1="107.38" x2="234.50" y2="107.38"/>
<line x1="11.30" y1="113.38" x2="234.50" y2="113.38"/>
<line x1="11.30" y1="119.38" x2="234.50" y2="119.38"/>
<line x1="11.30" y1="125.37" x2="234.50" y2="125.37"/>
<line x1="11.30" y1="131.37" x2="234.50" y2="131.37"/>
<line x1="11.30" y1="137.36" x2="234.50" y2="137.36"/>
<line x1="11.30" y1="143.36" x2="234.50" y2="143.36"/>
<line x1="11.30" y1="149.36" x2="234.50" y2="149.36"/>
<line x1="11.30" y1="155.35" x2="234.50" y2="155.35"/>
<line x1="11.30" y1="161.35" x2="234.50" y2="161.35"/>
<line x1="11.30" y1="167.34" x2="234.50" y2="167.34"/>
<line x1="11.30" y1="173.34" x2="234.50" y2="173.34"/>
<line x1="11.30" y1="179.33" x2="234.50" y2="179.33"/>
<line x1="11.30" y1="185.33" x2="234.50" y2="185.33"/>
<line x1="11.30" y1="191.33" x2="234.50" y2="191.33"/>
<line x1="11.30" y1="197.32" x2="234.50" y2="197.32"/>
<line x1="11.30" y1="203.32" x2="234.50" y2="203.32"/>
<line x1="11.30" y1="209.31" x2="234.50" y2="209.31"/>
<line x1="11.30" y1="215.31" x2="234.50" y2="215.31"/>
<line x1="11.30" y1="221.31" x2="234.50" y2="221.31"/>
<line x1="11.30" y1="227.30" x2="234.50" y2="227.30"/>
<line x1="11.30" y1="233.30" x2="234.50" y2="233.30"/>
<line x1="11.30" y1="239.29" x2="234.50" y2="239.29"/>
<line x1="11.30" y1="245.29" x2="234.50" y2="245.29"/>
<line x1="11.30" y1="251.29" x2="234.50" y2="251.29"/>
<line x1="11.30" y1="257.28" x2="234.50" y2="257.28"/>
<line x1="11.30" y1="263.28" x2="234.50" y2="263.28"/>
<line x1="11.30" y1="269.27" x2="234.50" y2="269.27"/>
<line x1="11.30" y1="275.27" x2="234.50" y2="275.27"/>
<line x1="11.30" y1="281.27" x2="234.50" y2="281.27"/>
<line x1="11.30" y1="287.26" x2="234.50" y2="287.26"/>
<line x1="11.30" y1="293.26" x2="234.50" y2="293.26"/>
<line x1="11.30" y1="299.25" x2="234.50" y2="299.25"/>
<line x1="11.30" y1="305.25" x2="234.50" y2="305.25"/>
<line x1="11.30" y1="311.24" x2="234.50" y2="311.24"/>
<line x1="11.30" y1="317.24" x2="234.50" y2="317.24"/>
<line x1="11.30" y1="323.24" x2="234.50" y2="323.24"/>
<line x1="11.30" y1="329.23" x2="234.50" y2="329.23"/>
<line x1="11.30" y1="335.23" x2="234.50" y2="335.23"/>
<line x1="11.30" y1="341.22" x2="234.50" y2="341.22"/>
<line x1="11.30" y1="347.22" x2="234.50" y2="347.22"/>
<line x1="11.30" y1="353.22" x2="234.50" y2="353.22"/>
<line x1="11.30" y1="359.21" x2="234.50" y2="359.21"/>
<line x1="11.30" y1="365.21" x2="234.50" y2="365.21"/>
<line x1="11.30" y1="371.20" x2="234.50" y2="371.20"/>
<line x1="11.30" y1="377.20" x2="234.50" y2="377.20"/>
</g>
<g stroke="#3a3a3a" stroke-width="0.7" stroke-opacity="0.85">
<line x1="11.30" y1="11.70" x2="11.30" y2="83.40"/>
<line x1="15.86" y1="11.70" x2="15.86" y2="83.40"/>
<line x1="20.41" y1="11.70" x2="20.41" y2="83.40"/>
<line x1="24.97" y1="11.70" x2="24.97" y2="83.40"/>
<line x1="29.52" y1="11.70" x2="29.52" y2="83.40"/>
<line x1="34.08" y1="11.70" x2="34.08" y2="83.40"/>
<line x1="38.63" y1="11.70" x2="38.63" y2="83.40"/>
<line x1="43.19" y1="11.70" x2="43.19" y2="83.40"/>
<line x1="47.74" y1="11.70" x2="47.74" y2="83.40"/>
<line x1="52.30" y1="11.70" x2="52.30" y2="83.40"/>
<line x1="56.85" y1="11.70" x2="56.85" y2="83.40"/>
<line x1="61.41" y1="11.70" x2="61.41" y2="83.40"/>
<line x1="65.96" y1="11.70" x2="65.96" y2="83.40"/>
<line x1="70.52" y1="11.70" x2="70.52" y2="83.40"/>
<line x1="75.07" y1="11.70" x2="75.07" y2="83.40"/>
<line x1="79.63" y1="11.70" x2="79.63" y2="83.40"/>
<line x1="84.18" y1="11.70" x2="84.18" y2="83.40"/>
<line x1="88.74" y1="11.70" x2="88.74" y2="83.40"/>
<line x1="93.29" y1="11.70" x2="93.29" y2="83.40"/>
<line x1="97.85" y1="11.70" x2="97.85" y2="83.40"/>
<line x1="102.40" y1="11.70" x2="102.40" y2="83.40"/>
<line x1="106.96" y1="11.70" x2="106.96" y2="83.40"/>
<line x1="111.51" y1="11.70" x2="111.51" y2="83.40"/>
<line x1="116.07" y1="11.70" x2="116.07" y2="83.40"/>
<line x1="120.62" y1="11.70" x2="120.62" y2="83.40"/>
<line x1="125.18" y1="11.70" x2="125.18" y2="83.40"/>
<line x1="129.73" y1="11.70" x2="129.73" y2="83.40"/>
<line x1="134.29" y1="11.70" x2="134.29" y2="83.40"/>
<line x1="138.84" y1="11.70" x2="138.84" y2="83.40"/>
<line x1="143.40" y1="11.70" x2="143.40" y2="83.40"/>
<line x1="147.95" y1="11.70" x2="147.95" y2="83.40"/>
<line x1="152.51" y1="11.70" x2="152.51" y2="83.40"/>
<line x1="157.06" y1="11.70" x2="157.06" y2="83.40"/>
<line x1="161.62" y1="11.70" x2="161.62" y2="83.40"/>
<line x1="166.17" y1="11.70" x2="166.17" y2="83.40"/>
<line x1="170.73" y1="11.70" x2="170.73" y2="83.40"/>
<line x1="175.28" y1="11.70" x2="175.28" y2="83.40"/>
<line x1="179.84" y1="11.70" x2="179.84" y2="83.40"/>
<line x1="184.39" y1="11.70" x2="184.39" y2="83.40"/>
<line x1="188.95" y1="11.70" x2="188.95" y2="83.40"/>
<line x1="193.50" y1="11.70" x2="193.50" y2="83.40"/>
<line x1="198.06" y1="11.70" x2="198.06" y2="83.40"/>
<line x1="202.61" y1="11.70" x2="202.61" y2="83.40"/>
<line x1="207.17" y1="11.70" x2="207.17" y2="83.40"/>
<line x1="211.72" y1="11.70" x2="211.72" y2="83.40"/>
<line x1="216.28" y1="11.70" x2="216.28" y2="83.40"/>
<line x1="220.83" y1="11.70" x2="220.83" y2="83.40"/>
<line x1="225.39" y1="11.70" x2="225.39" y2="83.40"/>
<line x1="229.94" y1="11.70" x2="229.94" y2="83.40"/>
<line x1="234.50" y1="11.70" x2="234.50" y2="83.40"/>
</g>
<g stroke="#2a2a2a" stroke-width="0.8" shape-rendering="crispEdges">
<line x1="234.50" y1="83.40" x2="265.80" y2="83.40"/>
<line x1="234.50" y1="89.40" x2="265.80" y2="89.40"/>
<line x1="234.50" y1="95.39" x2="265.80" y2="95.39"/>
<line x1="234.50" y1="101.39" x2="265.80" y2="101.39"/>
<line x1="234.50" y1="107.38" x2="265.80" y2="107.38"/>
<line x1="234.50" y1="113.38" x2="265.80" y2="113.38"/>
<line x1="234.50" y1="119.38" x2="265.80" y2="119.38"/>
<line x1="234.50" y1="125.37" x2="265.80" y2="125.37"/>
<line x1="234.50" y1="131.37" x2="265.80" y2="131.37"/>
<line x1="234.50" y1="137.36" x2="265.80" y2="137.36"/>
<line x1="234.50" y1="143.36" x2="265.80" y2="143.36"/>
<line x1="234.50" y1="149.36" x2="265.80" y2="149.36"/>
<line x1="234.50" y1="155.35" x2="265.80" y2="155.35"/>
<line x1="234.50" y1="161.35" x2="265.80" y2="161.35"/>
<line x1="234.50" y1="167.34" x2="265.80" y2="167.34"/>
<line x1="234.50" y1="173.34" x2="265.80" y2="173.34"/>
<line x1="234.50" y1="179.33" x2="265.80" y2="179.33"/>
<line x1="234.50" y1="185.33" x2="265.80" y2="185.33"/>
<line x1="234.50" y1="191.33" x2="265.80" y2="191.33"/>
<line x1="234.50" y1="197.32" x2="265.80" y2="197.32"/>
<line x1="234.50" y1="203.32" x2="265.80" y2="203.32"/>
<line x1="234.50" y1="209.31" x2="265.80" y2="209.31"/>
<line x1="234.50" y1="215.31" x2="265.80" y2="215.31"/>
<line x1="234.50" y1="221.31" x2="265.80" y2="221.31"/>
<line x1="234.50" y1="227.30" x2="265.80" y2="227.30"/>
<line x1="234.50" y1="233.30" x2="265.80" y2="233.30"/>
<line x1="234.50" y1="239.29" x2="265.80" y2="239.29"/>
<line x1="234.50" y1="245.29" x2="265.80" y2="245.29"/>
<line x1="234.50" y1="251.29" x2="265.80" y2="251.29"/>
<line x1="234.50" y1="257.28" x2="265.80" y2="257.28"/>
<line x1="234.50" y1="263.28" x2="265.80" y2="263.28"/>
<line x1="234.50" y1="269.27" x2="265.80" y2="269.27"/>
<line x1="234.50" y1="275.27" x2="265.80" y2="275.27"/>
<line x1="234.50" y1="281.27" x2="265.80" y2="281.27"/>
<line x1="234.50" y1="287.26" x2="265.80" y2="287.26"/>
<line x1="234.50" y1="293.26" x2="265.80" y2="293.26"/>
<line x1="234.50" y1="299.25" x2="265.80" y2="299.25"/>
<line x1="234.50" y1="305.25" x2="265.80" y2="305.25"/>
<line x1="234.50" y1="311.24" x2="265.80" y2="311.24"/>
<line x1="234.50" y1="317.24" x2="265.80" y2="317.24"/>
<line x1="234.50" y1="323.24" x2="265.80" y2="323.24"/>
<line x1="234.50" y1="329.23" x2="265.80" y2="329.23"/>
<line x1="234.50" y1="335.23" x2="265.80" y2="335.23"/>
<line x1="234.50" y1="341.22" x2="265.80" y2="341.22"/>
<line x1="234.50" y1="347.22" x2="265.80" y2="347.22"/>
<line x1="234.50" y1="353.22" x2="265.80" y2="353.22"/>
<line x1="234.50" y1="359.21" x2="265.80" y2="359.21"/>
<line x1="234.50" y1="365.21" x2="265.80" y2="365.21"/>
<line x1="234.50" y1="371.20" x2="265.80" y2="371.20"/>
<line x1="234.50" y1="377.20" x2="265.80" y2="377.20"/>
</g>
<g font-family='"Liberation Serif", serif' font-size="6.3" fill="#000">
<text x="238.2" y="88.95" textLength="10.0" lengthAdjust="spacingAndGlyphs">SOD1</text>
<text x="238.2" y="94.94" textLength="12.5" lengthAdjust="spacingAndGlyphs">HMOX2</text>
<text x="238.2" y="100.94" textLength="7.5" lengthAdjust="spacingAndGlyphs">FTL</text>
<text x="238.2" y="106.93" textLength="15.0" lengthAdjust="spacingAndGlyphs">CDKN2D</text>
<text x="238.2" y="112.93" textLength="10.0" lengthAdjust="spacingAndGlyphs">G6PD</text>
<text x="238.2" y="118.93" textLength="7.5" lengthAdjust="spacingAndGlyphs">FES</text>
<text x="238.2" y="124.92" textLength="12.5" lengthAdjust="spacingAndGlyphs">EGLN2</text>
<text x="238.2" y="130.92" textLength="7.5" lengthAdjust="spacingAndGlyphs">MPO</text>
<text x="238.2" y="136.91" textLength="12.5" lengthAdjust="spacingAndGlyphs">ATOX1</text>
<text x="238.2" y="142.91" textLength="12.5" lengthAdjust="spacingAndGlyphs">PRDX6</text>
<text x="238.2" y="148.91" textLength="12.5" lengthAdjust="spacingAndGlyphs">PRDX2</text>
<text x="238.2" y="154.90" textLength="12.5" lengthAdjust="spacingAndGlyphs">GLRX2</text>
<text x="238.2" y="160.90" textLength="10.0" lengthAdjust="spacingAndGlyphs">PTPA</text>
<text x="238.2" y="166.89" textLength="15.0" lengthAdjust="spacingAndGlyphs">TXNRD1</text>
<text x="238.2" y="172.89" textLength="10.0" lengthAdjust="spacingAndGlyphs">GCLM</text>
<text x="238.2" y="178.88" textLength="7.5" lengthAdjust="spacingAndGlyphs">MBP</text>
<text x="238.2" y="184.88" textLength="7.5" lengthAdjust="spacingAndGlyphs">GSR</text>
<text x="238.2" y="190.88" textLength="10.0" lengthAdjust="spacingAndGlyphs">GPX3</text>
<text x="238.2" y="196.87" textLength="17.5" lengthAdjust="spacingAndGlyphs">LAMTOR5</text>
<text x="238.2" y="202.87" textLength="7.5" lengthAdjust="spacingAndGlyphs">CAT</text>
<text x="238.2" y="208.86" textLength="15.0" lengthAdjust="spacingAndGlyphs">NDUFB4</text>
<text x="238.2" y="214.86" textLength="10.0" lengthAdjust="spacingAndGlyphs">MSRA</text>
<text x="238.2" y="220.86" textLength="10.0" lengthAdjust="spacingAndGlyphs">LSP1</text>
<text x="238.2" y="226.85" textLength="12.5" lengthAdjust="spacingAndGlyphs">PRDX1</text>
<text x="238.2" y="232.85" textLength="10.0" lengthAdjust="spacingAndGlyphs">GPX4</text>
<text x="238.2" y="238.84" textLength="10.0" lengthAdjust="spacingAndGlyphs">NQO1</text>
<text x="238.2" y="244.84" textLength="15.0" lengthAdjust="spacingAndGlyphs">NDUFA6</text>
<text x="238.2" y="250.84" textLength="10.0" lengthAdjust="spacingAndGlyphs">GLRX</text>
<text x="238.2" y="256.83" textLength="15.0" lengthAdjust="spacingAndGlyphs">NDUFS2</text>
<text x="238.2" y="262.83" textLength="7.5" lengthAdjust="spacingAndGlyphs">TXN</text>
<text x="238.2" y="268.82" textLength="12.5" lengthAdjust="spacingAndGlyphs">PRDX4</text>
<text x="238.2" y="274.82" textLength="15.0" lengthAdjust="spacingAndGlyphs">PDLIM1</text>
<text x="238.2" y="280.82" textLength="12.5" lengthAdjust="spacingAndGlyphs">SRXN1</text>
<text x="238.2" y="286.81" textLength="10.0" lengthAdjust="spacingAndGlyphs">GCLC</text>
<text x="238.2" y="292.81" textLength="10.0" lengthAdjust="spacingAndGlyphs">SOD2</text>
<text x="238.2" y="298.80" textLength="12.5" lengthAdjust="spacingAndGlyphs">ABCC1</text>
<text x="238.2" y="304.80" textLength="15.0" lengthAdjust="spacingAndGlyphs">IPCEF1</text>
<text x="238.2" y="310.79" textLength="12.5" lengthAdjust="spacingAndGlyphs">ERCC2</text>
<text x="238.2" y="316.79" textLength="12.5" lengthAdjust="spacingAndGlyphs">MGST1</text>
<text x="238.2" y="322.79" textLength="15.0" lengthAdjust="spacingAndGlyphs">TXNRD2</text>
<text x="238.2" y="328.78" textLength="12.5" lengthAdjust="spacingAndGlyphs">STK25</text>
<text x="238.2" y="334.78" textLength="10.0" lengthAdjust="spacingAndGlyphs">PFKP</text>
<text x="238.2" y="340.77" textLength="10.0" lengthAdjust="spacingAndGlyphs">HHEX</text>
<text x="238.2" y="346.77" textLength="17.5" lengthAdjust="spacingAndGlyphs">SELENOS</text>
<text x="238.2" y="352.77" textLength="10.0" lengthAdjust="spacingAndGlyphs">PRNP</text>
<text x="238.2" y="358.76" textLength="12.5" lengthAdjust="spacingAndGlyphs">OXSR1</text>
<text x="238.2" y="364.76" textLength="12.5" lengthAdjust="spacingAndGlyphs">SBNO2</text>
<text x="238.2" y="370.75" textLength="12.5" lengthAdjust="spacingAndGlyphs">SCAF4</text>
<text x="238.2" y="376.75" textLength="10.0" lengthAdjust="spacingAndGlyphs">JUNB</text>
</g>
<text x="238.2" y="77.5" font-family='"Liberation Serif", serif' font-size="8.2" fill="#000" textLength="26.8" lengthAdjust="spacingAndGlyphs">SampleNam</text>
<rect x="268.60" y="83.40" width="121.80" height="162.60" fill="#ebebeb" />
<text x="328.50" y="89.30" font-size="5.6" text-anchor="middle" fill="#000" font-family='"Liberation Sans", sans-serif' font-weight="bold" textLength="34.5" lengthAdjust="spacingAndGlyphs" >Enrichment plot:</text>
<text x="328.50" y="98.00" font-size="5.6" text-anchor="middle" fill="#000" font-family='"Liberation Sans", sans-serif' font-weight="bold" textLength="117" lengthAdjust="spacingAndGlyphs" >HALLMARK_REACTIVE_OXYGEN_SPECIES_PATHWAY</text>
<rect x="282.20" y="102.50" width="106.00" height="54.80" fill="#fff" stroke="#cfcfcf" stroke-width="0.5" />
<g stroke="#e6e6e6" stroke-width="0.5">
<line x1="282.2" y1="109.7" x2="388.2" y2="109.7"/>
<line x1="282.2" y1="119.1" x2="388.2" y2="119.1"/>
<line x1="282.2" y1="128.3" x2="388.2" y2="128.3"/>
<line x1="282.2" y1="137.7" x2="388.2" y2="137.7"/>
<line x1="282.2" y1="146.9" x2="388.2" y2="146.9"/>
<line x1="282.2" y1="156.3" x2="388.2" y2="156.3"/>
<line x1="292.25" y1="102.5" x2="292.25" y2="157.3"/>
<line x1="302.30" y1="102.5" x2="302.30" y2="157.3"/>
<line x1="312.35" y1="102.5" x2="312.35" y2="157.3"/>
<line x1="322.40" y1="102.5" x2="322.40" y2="157.3"/>
<line x1="332.45" y1="102.5" x2="332.45" y2="157.3"/>
<line x1="342.50" y1="102.5" x2="342.50" y2="157.3"/>
<line x1="352.55" y1="102.5" x2="352.55" y2="157.3"/>
<line x1="362.60" y1="102.5" x2="362.60" y2="157.3"/>
<line x1="372.65" y1="102.5" x2="372.65" y2="157.3"/>
</g>
<text x="280.70" y="111.10" font-size="3.9" text-anchor="end" fill="#333" font-family='"Liberation Sans", sans-serif' font-weight="normal" >0.5</text>
<text x="280.70" y="120.50" font-size="3.9" text-anchor="end" fill="#333" font-family='"Liberation Sans", sans-serif' font-weight="normal" >0.4</text>
<text x="280.70" y="129.70" font-size="3.9" text-anchor="end" fill="#333" font-family='"Liberation Sans", sans-serif' font-weight="normal" >0.3</text>
<text x="280.70" y="139.10" font-size="3.9" text-anchor="end" fill="#333" font-family='"Liberation Sans", sans-serif' font-weight="normal" >0.2</text>
<text x="280.70" y="148.30" font-size="3.9" text-anchor="end" fill="#333" font-family='"Liberation Sans", sans-serif' font-weight="normal" >0.1</text>
<text x="280.70" y="157.70" font-size="3.9" text-anchor="end" fill="#333" font-family='"Liberation Sans", sans-serif' font-weight="normal" >0.0</text>
<text transform="translate(274.2,130.8) rotate(-90)" font-size="4.2" text-anchor="middle" fill="#333" font-family='"Liberation Sans", sans-serif' textLength="50" lengthAdjust="spacingAndGlyphs">Enrichment score (ES)</text>
<polyline fill="none" stroke="#28f428" stroke-width="1.05" stroke-linejoin="round" points="282.5,156.3 283.2,148 284,138 285,130.8 286,127.5 287.4,126 288.6,127.6 289.8,126.2 291.2,122.5 292.5,123.5 294,119.5 295.5,117.8 296.8,118.8 298,115.5 299.5,113.5 300.8,114.2 302,109 303,106.4 304.5,107.2 306,108.6 307.4,109.3 308.8,107 310,104.4 311.4,106 313,107.4 314.5,106.2 316.8,107 319,108.8 322.7,111.7 324.5,112 328.5,114.2 331,115.5 333,117.4 334.4,116.6 337,119.6 340.3,122 346,127.2 352,132.8 357.9,138.3 361,140.4 366.7,145.5 369,146.1 371,147.2 373.5,147.9 377,151 382.4,155.9"/>
<rect x="282.20" y="159.90" width="106.00" height="19.00" fill="#fff" stroke="#cfcfcf" stroke-width="0.5" />
<g stroke="#111" stroke-width="0.45">
<line x1="282.55" y1="160.2" x2="282.55" y2="178.8"/>
<line x1="282.94" y1="160.2" x2="282.94" y2="178.8"/>
<line x1="283.33" y1="160.2" x2="283.33" y2="178.8"/>
<line x1="283.72" y1="160.2" x2="283.72" y2="178.8"/>
<line x1="284.11" y1="160.2" x2="284.11" y2="178.8"/>
<line x1="284.50" y1="160.2" x2="284.50" y2="178.8"/>
<line x1="284.90" y1="160.2" x2="284.90" y2="178.8"/>
<line x1="285.29" y1="160.2" x2="285.29" y2="178.8"/>
<line x1="285.87" y1="160.2" x2="285.87" y2="178.8"/>
<line x1="286.46" y1="160.2" x2="286.46" y2="178.8"/>
<line x1="287.24" y1="160.2" x2="287.24" y2="178.8"/>
<line x1="290.96" y1="160.2" x2="290.96" y2="178.8"/>
<line x1="291.75" y1="160.2" x2="291.75" y2="178.8"/>
<line x1="292.92" y1="160.2" x2="292.92" y2="178.8"/>
<line x1="293.90" y1="160.2" x2="293.90" y2="178.8"/>
<line x1="296.05" y1="160.2" x2="296.05" y2="178.8"/>
<line x1="296.83" y1="160.2" x2="296.83" y2="178.8"/>
<line x1="298.01" y1="160.2" x2="298.01" y2="178.8"/>
<line x1="298.79" y1="160.2" x2="298.79" y2="178.8"/>
<line x1="300.16" y1="160.2" x2="300.16" y2="178.8"/>
<line x1="300.94" y1="160.2" x2="300.94" y2="178.8"/>
<line x1="302.90" y1="160.2" x2="302.90" y2="178.8"/>
<line x1="303.68" y1="160.2" x2="303.68" y2="178.8"/>
<line x1="304.27" y1="160.2" x2="304.27" y2="178.8"/>
<line x1="308.58" y1="160.2" x2="308.58" y2="178.8"/>
<line x1="309.16" y1="160.2" x2="309.16" y2="178.8"/>
<line x1="309.95" y1="160.2" x2="309.95" y2="178.8"/>
<line x1="313.66" y1="160.2" x2="313.66" y2="178.8"/>
<line x1="314.45" y1="160.2" x2="314.45" y2="178.8"/>
<line x1="316.01" y1="160.2" x2="316.01" y2="178.8"/>
<line x1="322.47" y1="160.2" x2="322.47" y2="178.8"/>
<line x1="323.06" y1="160.2" x2="323.06" y2="178.8"/>
<line x1="326.58" y1="160.2" x2="326.58" y2="178.8"/>
<line x1="333.23" y1="160.2" x2="333.23" y2="178.8"/>
<line x1="334.02" y1="160.2" x2="334.02" y2="178.8"/>
<line x1="339.30" y1="160.2" x2="339.30" y2="178.8"/>
<line x1="358.09" y1="160.2" x2="358.09" y2="178.8"/>
<line x1="366.50" y1="160.2" x2="366.50" y2="178.8"/>
<line x1="368.65" y1="160.2" x2="368.65" y2="178.8"/>
<line x1="370.81" y1="160.2" x2="370.81" y2="178.8"/>
<line x1="373.74" y1="160.2" x2="373.74" y2="178.8"/>
</g>
<rect x="282.16" y="178.90" width="9.25" height="4.90" fill="#e22c2c" />
<rect x="291.35" y="178.90" width="12.77" height="4.90" fill="#e43a3e" />
<rect x="304.07" y="178.90" width="9.83" height="4.90" fill="#e54a52" />
<rect x="313.86" y="178.90" width="12.77" height="4.90" fill="#e8607a" />
<rect x="326.58" y="178.90" width="11.79" height="4.90" fill="#e97880" />
<rect x="338.32" y="178.90" width="12.77" height="4.90" fill="#eeb0e2" />
<rect x="351.04" y="178.90" width="7.88" height="4.90" fill="#d2ccf6" />
<rect x="358.87" y="178.90" width="4.94" height="4.90" fill="#b0a8f4" />
<rect x="363.76" y="178.90" width="7.88" height="4.90" fill="#8a86f2" />
<rect x="371.59" y="178.90" width="6.90" height="4.90" fill="#5a50ee" />
<rect x="378.44" y="178.90" width="4.55" height="4.90" fill="#2418e6" />
<rect x="282.20" y="184.30" width="106.00" height="38.20" fill="#fff" stroke="#d8d8d8" stroke-width="0.4" />
<text x="282.40" y="187.20" font-size="3.7" text-anchor="start" fill="#e02020" font-family='"Liberation Sans", sans-serif' font-weight="normal" textLength="30.5" lengthAdjust="spacingAndGlyphs" >'na' (positively correlated)</text>
<g stroke="#e6e6e6" stroke-width="0.5">
<line x1="282.2" y1="191.6" x2="388.2" y2="191.6"/>
<line x1="282.2" y1="201.2" x2="388.2" y2="201.2"/>
<line x1="282.2" y1="210.8" x2="388.2" y2="210.8"/>
<line x1="282.2" y1="220.2" x2="388.2" y2="220.2"/>
</g>
<polygon fill="#c4c4c4" points="282.3,201.2 282.3,188.5 283,191.2 285,192.8 291,194.3 300,196 311,197.5 322,198.9 333,200.2 339,201.2 352,201.9 365,202.7 374,203.8 379,205.4 381.5,208 382.6,213.5 382.9,221.5 382.9,201.2"/>
<text x="280.70" y="193.00" font-size="3.9" text-anchor="end" fill="#333" font-family='"Liberation Sans", sans-serif' font-weight="normal" >0.5</text>
<text x="280.70" y="202.60" font-size="3.9" text-anchor="end" fill="#333" font-family='"Liberation Sans", sans-serif' font-weight="normal" >0.0</text>
<text x="280.70" y="212.20" font-size="3.9" text-anchor="end" fill="#333" font-family='"Liberation Sans", sans-serif' font-weight="normal" >-0.5</text>
<text x="280.70" y="221.60" font-size="3.9" text-anchor="end" fill="#333" font-family='"Liberation Sans", sans-serif' font-weight="normal" >-1.0</text>
<text transform="translate(274.2,203.4) rotate(-90)" font-size="4.0" text-anchor="middle" fill="#333" font-family='"Liberation Sans", sans-serif' textLength="59" lengthAdjust="spacingAndGlyphs">Ranked list metric (Signal2Noise)</text>
<text x="338.50" y="203.80" font-size="3.7" text-anchor="start" fill="#111" font-family='"Liberation Sans", sans-serif' font-weight="normal" textLength="20.5" lengthAdjust="spacingAndGlyphs" >Zero cross at 10648</text>
<text x="334.50" y="221.00" font-size="3.7" text-anchor="start" fill="#2020e0" font-family='"Liberation Sans", sans-serif' font-weight="normal" textLength="33" lengthAdjust="spacingAndGlyphs" >'high' (negatively correlated)</text>
<text x="282.30" y="227.30" font-size="2.9" text-anchor="middle" fill="#333" font-family='"Liberation Sans", sans-serif' font-weight="normal" >0</text>
<text x="292.35" y="227.30" font-size="2.9" text-anchor="middle" fill="#333" font-family='"Liberation Sans", sans-serif' font-weight="normal" >2,000</text>
<text x="302.40" y="227.30" font-size="2.9" text-anchor="middle" fill="#333" font-family='"Liberation Sans", sans-serif' font-weight="normal" >4,000</text>
<text x="312.45" y="227.30" font-size="2.9" text-anchor="middle" fill="#333" font-family='"Liberation Sans", sans-serif' font-weight="normal" >6,000</text>
<text x="322.50" y="227.30" font-size="2.9" text-anchor="middle" fill="#333" font-family='"Liberation Sans", sans-serif' font-weight="normal" >8,000</text>
<text x="332.55" y="227.30" font-size="2.9" text-anchor="middle" fill="#333" font-family='"Liberation Sans", sans-serif' font-weight="normal" >10,000</text>
<text x="342.60" y="227.30" font-size="2.9" text-anchor="middle" fill="#333" font-family='"Liberation Sans", sans-serif' font-weight="normal" >12,000</text>
<text x="352.65" y="227.30" font-size="2.9" text-anchor="middle" fill="#333" font-family='"Liberation Sans", sans-serif' font-weight="normal" >14,000</text>
<text x="362.70" y="227.30" font-size="2.9" text-anchor="middle" fill="#333" font-family='"Liberation Sans", sans-serif' font-weight="normal" >16,000</text>
<text x="372.75" y="227.30" font-size="2.9" text-anchor="middle" fill="#333" font-family='"Liberation Sans", sans-serif' font-weight="normal" >18,000</text>
<text x="382.80" y="227.30" font-size="2.9" text-anchor="middle" fill="#333" font-family='"Liberation Sans", sans-serif' font-weight="normal" >20,000</text>
<text x="334.80" y="233.20" font-size="4.2" text-anchor="middle" fill="#222" font-family='"Liberation Sans", sans-serif' font-weight="normal" textLength="33.5" lengthAdjust="spacingAndGlyphs" >Rank in Ordered Dataset</text>
<rect x="286.90" y="237.60" width="83.70" height="7.30" fill="#fff" stroke="#555" stroke-width="0.5" />
<line x1="288.50" y1="241.30" x2="291.50" y2="241.30" stroke="#28f428" stroke-width="0.9" />
<text x="292.30" y="242.60" font-size="4.0" text-anchor="start" fill="#111" font-family='"Liberation Sans", sans-serif' font-weight="normal" textLength="23.5" lengthAdjust="spacingAndGlyphs" >Enrichment profile</text>
<line x1="317.50" y1="241.30" x2="320.80" y2="241.30" stroke="#111" stroke-width="0.5" />
<text x="321.80" y="242.60" font-size="4.0" text-anchor="start" fill="#111" font-family='"Liberation Sans", sans-serif' font-weight="normal" textLength="5.5" lengthAdjust="spacingAndGlyphs" >Hits</text>
<line x1="333.50" y1="241.30" x2="338.50" y2="241.30" stroke="#bbb" stroke-width="0.5" />
<text x="339.60" y="242.60" font-size="4.0" text-anchor="start" fill="#111" font-family='"Liberation Sans", sans-serif' font-weight="normal" textLength="29.5" lengthAdjust="spacingAndGlyphs" >Ranking metric scores</text>
<rect x="398.00" y="83.40" width="122.20" height="162.60" fill="#ebebeb" />
<text x="458.60" y="89.60" font-size="6.6" text-anchor="middle" fill="#000" font-family='"Liberation Sans", sans-serif' font-weight="bold" textLength="119" lengthAdjust="spacingAndGlyphs" >HALLMARK_REACTIVE_OXYGEN_SPECIES_PATH</text>
<text x="458.60" y="98.40" font-size="6.6" text-anchor="middle" fill="#000" font-family='"Liberation Sans", sans-serif' font-weight="bold" textLength="72" lengthAdjust="spacingAndGlyphs" >WAY: Random ES distribution</text>
<rect x="412.50" y="101.50" width="105.70" height="129.50" fill="#fff" stroke="#cfcfcf" stroke-width="0.5" />
<g stroke="#ececec" stroke-width="0.5">
<line x1="412.5" y1="219.07" x2="518.2" y2="219.07"/>
<line x1="412.5" y1="207.14" x2="518.2" y2="207.14"/>
<line x1="412.5" y1="195.21" x2="518.2" y2="195.21"/>
<line x1="412.5" y1="183.28" x2="518.2" y2="183.28"/>
<line x1="412.5" y1="171.35" x2="518.2" y2="171.35"/>
<line x1="412.5" y1="159.42" x2="518.2" y2="159.42"/>
<line x1="412.5" y1="147.49" x2="518.2" y2="147.49"/>
<line x1="412.5" y1="135.56" x2="518.2" y2="135.56"/>
<line x1="412.5" y1="123.63" x2="518.2" y2="123.63"/>
<line x1="412.5" y1="111.70" x2="518.2" y2="111.70"/>
<line x1="413.10" y1="101.5" x2="413.10" y2="231.0"/>
<line x1="421.82" y1="101.5" x2="421.82" y2="231.0"/>
<line x1="430.54" y1="101.5" x2="430.54" y2="231.0"/>
<line x1="439.26" y1="101.5" x2="439.26" y2="231.0"/>
<line x1="447.98" y1="101.5" x2="447.98" y2="231.0"/>
<line x1="456.70" y1="101.5" x2="456.70" y2="231.0"/>
<line x1="465.42" y1="101.5" x2="465.42" y2="231.0"/>
<line x1="474.14" y1="101.5" x2="474.14" y2="231.0"/>
<line x1="482.86" y1="101.5" x2="482.86" y2="231.0"/>
<line x1="491.58" y1="101.5" x2="491.58" y2="231.0"/>
<line x1="500.30" y1="101.5" x2="500.30" y2="231.0"/>
<line x1="509.02" y1="101.5" x2="509.02" y2="231.0"/>
</g>
<text x="410.70" y="232.40" font-size="3.9" text-anchor="end" fill="#333" font-family='"Liberation Sans", sans-serif' font-weight="normal" >0</text>
<text x="410.70" y="220.47" font-size="3.9" text-anchor="end" fill="#333" font-family='"Liberation Sans", sans-serif' font-weight="normal" >10</text>
<text x="410.70" y="208.54" font-size="3.9" text-anchor="end" fill="#333" font-family='"Liberation Sans", sans-serif' font-weight="normal" >20</text>
<text x="410.70" y="196.61" font-size="3.9" text-anchor="end" fill="#333" font-family='"Liberation Sans", sans-serif' font-weight="normal" >30</text>
<text x="410.70" y="184.68" font-size="3.9" text-anchor="end" fill="#333" font-family='"Liberation Sans", sans-serif' font-weight="normal" >40</text>
<text x="410.70" y="172.75" font-size="3.9" text-anchor="end" fill="#333" font-family='"Liberation Sans", sans-serif' font-weight="normal" >50</text>
<text x="410.70" y="160.82" font-size="3.9" text-anchor="end" fill="#333" font-family='"Liberation Sans", sans-serif' font-weight="normal" >60</text>
<text x="410.70" y="148.89" font-size="3.9" text-anchor="end" fill="#333" font-family='"Liberation Sans", sans-serif' font-weight="normal" >70</text>
<text x="410.70" y="136.96" font-size="3.9" text-anchor="end" fill="#333" font-family='"Liberation Sans", sans-serif' font-weight="normal" >80</text>
<text x="410.70" y="125.03" font-size="3.9" text-anchor="end" fill="#333" font-family='"Liberation Sans", sans-serif' font-weight="normal" >90</text>
<text x="410.70" y="113.10" font-size="3.9" text-anchor="end" fill="#333" font-family='"Liberation Sans", sans-serif' font-weight="normal" >100</text>
<text x="413.10" y="236.90" font-size="3.9" text-anchor="middle" fill="#333" font-family='"Liberation Sans", sans-serif' font-weight="normal" >-0.6</text>
<text x="421.82" y="236.90" font-size="3.9" text-anchor="middle" fill="#333" font-family='"Liberation Sans", sans-serif' font-weight="normal" >-0.5</text>
<text x="430.54" y="236.90" font-size="3.9" text-anchor="middle" fill="#333" font-family='"Liberation Sans", sans-serif' font-weight="normal" >-0.4</text>
<text x="439.26" y="236.90" font-size="3.9" text-anchor="middle" fill="#333" font-family='"Liberation Sans", sans-serif' font-weight="normal" >-0.3</text>
<text x="447.98" y="236.90" font-size="3.9" text-anchor="middle" fill="#333" font-family='"Liberation Sans", sans-serif' font-weight="normal" >-0.2</text>
<text x="456.70" y="236.90" font-size="3.9" text-anchor="middle" fill="#333" font-family='"Liberation Sans", sans-serif' font-weight="normal" >-0.1</text>
<text x="465.42" y="236.90" font-size="3.9" text-anchor="middle" fill="#333" font-family='"Liberation Sans", sans-serif' font-weight="normal" >0.0</text>
<text x="474.14" y="236.90" font-size="3.9" text-anchor="middle" fill="#333" font-family='"Liberation Sans", sans-serif' font-weight="normal" >0.1</text>
<text x="482.86" y="236.90" font-size="3.9" text-anchor="middle" fill="#333" font-family='"Liberation Sans", sans-serif' font-weight="normal" >0.2</text>
<text x="491.58" y="236.90" font-size="3.9" text-anchor="middle" fill="#333" font-family='"Liberation Sans", sans-serif' font-weight="normal" >0.3</text>
<text x="500.30" y="236.90" font-size="3.9" text-anchor="middle" fill="#333" font-family='"Liberation Sans", sans-serif' font-weight="normal" >0.4</text>
<text x="509.02" y="236.90" font-size="3.9" text-anchor="middle" fill="#333" font-family='"Liberation Sans", sans-serif' font-weight="normal" >0.5</text>
<text x="464.80" y="242.90" font-size="5.0" text-anchor="middle" fill="#222" font-family='"Liberation Sans", sans-serif' font-weight="bold" textLength="5.6" lengthAdjust="spacingAndGlyphs" >ES</text>
<text transform="translate(404.0,167) rotate(-90)" font-size="4.0" text-anchor="middle" fill="#444" font-family='"Liberation Sans", sans-serif'>P(ES)</text>
<polyline fill="none" stroke="#ff5cff" stroke-width="0.8" stroke-linejoin="round" points="417.4,215.8 437.4,107.7 440,108.4 442.5,109.7 447.8,126 458.1,230.6 473.2,230.6 478.1,207 482.6,135.1 487.9,118.7 493,132.4 498,116.2 500.3,126 513.3,218.7"/>
<line x1="514.70" y1="101.50" x2="514.70" y2="231.00" stroke="#222" stroke-width="0.6" stroke-dasharray="0.8,0.8"/>
<text x="436.80" y="106.20" font-size="3.3" text-anchor="start" fill="#2828e8" font-family='"Liberation Sans", sans-serif' font-weight="normal" textLength="18" lengthAdjust="spacingAndGlyphs" >'high' (Neg ES)</text>
<text x="477.80" y="106.20" font-size="3.3" text-anchor="start" fill="#e82828" font-family='"Liberation Sans", sans-serif' font-weight="normal" textLength="16" lengthAdjust="spacingAndGlyphs" >'low' (Pos ES)</text>
<text x="451.50" y="229.80" font-size="3.3" text-anchor="start" fill="#111" font-family='"Liberation Sans", sans-serif' font-weight="normal" textLength="29" lengthAdjust="spacingAndGlyphs" >Sets with pos scores: 48%</text>
<text x="508.00" y="230.60" font-size="3.0" text-anchor="start" fill="#111" font-family='"Liberation Sans", sans-serif' font-weight="normal" textLength="9.5" lengthAdjust="spacingAndGlyphs" >Real ES 0.5</text>
<rect x="267.90" y="256.70" width="251.40" height="121.30" fill="#fff" stroke="#b8b8b8" stroke-width="0.8" />
<rect x="269.30" y="257.90" width="8.30" height="8.90" fill="#c6c6c6" stroke="#8f8f8f" stroke-width="0.6" />
<rect x="278.90" y="257.90" width="27.30" height="8.90" fill="#c6c6c6" stroke="#8f8f8f" stroke-width="0.6" />
<text x="281.30" y="264.40" font-size="5.6" text-anchor="start" fill="#fff" font-family='"Liberation Sans", sans-serif' font-weight="bold" textLength="22.2" lengthAdjust="spacingAndGlyphs" >SYMBOL</text>
<rect x="307.50" y="257.90" width="54.70" height="8.90" fill="#c6c6c6" stroke="#8f8f8f" stroke-width="0.6" />
<text x="309.10" y="264.40" font-size="5.6" text-anchor="start" fill="#fff" font-family='"Liberation Sans", sans-serif' font-weight="bold" textLength="52.5" lengthAdjust="spacingAndGlyphs" >RANK IN GENE LIST</text>
<rect x="363.50" y="257.90" width="61.10" height="8.90" fill="#c6c6c6" stroke="#8f8f8f" stroke-width="0.6" />
<text x="365.10" y="264.40" font-size="5.6" text-anchor="start" fill="#fff" font-family='"Liberation Sans", sans-serif' font-weight="bold" textLength="58.5" lengthAdjust="spacingAndGlyphs" >RANK METRIC SCORE</text>
<rect x="425.90" y="257.90" width="35.70" height="8.90" fill="#c6c6c6" stroke="#8f8f8f" stroke-width="0.6" />
<text x="427.50" y="264.40" font-size="5.6" text-anchor="start" fill="#fff" font-family='"Liberation Sans", sans-serif' font-weight="bold" textLength="33" lengthAdjust="spacingAndGlyphs" >RUNNING ES</text>
<rect x="462.90" y="257.90" width="55.50" height="8.90" fill="#c6c6c6" stroke="#8f8f8f" stroke-width="0.6" />
<text x="464.50" y="264.40" font-size="5.6" text-anchor="start" fill="#fff" font-family='"Liberation Sans", sans-serif' font-weight="bold" textLength="53.5" lengthAdjust="spacingAndGlyphs" >CORE ENRICHMENT</text>
<rect x="269.30" y="268.10" width="8.30" height="9.50" fill="#f4f4f4" stroke="#8f8f8f" stroke-width="0.6" />
<rect x="278.90" y="268.10" width="27.30" height="9.50" fill="#fff" stroke="#8f8f8f" stroke-width="0.6" />
<rect x="307.50" y="268.10" width="54.70" height="9.50" fill="#fff" stroke="#8f8f8f" stroke-width="0.6" />
<rect x="363.50" y="268.10" width="61.10" height="9.50" fill="#fff" stroke="#8f8f8f" stroke-width="0.6" />
<rect x="425.90" y="268.10" width="35.70" height="9.50" fill="#fff" stroke="#8f8f8f" stroke-width="0.6" />
<rect x="462.90" y="268.10" width="55.50" height="9.50" fill="#c9ffc9" stroke="#8f8f8f" stroke-width="0.6" />
<text x="270.60" y="275.00" font-size="5.6" text-anchor="start" fill="#222" font-family='"Liberation Sans", sans-serif' font-weight="normal" >1</text>
<text x="280.20" y="275.00" font-size="5.45" fill="#20208a" font-family='"Liberation Sans", sans-serif' text-decoration="underline">SOD1</text>
<text x="308.90" y="275.00" font-size="5.7" text-anchor="start" fill="#222" font-family='"Liberation Sans", sans-serif' font-weight="normal" >167</text>
<text x="364.90" y="275.00" font-size="5.7" text-anchor="start" fill="#222" font-family='"Liberation Sans", sans-serif' font-weight="normal" >0.543</text>
<text x="427.30" y="275.00" font-size="5.7" text-anchor="start" fill="#222" font-family='"Liberation Sans", sans-serif' font-weight="normal" >0.0307</text>
<text x="464.50" y="275.00" font-size="5.7" text-anchor="start" fill="#222" font-family='"Liberation Sans", sans-serif' font-weight="normal" >Yes</text>
<rect x="269.30" y="279.16" width="8.30" height="9.50" fill="#f4f4f4" stroke="#8f8f8f" stroke-width="0.6" />
<rect x="278.90" y="279.16" width="27.30" height="9.50" fill="#fff" stroke="#8f8f8f" stroke-width="0.6" />
<rect x="307.50" y="279.16" width="54.70" height="9.50" fill="#fff" stroke="#8f8f8f" stroke-width="0.6" />
<rect x="363.50" y="279.16" width="61.10" height="9.50" fill="#fff" stroke="#8f8f8f" stroke-width="0.6" />
<rect x="425.90" y="279.16" width="35.70" height="9.50" fill="#fff" stroke="#8f8f8f" stroke-width="0.6" />
<rect x="462.90" y="279.16" width="55.50" height="9.50" fill="#c9ffc9" stroke="#8f8f8f" stroke-width="0.6" />
<text x="270.60" y="286.06" font-size="5.6" text-anchor="start" fill="#222" font-family='"Liberation Sans", sans-serif' font-weight="normal" >2</text>
<text x="280.20" y="286.06" font-size="5.45" fill="#20208a" font-family='"Liberation Sans", sans-serif' text-decoration="underline">HMOX2</text>
<text x="308.90" y="286.06" font-size="5.7" text-anchor="start" fill="#222" font-family='"Liberation Sans", sans-serif' font-weight="normal" >191</text>
<text x="364.90" y="286.06" font-size="5.7" text-anchor="start" fill="#222" font-family='"Liberation Sans", sans-serif' font-weight="normal" >0.538</text>
<text x="427.30" y="286.06" font-size="5.7" text-anchor="start" fill="#222" font-family='"Liberation Sans", sans-serif' font-weight="normal" >0.0684</text>
<text x="464.50" y="286.06" font-size="5.7" text-anchor="start" fill="#222" font-family='"Liberation Sans", sans-serif' font-weight="normal" >Yes</text>
<rect x="269.30" y="290.21" width="8.30" height="9.50" fill="#f4f4f4" stroke="#8f8f8f" stroke-width="0.6" />
<rect x="278.90" y="290.21" width="27.30" height="9.50" fill="#fff" stroke="#8f8f8f" stroke-width="0.6" />
<rect x="307.50" y="290.21" width="54.70" height="9.50" fill="#fff" stroke="#8f8f8f" stroke-width="0.6" />
<rect x="363.50" y="290.21" width="61.10" height="9.50" fill="#fff" stroke="#8f8f8f" stroke-width="0.6" />
<rect x="425.90" y="290.21" width="35.70" height="9.50" fill="#fff" stroke="#8f8f8f" stroke-width="0.6" />
<rect x="462.90" y="290.21" width="55.50" height="9.50" fill="#c9ffc9" stroke="#8f8f8f" stroke-width="0.6" />
<text x="270.60" y="297.11" font-size="5.6" text-anchor="start" fill="#222" font-family='"Liberation Sans", sans-serif' font-weight="normal" >3</text>
<text x="280.20" y="297.11" font-size="5.45" fill="#20208a" font-family='"Liberation Sans", sans-serif' text-decoration="underline">FTL</text>
<text x="308.90" y="297.11" font-size="5.7" text-anchor="start" fill="#222" font-family='"Liberation Sans", sans-serif' font-weight="normal" >208</text>
<text x="364.90" y="297.11" font-size="5.7" text-anchor="start" fill="#222" font-family='"Liberation Sans", sans-serif' font-weight="normal" >0.532</text>
<text x="427.30" y="297.11" font-size="5.7" text-anchor="start" fill="#222" font-family='"Liberation Sans", sans-serif' font-weight="normal" >0.1060</text>
<text x="464.50" y="297.11" font-size="5.7" text-anchor="start" fill="#222" font-family='"Liberation Sans", sans-serif' font-weight="normal" >Yes</text>
<rect x="269.30" y="301.27" width="8.30" height="9.50" fill="#f4f4f4" stroke="#8f8f8f" stroke-width="0.6" />
<rect x="278.90" y="301.27" width="27.30" height="9.50" fill="#fff" stroke="#8f8f8f" stroke-width="0.6" />
<rect x="307.50" y="301.27" width="54.70" height="9.50" fill="#fff" stroke="#8f8f8f" stroke-width="0.6" />
<rect x="363.50" y="301.27" width="61.10" height="9.50" fill="#fff" stroke="#8f8f8f" stroke-width="0.6" />
<rect x="425.90" y="301.27" width="35.70" height="9.50" fill="#fff" stroke="#8f8f8f" stroke-width="0.6" />
<rect x="462.90" y="301.27" width="55.50" height="9.50" fill="#c9ffc9" stroke="#8f8f8f" stroke-width="0.6" />
<text x="270.60" y="308.17" font-size="5.6" text-anchor="start" fill="#222" font-family='"Liberation Sans", sans-serif' font-weight="normal" >4</text>
<text x="280.20" y="308.17" font-size="5.45" fill="#20208a" font-family='"Liberation Sans", sans-serif' text-decoration="underline">CDKN2D</text>
<text x="308.90" y="308.17" font-size="5.7" text-anchor="start" fill="#222" font-family='"Liberation Sans", sans-serif' font-weight="normal" >309</text>
<text x="364.90" y="308.17" font-size="5.7" text-anchor="start" fill="#222" font-family='"Liberation Sans", sans-serif' font-weight="normal" >0.508</text>
<text x="427.30" y="308.17" font-size="5.7" text-anchor="start" fill="#222" font-family='"Liberation Sans", sans-serif' font-weight="normal" >0.1375</text>
<text x="464.50" y="308.17" font-size="5.7" text-anchor="start" fill="#222" font-family='"Liberation Sans", sans-serif' font-weight="normal" >Yes</text>
<rect x="269.30" y="312.32" width="8.30" height="9.50" fill="#f4f4f4" stroke="#8f8f8f" stroke-width="0.6" />
<rect x="278.90" y="312.32" width="27.30" height="9.50" fill="#fff" stroke="#8f8f8f" stroke-width="0.6" />
<rect x="307.50" y="312.32" width="54.70" height="9.50" fill="#fff" stroke="#8f8f8f" stroke-width="0.6" />
<rect x="363.50" y="312.32" width="61.10" height="9.50" fill="#fff" stroke="#8f8f8f" stroke-width="0.6" />
<rect x="425.90" y="312.32" width="35.70" height="9.50" fill="#fff" stroke="#8f8f8f" stroke-width="0.6" />
<rect x="462.90" y="312.32" width="55.50" height="9.50" fill="#c9ffc9" stroke="#8f8f8f" stroke-width="0.6" />
<text x="270.60" y="319.22" font-size="5.6" text-anchor="start" fill="#222" font-family='"Liberation Sans", sans-serif' font-weight="normal" >5</text>
<text x="280.20" y="319.22" font-size="5.45" fill="#20208a" font-family='"Liberation Sans", sans-serif' text-decoration="underline">G6PD</text>
<text x="308.90" y="319.22" font-size="5.7" text-anchor="start" fill="#222" font-family='"Liberation Sans", sans-serif' font-weight="normal" >371</text>
<text x="364.90" y="319.22" font-size="5.7" text-anchor="start" fill="#222" font-family='"Liberation Sans", sans-serif' font-weight="normal" >0.495</text>
<text x="427.30" y="319.22" font-size="5.7" text-anchor="start" fill="#222" font-family='"Liberation Sans", sans-serif' font-weight="normal" >0.1701</text>
<text x="464.50" y="319.22" font-size="5.7" text-anchor="start" fill="#222" font-family='"Liberation Sans", sans-serif' font-weight="normal" >Yes</text>
<rect x="269.30" y="323.38" width="8.30" height="9.50" fill="#f4f4f4" stroke="#8f8f8f" stroke-width="0.6" />
<rect x="278.90" y="323.38" width="27.30" height="9.50" fill="#fff" stroke="#8f8f8f" stroke-width="0.6" />
<rect x="307.50" y="323.38" width="54.70" height="9.50" fill="#fff" stroke="#8f8f8f" stroke-width="0.6" />
<rect x="363.50" y="323.38" width="61.10" height="9.50" fill="#fff" stroke="#8f8f8f" stroke-width="0.6" />
<rect x="425.90" y="323.38" width="35.70" height="9.50" fill="#fff" stroke="#8f8f8f" stroke-width="0.6" />
<rect x="462.90" y="323.38" width="55.50" height="9.50" fill="#c9ffc9" stroke="#8f8f8f" stroke-width="0.6" />
<text x="270.60" y="330.27" font-size="5.6" text-anchor="start" fill="#222" font-family='"Liberation Sans", sans-serif' font-weight="normal" >6</text>
<text x="280.20" y="330.27" font-size="5.45" fill="#20208a" font-family='"Liberation Sans", sans-serif' text-decoration="underline">FES</text>
<text x="308.90" y="330.27" font-size="5.7" text-anchor="start" fill="#222" font-family='"Liberation Sans", sans-serif' font-weight="normal" >377</text>
<text x="364.90" y="330.27" font-size="5.7" text-anchor="start" fill="#222" font-family='"Liberation Sans", sans-serif' font-weight="normal" >0.494</text>
<text x="427.30" y="330.27" font-size="5.7" text-anchor="start" fill="#222" font-family='"Liberation Sans", sans-serif' font-weight="normal" >0.2056</text>
<text x="464.50" y="330.27" font-size="5.7" text-anchor="start" fill="#222" font-family='"Liberation Sans", sans-serif' font-weight="normal" >Yes</text>
<rect x="269.30" y="334.43" width="8.30" height="9.50" fill="#f4f4f4" stroke="#8f8f8f" stroke-width="0.6" />
<rect x="278.90" y="334.43" width="27.30" height="9.50" fill="#fff" stroke="#8f8f8f" stroke-width="0.6" />
<rect x="307.50" y="334.43" width="54.70" height="9.50" fill="#fff" stroke="#8f8f8f" stroke-width="0.6" />
<rect x="363.50" y="334.43" width="61.10" height="9.50" fill="#fff" stroke="#8f8f8f" stroke-width="0.6" />
<rect x="425.90" y="334.43" width="35.70" height="9.50" fill="#fff" stroke="#8f8f8f" stroke-width="0.6" />
<rect x="462.90" y="334.43" width="55.50" height="9.50" fill="#c9ffc9" stroke="#8f8f8f" stroke-width="0.6" />
<text x="270.60" y="341.33" font-size="5.6" text-anchor="start" fill="#222" font-family='"Liberation Sans", sans-serif' font-weight="normal" >7</text>
<text x="280.20" y="341.33" font-size="5.45" fill="#20208a" font-family='"Liberation Sans", sans-serif' text-decoration="underline">EGLN2</text>
<text x="308.90" y="341.33" font-size="5.7" text-anchor="start" fill="#222" font-family='"Liberation Sans", sans-serif' font-weight="normal" >480</text>
<text x="364.90" y="341.33" font-size="5.7" text-anchor="start" fill="#222" font-family='"Liberation Sans", sans-serif' font-weight="normal" >0.479</text>
<text x="427.30" y="341.33" font-size="5.7" text-anchor="start" fill="#222" font-family='"Liberation Sans", sans-serif' font-weight="normal" >0.2350</text>
<text x="464.50" y="341.33" font-size="5.7" text-anchor="start" fill="#222" font-family='"Liberation Sans", sans-serif' font-weight="normal" >Yes</text>
<rect x="269.30" y="345.49" width="8.30" height="9.50" fill="#f4f4f4" stroke="#8f8f8f" stroke-width="0.6" />
<rect x="278.90" y="345.49" width="27.30" height="9.50" fill="#fff" stroke="#8f8f8f" stroke-width="0.6" />
<rect x="307.50" y="345.49" width="54.70" height="9.50" fill="#fff" stroke="#8f8f8f" stroke-width="0.6" />
<rect x="363.50" y="345.49" width="61.10" height="9.50" fill="#fff" stroke="#8f8f8f" stroke-width="0.6" />
<rect x="425.90" y="345.49" width="35.70" height="9.50" fill="#fff" stroke="#8f8f8f" stroke-width="0.6" />
<rect x="462.90" y="345.49" width="55.50" height="9.50" fill="#c9ffc9" stroke="#8f8f8f" stroke-width="0.6" />
<text x="270.60" y="352.38" font-size="5.6" text-anchor="start" fill="#222" font-family='"Liberation Sans", sans-serif' font-weight="normal" >8</text>
<text x="280.20" y="352.38" font-size="5.45" fill="#20208a" font-family='"Liberation Sans", sans-serif' text-decoration="underline">MPO</text>
<text x="308.90" y="352.38" font-size="5.7" text-anchor="start" fill="#222" font-family='"Liberation Sans", sans-serif' font-weight="normal" >491</text>
<text x="364.90" y="352.38" font-size="5.7" text-anchor="start" fill="#222" font-family='"Liberation Sans", sans-serif' font-weight="normal" >0.478</text>
<text x="427.30" y="352.38" font-size="5.7" text-anchor="start" fill="#222" font-family='"Liberation Sans", sans-serif' font-weight="normal" >0.2689</text>
<text x="464.50" y="352.38" font-size="5.7" text-anchor="start" fill="#222" font-family='"Liberation Sans", sans-serif' font-weight="normal" >Yes</text>
<rect x="269.30" y="356.54" width="8.30" height="9.50" fill="#f4f4f4" stroke="#8f8f8f" stroke-width="0.6" />
<rect x="278.90" y="356.54" width="27.30" height="9.50" fill="#fff" stroke="#8f8f8f" stroke-width="0.6" />
<rect x="307.50" y="356.54" width="54.70" height="9.50" fill="#fff" stroke="#8f8f8f" stroke-width="0.6" />
<rect x="363.50" y="356.54" width="61.10" height="9.50" fill="#fff" stroke="#8f8f8f" stroke-width="0.6" />
<rect x="425.90" y="356.54" width="35.70" height="9.50" fill="#fff" stroke="#8f8f8f" stroke-width="0.6" />
<rect x="462.90" y="356.54" width="55.50" height="9.50" fill="#c9ffc9" stroke="#8f8f8f" stroke-width="0.6" />
<text x="270.60" y="363.44" font-size="5.6" text-anchor="start" fill="#222" font-family='"Liberation Sans", sans-serif' font-weight="normal" >9</text>
<text x="280.20" y="363.44" font-size="5.45" fill="#20208a" font-family='"Liberation Sans", sans-serif' text-decoration="underline">ATOX1</text>
<text x="308.90" y="363.44" font-size="5.7" text-anchor="start" fill="#222" font-family='"Liberation Sans", sans-serif' font-weight="normal" >727</text>
<text x="364.90" y="363.44" font-size="5.7" text-anchor="start" fill="#222" font-family='"Liberation Sans", sans-serif' font-weight="normal" >0.450</text>
<text x="427.30" y="363.44" font-size="5.7" text-anchor="start" fill="#222" font-family='"Liberation Sans", sans-serif' font-weight="normal" >0.2894</text>
<text x="464.50" y="363.44" font-size="5.7" text-anchor="start" fill="#222" font-family='"Liberation Sans", sans-serif' font-weight="normal" >Yes</text>
<rect x="269.30" y="367.60" width="8.30" height="9.50" fill="#f4f4f4" stroke="#8f8f8f" stroke-width="0.6" />
<rect x="278.90" y="367.60" width="27.30" height="9.50" fill="#fff" stroke="#8f8f8f" stroke-width="0.6" />
<rect x="307.50" y="367.60" width="54.70" height="9.50" fill="#fff" stroke="#8f8f8f" stroke-width="0.6" />
<rect x="363.50" y="367.60" width="61.10" height="9.50" fill="#fff" stroke="#8f8f8f" stroke-width="0.6" />
<rect x="425.90" y="367.60" width="35.70" height="9.50" fill="#fff" stroke="#8f8f8f" stroke-width="0.6" />
<rect x="462.90" y="367.60" width="55.50" height="9.50" fill="#c9ffc9" stroke="#8f8f8f" stroke-width="0.6" />
<text x="270.60" y="374.50" font-size="5.6" text-anchor="start" fill="#222" font-family='"Liberation Sans", sans-serif' font-weight="normal" >10</text>
<text x="280.20" y="374.50" font-size="5.45" fill="#20208a" font-family='"Liberation Sans", sans-serif' text-decoration="underline">PRDX6</text>
<text x="308.90" y="374.50" font-size="5.7" text-anchor="start" fill="#222" font-family='"Liberation Sans", sans-serif' font-weight="normal" >775</text>
<text x="364.90" y="374.50" font-size="5.7" text-anchor="start" fill="#222" font-family='"Liberation Sans", sans-serif' font-weight="normal" >0.445</text>
<text x="427.30" y="374.50" font-size="5.7" text-anchor="start" fill="#222" font-family='"Liberation Sans", sans-serif' font-weight="normal" >0.3191</text>
<text x="464.50" y="374.50" font-size="5.7" text-anchor="start" fill="#222" font-family='"Liberation Sans", sans-serif' font-weight="normal" >Yes</text>
<circle cx="609.2" cy="89.8" r="52.4" fill="#aee5e8"/>
<circle cx="609.2" cy="147.6" r="52.4" fill="#e8a19a"/>
<clipPath id="cpv"><circle cx="609.2" cy="89.8" r="52.4"/></clipPath>
<circle cx="609.2" cy="147.6" r="52.4" fill="#9aabb1" clip-path="url(#cpv)"/>
<text x="609.60" y="19.10" font-size="10.1" text-anchor="middle" fill="#000" font-family='"Liberation Sans", sans-serif' font-weight="normal" >Top 10 genes selected</text>
<text x="609.30" y="30.70" font-size="10.1" text-anchor="middle" fill="#000" font-family='"Liberation Sans", sans-serif' font-weight="normal" >by GSEA</text>
<text x="609.20" y="84.50" font-size="10.1" text-anchor="middle" fill="#000" font-family='"Liberation Sans", sans-serif' font-weight="normal" >8</text>
<text x="609.20" y="121.80" font-size="10.1" text-anchor="middle" fill="#000" font-family='"Liberation Sans", sans-serif' font-weight="normal" >2</text>
<text x="609.20" y="159.20" font-size="10.1" text-anchor="middle" fill="#000" font-family='"Liberation Sans", sans-serif' font-weight="normal" >0</text>
<text x="609.50" y="211.70" font-size="10.1" text-anchor="middle" fill="#000" font-family='"Liberation Sans", sans-serif' font-weight="normal" >The potential targets</text>
<text x="609.30" y="222.70" font-size="10.1" text-anchor="middle" fill="#000" font-family='"Liberation Sans", sans-serif' font-weight="normal" >selected by HumanTFDB</text>
<rect x="549.00" y="307.80" width="11.40" height="6.90" fill="#c1c4fa" />
<text transform="translate(563.7,314.70) scale(1.075,1)" font-size="9.25" text-rendering="geometricPrecision" font-family='"Liberation Sans", sans-serif'>Control</text>
<rect x="549.00" y="316.36" width="11.40" height="6.90" fill="#8c8cf2" />
<text transform="translate(563.7,323.26) scale(1.075,1)" font-size="9.25" text-rendering="geometricPrecision" font-family='"Liberation Sans", sans-serif'>ZBED6(-)NC</text>
<rect x="549.00" y="324.92" width="11.40" height="6.90" fill="#0404f8" />
<text transform="translate(563.7,331.82) scale(1.075,1)" font-size="9.25" text-rendering="geometricPrecision" font-family='"Liberation Sans", sans-serif'>ZBED6(-)</text>
<rect x="549.00" y="333.48" width="11.40" height="6.90" fill="#14148e" />
<text transform="translate(563.7,340.38) scale(1.075,1)" font-size="9.25" text-rendering="geometricPrecision" font-family='"Liberation Sans", sans-serif'>ZBED6(+)NC</text>
<rect x="549.00" y="342.04" width="11.40" height="6.90" fill="#e8964a" />
<text transform="translate(563.7,348.94) scale(1.075,1)" font-size="9.25" text-rendering="geometricPrecision" font-family='"Liberation Sans", sans-serif'>ZBED6(+)</text>
<line x1="561.80" y1="361.40" x2="561.80" y2="443.50" stroke="#000" stroke-width="0.9" />
<line x1="561.70" y1="443.10" x2="683.80" y2="443.10" stroke="#000" stroke-width="0.9" />
<line x1="558.60" y1="443.10" x2="561.80" y2="443.10" stroke="#000" stroke-width="0.75" />
<text x="558.20" y="445.10" font-size="5.7" text-anchor="end" fill="#000" font-family='"Liberation Sans", sans-serif' font-weight="bold" >0.0</text>
<line x1="558.60" y1="426.86" x2="561.80" y2="426.86" stroke="#000" stroke-width="0.75" />
<text x="558.20" y="428.86" font-size="5.7" text-anchor="end" fill="#000" font-family='"Liberation Sans", sans-serif' font-weight="bold" >0.5</text>
<line x1="558.60" y1="410.62" x2="561.80" y2="410.62" stroke="#000" stroke-width="0.75" />
<text x="558.20" y="412.62" font-size="5.7" text-anchor="end" fill="#000" font-family='"Liberation Sans", sans-serif' font-weight="bold" >1.0</text>
<line x1="558.60" y1="394.38" x2="561.80" y2="394.38" stroke="#000" stroke-width="0.75" />
<text x="558.20" y="396.38" font-size="5.7" text-anchor="end" fill="#000" font-family='"Liberation Sans", sans-serif' font-weight="bold" >1.5</text>
<line x1="558.60" y1="378.14" x2="561.80" y2="378.14" stroke="#000" stroke-width="0.75" />
<text x="558.20" y="380.14" font-size="5.7" text-anchor="end" fill="#000" font-family='"Liberation Sans", sans-serif' font-weight="bold" >2.0</text>
<line x1="558.60" y1="361.90" x2="561.80" y2="361.90" stroke="#000" stroke-width="0.75" />
<text x="558.20" y="363.90" font-size="5.7" text-anchor="end" fill="#000" font-family='"Liberation Sans", sans-serif' font-weight="bold" >2.5</text>
<text transform="translate(537.0,403.3) rotate(-90)" font-size="10" text-anchor="middle" font-family='"Liberation Sans", sans-serif'>Relative expression of</text>
<text transform="translate(548.6,403.3) rotate(-90)" font-size="10" text-anchor="middle" font-family='"Liberation Sans", sans-serif'>G6PD mRNA</text>
<rect x="564.60" y="409.00" width="9.00" height="34.10" fill="#c1c4fa" />
<line x1="569.10" y1="409.00" x2="569.10" y2="402.90" stroke="#000" stroke-width="0.75" />
<line x1="567.40" y1="402.90" x2="570.80" y2="402.90" stroke="#000" stroke-width="0.75" />
<circle cx="569.10" cy="402.90" r="1.6" fill="#000"/>
<circle cx="566.40" cy="415.00" r="1.6" fill="#000"/>
<circle cx="571.60" cy="410.30" r="1.6" fill="#000"/>
<rect x="575.80" y="414.52" width="9.00" height="28.58" fill="#8c8cf2" />
<line x1="580.30" y1="414.52" x2="580.30" y2="411.50" stroke="#000" stroke-width="0.75" />
<line x1="578.60" y1="411.50" x2="582.00" y2="411.50" stroke="#000" stroke-width="0.75" />
<rect x="578.50" y="410.00" width="3" height="3" fill="#000"/>
<rect x="576.80" y="416.00" width="3" height="3" fill="#000"/>
<rect x="580.50" y="413.50" width="3" height="3" fill="#000"/>
<rect x="587.00" y="391.78" width="9.00" height="51.32" fill="#0404f8" />
<line x1="591.50" y1="391.78" x2="591.50" y2="386.70" stroke="#000" stroke-width="0.75" />
<line x1="589.80" y1="386.70" x2="593.20" y2="386.70" stroke="#000" stroke-width="0.75" />
<path d="M588.90,388.20 L592.50,388.20 L590.70,385.00 Z" fill="#000"/>
<path d="M592.10,392.40 L595.70,392.40 L593.90,389.20 Z" fill="#000"/>
<path d="M589.60,401.10 L593.20,401.10 L591.40,397.90 Z" fill="#000"/>
<rect x="598.10" y="410.30" width="9.00" height="32.80" fill="#14148e" />
<line x1="602.60" y1="410.30" x2="602.60" y2="404.10" stroke="#000" stroke-width="0.75" />
<line x1="600.90" y1="404.10" x2="604.30" y2="404.10" stroke="#000" stroke-width="0.75" />
<path d="M600.50,402.60 L604.10,402.60 L602.30,405.80 Z" fill="#000"/>
<path d="M602.50,408.80 L606.10,408.80 L604.30,412.00 Z" fill="#000"/>
<path d="M598.80,415.00 L602.40,415.00 L600.60,418.20 Z" fill="#000"/>
<rect x="609.30" y="424.59" width="9.00" height="18.51" fill="#e8964a" />
<line x1="613.80" y1="424.59" x2="613.80" y2="422.00" stroke="#000" stroke-width="0.75" />
<line x1="612.10" y1="422.00" x2="615.50" y2="422.00" stroke="#000" stroke-width="0.75" />
<circle cx="612.50" cy="422.00" r="1.6" fill="#000"/>
<circle cx="614.80" cy="423.20" r="1.6" fill="#000"/>
<circle cx="613.80" cy="429.90" r="1.6" fill="#000"/>
<rect x="627.20" y="410.62" width="9.00" height="32.48" fill="#c1c4fa" />
<line x1="631.70" y1="410.62" x2="631.70" y2="407.10" stroke="#000" stroke-width="0.75" />
<line x1="630.00" y1="407.10" x2="633.40" y2="407.10" stroke="#000" stroke-width="0.75" />
<circle cx="629.60" cy="407.10" r="1.6" fill="#000"/>
<circle cx="633.60" cy="410.30" r="1.6" fill="#000"/>
<circle cx="631.10" cy="416.50" r="1.6" fill="#000"/>
<rect x="638.30" y="413.22" width="9.00" height="29.88" fill="#8c8cf2" />
<line x1="642.80" y1="413.22" x2="642.80" y2="412.40" stroke="#000" stroke-width="0.75" />
<line x1="641.10" y1="412.40" x2="644.50" y2="412.40" stroke="#000" stroke-width="0.75" />
<rect x="641.40" y="410.90" width="3" height="3" fill="#000"/>
<rect x="639.10" y="411.10" width="3" height="3" fill="#000"/>
<rect x="641.10" y="415.50" width="3" height="3" fill="#000"/>
<rect x="649.70" y="384.64" width="9.00" height="58.46" fill="#0404f8" />
<line x1="654.20" y1="384.64" x2="654.20" y2="379.80" stroke="#000" stroke-width="0.75" />
<line x1="652.50" y1="379.80" x2="655.90" y2="379.80" stroke="#000" stroke-width="0.75" />
<path d="M651.70,381.30 L655.30,381.30 L653.50,378.10 Z" fill="#000"/>
<path d="M649.70,390.00 L653.30,390.00 L651.50,386.80 Z" fill="#000"/>
<path d="M654.60,388.70 L658.20,388.70 L656.40,385.50 Z" fill="#000"/>
<rect x="660.90" y="411.92" width="9.00" height="31.18" fill="#14148e" />
<line x1="665.40" y1="411.92" x2="665.40" y2="411.50" stroke="#000" stroke-width="0.75" />
<line x1="663.70" y1="411.50" x2="667.10" y2="411.50" stroke="#000" stroke-width="0.75" />
<path d="M662.10,410.00 L665.70,410.00 L663.90,413.20 Z" fill="#000"/>
<path d="M665.10,410.00 L668.70,410.00 L666.90,413.20 Z" fill="#000"/>
<path d="M663.60,413.50 L667.20,413.50 L665.40,416.70 Z" fill="#000"/>
<rect x="672.00" y="422.64" width="9.00" height="20.46" fill="#e8964a" />
<line x1="676.50" y1="422.64" x2="676.50" y2="422.50" stroke="#000" stroke-width="0.75" />
<line x1="674.80" y1="422.50" x2="678.20" y2="422.50" stroke="#000" stroke-width="0.75" />
<circle cx="675.00" cy="422.50" r="1.6" fill="#000"/>
<circle cx="678.00" cy="422.50" r="1.6" fill="#000"/>
<circle cx="676.30" cy="426.40" r="1.6" fill="#000"/>
<text x="591.20" y="454.10" font-size="10" text-anchor="middle" fill="#000" font-family='"Liberation Sans", sans-serif' font-weight="normal" >U251</text>
<text x="653.70" y="454.10" font-size="10" text-anchor="middle" fill="#000" font-family='"Liberation Sans", sans-serif' font-weight="normal" >U373</text>
<line x1="579.60" y1="364.90" x2="579.60" y2="385.40" stroke="#000" stroke-width="0.75" />
<line x1="579.60" y1="368.20" x2="591.20" y2="368.20" stroke="#000" stroke-width="0.75" />
<line x1="591.20" y1="364.90" x2="591.20" y2="372.70" stroke="#000" stroke-width="0.75" />
<text x="585.40" y="369.40" font-size="7.4" text-anchor="middle" fill="#000" font-family='"Liberation Sans", sans-serif' font-weight="bold" >**</text>
<line x1="601.60" y1="364.90" x2="601.60" y2="385.40" stroke="#000" stroke-width="0.75" />
<line x1="601.60" y1="368.20" x2="613.40" y2="368.20" stroke="#000" stroke-width="0.75" />
<line x1="613.40" y1="364.90" x2="613.40" y2="372.70" stroke="#000" stroke-width="0.75" />
<text x="607.50" y="367.30" font-size="5.4" text-anchor="middle" fill="#000" font-family='"Liberation Sans", sans-serif' font-weight="bold" >#</text>
<line x1="642.70" y1="364.90" x2="642.70" y2="385.40" stroke="#000" stroke-width="0.75" />
<line x1="642.70" y1="368.20" x2="653.70" y2="368.20" stroke="#000" stroke-width="0.75" />
<line x1="653.70" y1="364.90" x2="653.70" y2="372.70" stroke="#000" stroke-width="0.75" />
<text x="648.20" y="369.40" font-size="7.4" text-anchor="middle" fill="#000" font-family='"Liberation Sans", sans-serif' font-weight="bold" >*</text>
<line x1="664.60" y1="364.90" x2="664.60" y2="385.40" stroke="#000" stroke-width="0.75" />
<line x1="664.60" y1="368.20" x2="675.80" y2="368.20" stroke="#000" stroke-width="0.75" />
<line x1="672.50" y1="364.90" x2="672.50" y2="372.70" stroke="#000" stroke-width="0.75" />
<text x="670.60" y="367.30" font-size="5.4" text-anchor="middle" fill="#000" font-family='"Liberation Sans", sans-serif' font-weight="bold" >#</text>
<text x="10.10" y="420.60" font-size="10" text-anchor="start" fill="#000" font-family='"Liberation Sans", sans-serif' font-weight="normal" >-3000</text>
<text x="60.50" y="420.60" font-size="10" text-anchor="start" fill="#000" font-family='"Liberation Sans", sans-serif' font-weight="normal" >-2000</text>
<text x="89.50" y="420.60" font-size="10" text-anchor="start" fill="#000" font-family='"Liberation Sans", sans-serif' font-weight="normal" >-1082</text>
<text x="109.20" y="411.40" font-size="10" text-anchor="start" fill="#000" font-family='"Liberation Sans", sans-serif' font-weight="normal" >Putative ZBED6</text>
<text x="119.60" y="420.40" font-size="10" text-anchor="start" fill="#000" font-family='"Liberation Sans", sans-serif' font-weight="normal" >binding site</text>
<text x="177.60" y="420.60" font-size="10" text-anchor="start" fill="#000" font-family='"Liberation Sans", sans-serif' font-weight="normal" >-1071</text>
<text x="206.80" y="420.60" font-size="10" text-anchor="start" fill="#000" font-family='"Liberation Sans", sans-serif' font-weight="normal" >-1000</text>
<text x="263.60" y="420.60" font-size="10" text-anchor="start" fill="#000" font-family='"Liberation Sans", sans-serif' font-weight="normal" >+1</text>
<text x="301.60" y="410.60" font-size="10" text-anchor="middle" fill="#000" font-family='"Liberation Sans", sans-serif' font-weight="normal" >G6PD</text>
<text x="301.80" y="420.60" font-size="10" text-anchor="middle" fill="#000" font-family='"Liberation Sans", sans-serif' font-weight="normal" >TSS</text>
<line x1="24.10" y1="437.40" x2="296.00" y2="437.40" stroke="#000" stroke-width="1.1" />
<line x1="24.10" y1="428.40" x2="24.10" y2="447.00" stroke="#000" stroke-width="0.9" />
<line x1="75.20" y1="428.40" x2="75.20" y2="447.00" stroke="#000" stroke-width="0.9" />
<line x1="220.80" y1="428.40" x2="220.80" y2="447.00" stroke="#000" stroke-width="0.9" />
<line x1="267.90" y1="426.00" x2="267.90" y2="447.00" stroke="#000" stroke-width="1.05" />
<line x1="267.40" y1="426.60" x2="312.00" y2="426.60" stroke="#000" stroke-width="1.35" />
<path d="M308.4,437.4 L286.4,433.79999999999995 L292.79999999999995,437.4 L286.4,441.0 Z" fill="#000"/>
<path d="M321.6,426.6 L307.70000000000005,423.20000000000005 L311.70000000000005,426.6 L307.70000000000005,430.0 Z" fill="#000"/>
<line x1="101.70" y1="421.40" x2="109.20" y2="430.00" stroke="#000" stroke-width="0.7" />
<line x1="189.60" y1="422.00" x2="184.80" y2="430.40" stroke="#000" stroke-width="0.7" />
<rect x="99.30" y="430.40" width="91.70" height="14.20" fill="#000" />
<text x="101.0" y="441.4" font-size="10.15" fill="#fff" font-family='"Liberation Sans", sans-serif' textLength="88.6" lengthAdjust="spacing">CCAGCTCGCCGC</text>
<text x="34.70" y="435.30" font-size="10" text-anchor="start" fill="#000" font-family='"Liberation Sans", sans-serif' font-weight="normal" >Control</text>
<line x1="30.30" y1="449.60" x2="72.00" y2="449.60" stroke="#000" stroke-width="1.3" />
<text x="51.10" y="458.50" font-size="10" text-anchor="middle" fill="#000" font-family='"Liberation Sans", sans-serif' font-weight="normal" >PCR1</text>
<line x1="101.70" y1="449.60" x2="188.50" y2="449.60" stroke="#000" stroke-width="1.3" />
<text x="144.50" y="458.50" font-size="10" text-anchor="middle" fill="#000" font-family='"Liberation Sans", sans-serif' font-weight="normal" >PCR2</text>
<text x="79.80" y="469.60" font-size="6.8" text-anchor="middle" fill="#222" font-family='"Liberation Sans", sans-serif' font-weight="normal" >PCR1</text>
<line x1="59.60" y1="471.50" x2="99.80" y2="471.50" stroke="#444" stroke-width="0.6" />
<text x="51.60" y="480.20" font-size="7.0" text-anchor="start" fill="#222" font-family='"Liberation Sans", sans-serif' font-weight="normal" >Input</text>
<text x="71.20" y="480.20" font-size="7.0" text-anchor="start" fill="#222" font-family='"Liberation Sans", sans-serif' font-weight="normal" >IgG</text>
<text x="86.10" y="480.20" font-size="7.0" text-anchor="start" fill="#222" font-family='"Liberation Sans", sans-serif' font-weight="normal" >ZBED6</text>
<text x="151.50" y="469.60" font-size="6.8" text-anchor="middle" fill="#222" font-family='"Liberation Sans", sans-serif' font-weight="normal" >PCR2</text>
<line x1="131.00" y1="471.50" x2="171.50" y2="471.50" stroke="#444" stroke-width="0.6" />
<text x="124.80" y="480.20" font-size="7.0" text-anchor="start" fill="#222" font-family='"Liberation Sans", sans-serif' font-weight="normal" >Input</text>
<text x="144.70" y="480.20" font-size="7.0" text-anchor="start" fill="#222" font-family='"Liberation Sans", sans-serif' font-weight="normal" >IgG</text>
<text x="159.60" y="480.20" font-size="7.0" text-anchor="start" fill="#222" font-family='"Liberation Sans", sans-serif' font-weight="normal" >ZBED6</text>
<text x="222.20" y="469.60" font-size="6.8" text-anchor="middle" fill="#222" font-family='"Liberation Sans", sans-serif' font-weight="normal" >PCR1</text>
<line x1="201.70" y1="471.50" x2="242.70" y2="471.50" stroke="#444" stroke-width="0.6" />
<text x="195.50" y="480.20" font-size="7.0" text-anchor="start" fill="#222" font-family='"Liberation Sans", sans-serif' font-weight="normal" >Input</text>
<text x="214.90" y="480.20" font-size="7.0" text-anchor="start" fill="#222" font-family='"Liberation Sans", sans-serif' font-weight="normal" >IgG</text>
<text x="229.80" y="480.20" font-size="7.0" text-anchor="start" fill="#222" font-family='"Liberation Sans", sans-serif' font-weight="normal" >ZBED6</text>
<text x="293.20" y="469.60" font-size="6.8" text-anchor="middle" fill="#222" font-family='"Liberation Sans", sans-serif' font-weight="normal" >PCR2</text>
<line x1="273.20" y1="471.50" x2="313.60" y2="471.50" stroke="#444" stroke-width="0.6" />
<text x="267.00" y="480.20" font-size="7.0" text-anchor="start" fill="#222" font-family='"Liberation Sans", sans-serif' font-weight="normal" >Input</text>
<text x="286.80" y="480.20" font-size="7.0" text-anchor="start" fill="#222" font-family='"Liberation Sans", sans-serif' font-weight="normal" >IgG</text>
<text x="301.70" y="480.20" font-size="7.0" text-anchor="start" fill="#222" font-family='"Liberation Sans", sans-serif' font-weight="normal" >ZBED6</text>
<text x="14.10" y="490.30" font-size="7.0" text-anchor="start" fill="#111" font-family='"Liberation Sans", sans-serif' font-weight="normal" >500bp</text>
<text x="14.10" y="497.00" font-size="7.0" text-anchor="start" fill="#111" font-family='"Liberation Sans", sans-serif' font-weight="normal" >400bp</text>
<text x="14.10" y="504.90" font-size="7.0" text-anchor="start" fill="#111" font-family='"Liberation Sans", sans-serif' font-weight="normal" >300bp</text>
<text x="14.10" y="515.60" font-size="7.0" text-anchor="start" fill="#111" font-family='"Liberation Sans", sans-serif' font-weight="normal" >200bp</text>
<text x="14.10" y="522.50" font-size="7.0" text-anchor="start" fill="#111" font-family='"Liberation Sans", sans-serif' font-weight="normal" >150bp</text>
<text x="14.10" y="530.00" font-size="7.0" text-anchor="start" fill="#111" font-family='"Liberation Sans", sans-serif' font-weight="normal" >100bp</text>
<text x="14.10" y="540.40" font-size="7.0" text-anchor="start" fill="#111" font-family='"Liberation Sans", sans-serif' font-weight="normal" >50bp</text>
<defs><filter id="bl" x="-20%" y="-60%" width="140%" height="220%"><feGaussianBlur stdDeviation="0.9 0.65"/></filter><filter id="bl2" x="-20%" y="-60%" width="140%" height="220%"><feGaussianBlur stdDeviation="1.2 1.0"/></filter><filter id="bl3" x="-20%" y="-60%" width="140%" height="220%"><feGaussianBlur stdDeviation="0.9 0.8"/></filter></defs>
<defs><linearGradient id="gg1" x1="0" x2="1" y1="0" y2="0"><stop offset="0" stop-color="#353535"/><stop offset="0.35" stop-color="#393939"/><stop offset="1" stop-color="#2b2b2b"/></linearGradient><radialGradient id="gg3" cx="0.5" cy="0.45" r="0.75"><stop offset="0" stop-color="#292929"/><stop offset="1" stop-color="#1d1d1d"/></radialGradient></defs>
<rect x="37.00" y="483.10" width="70.30" height="61.70" fill="url(#gg1)" />
<rect x="40.40" y="487.90" width="9.20" height="1.80" fill="#e8e8e8" opacity="0.42" filter="url(#bl)"/>
<rect x="40.40" y="494.00" width="9.20" height="1.80" fill="#e8e8e8" opacity="0.36" filter="url(#bl)"/>
<rect x="40.40" y="501.70" width="9.20" height="1.80" fill="#e8e8e8" opacity="0.36" filter="url(#bl)"/>
<rect x="40.40" y="511.70" width="9.20" height="2.60" fill="#e8e8e8" opacity="0.9" filter="url(#bl)"/>
<rect x="40.40" y="518.90" width="9.20" height="1.80" fill="#e8e8e8" opacity="0.3" filter="url(#bl)"/>
<rect x="40.40" y="526.20" width="9.20" height="1.80" fill="#e8e8e8" opacity="0.3" filter="url(#bl)"/>
<rect x="40.40" y="538.40" width="9.20" height="1.80" fill="#e8e8e8" opacity="0.14" filter="url(#bl)"/>
<rect x="54.50" y="525.05" width="12.80" height="2.30" fill="#cfcfcf" opacity="0.6" filter="url(#bl)"/>
<rect x="109.30" y="483.10" width="69.90" height="61.70" fill="#0c0c0c" />
<rect x="111.30" y="490.60" width="13.10" height="2.00" fill="#f0f0f0" opacity="0.62" filter="url(#bl3)"/>
<rect x="111.30" y="494.90" width="13.10" height="2.00" fill="#f0f0f0" opacity="0.62" filter="url(#bl3)"/>
<rect x="111.30" y="500.90" width="13.10" height="2.20" fill="#f0f0f0" opacity="0.55" filter="url(#bl3)"/>
<rect x="111.30" y="508.50" width="13.10" height="3.00" fill="#f0f0f0" opacity="0.85" filter="url(#bl3)"/>
<rect x="111.30" y="515.00" width="13.10" height="2.20" fill="#f0f0f0" opacity="0.3" filter="url(#bl3)"/>
<rect x="111.30" y="521.60" width="13.10" height="2.40" fill="#f0f0f0" opacity="0.4" filter="url(#bl3)"/>
<rect x="111.30" y="531.30" width="13.10" height="2.60" fill="#f0f0f0" opacity="0.36" filter="url(#bl3)"/>
<rect x="128.90" y="504.05" width="13.40" height="3.90" fill="#f4f4f4" opacity="0.95" filter="url(#bl3)"/>
<rect x="129.50" y="509.00" width="12.00" height="14.00" fill="#555" opacity="0.16" filter="url(#bl2)"/>
<rect x="129.50" y="533.50" width="12.00" height="3.00" fill="#9a9a9a" opacity="0.34" filter="url(#bl3)"/>
<rect x="164.70" y="506.05" width="13.10" height="2.10" fill="#d0d0d0" opacity="0.7" filter="url(#bl)"/>
<rect x="181.10" y="483.10" width="69.90" height="61.60" fill="url(#gg3)" />
<rect x="184.70" y="487.80" width="9.20" height="2.00" fill="#eeeeee" opacity="0.62" filter="url(#bl)"/>
<rect x="184.70" y="492.70" width="9.20" height="2.00" fill="#eeeeee" opacity="0.55" filter="url(#bl)"/>
<rect x="184.70" y="499.80" width="9.20" height="2.00" fill="#eeeeee" opacity="0.5" filter="url(#bl)"/>
<rect x="184.70" y="509.70" width="9.20" height="3.00" fill="#eeeeee" opacity="0.9" filter="url(#bl)"/>
<rect x="184.70" y="517.20" width="9.20" height="2.00" fill="#eeeeee" opacity="0.42" filter="url(#bl)"/>
<rect x="184.70" y="525.40" width="9.20" height="2.20" fill="#eeeeee" opacity="0.4" filter="url(#bl)"/>
<rect x="184.70" y="535.20" width="9.20" height="2.20" fill="#eeeeee" opacity="0.25" filter="url(#bl)"/>
<rect x="197.60" y="524.15" width="12.00" height="1.90" fill="#bdbdbd" opacity="0.36" filter="url(#bl)"/>
<rect x="252.90" y="483.10" width="69.10" height="61.60" fill="#141414" />
<rect x="271.50" y="485.00" width="13.00" height="58.00" fill="#fff" opacity="0.045" filter="url(#bl2)"/>
<rect x="254.90" y="489.80" width="12.70" height="2.00" fill="#f0f0f0" opacity="0.62" filter="url(#bl3)"/>
<rect x="254.90" y="493.90" width="12.70" height="2.00" fill="#f0f0f0" opacity="0.6" filter="url(#bl3)"/>
<rect x="254.90" y="499.70" width="12.70" height="2.20" fill="#f0f0f0" opacity="0.55" filter="url(#bl3)"/>
<rect x="254.90" y="507.40" width="12.70" height="4.00" fill="#f0f0f0" opacity="0.8" filter="url(#bl3)"/>
<rect x="254.90" y="514.50" width="12.70" height="2.40" fill="#f0f0f0" opacity="0.38" filter="url(#bl3)"/>
<rect x="254.90" y="522.10" width="12.70" height="2.60" fill="#f0f0f0" opacity="0.34" filter="url(#bl3)"/>
<rect x="254.90" y="532.40" width="12.70" height="2.80" fill="#f0f0f0" opacity="0.2" filter="url(#bl3)"/>
<rect x="271.20" y="503.00" width="13.50" height="5.00" fill="#dedede" opacity="0.95" filter="url(#bl3)"/>
<rect x="272.00" y="535.00" width="12.00" height="3.00" fill="#888" opacity="0.2" filter="url(#bl3)"/>
<rect x="304.30" y="503.50" width="13.10" height="4.20" fill="#d4d4d4" opacity="0.92" filter="url(#bl3)"/>
<text x="107.50" y="554.70" font-size="10" text-anchor="middle" fill="#000" font-family='"Liberation Sans", sans-serif' font-weight="normal" >U251</text>
<text x="251.20" y="554.70" font-size="10" text-anchor="middle" fill="#000" font-family='"Liberation Sans", sans-serif' font-weight="normal" >U373</text>
<text x="350.70" y="481.80" font-size="10" text-anchor="start" fill="#000" font-family='"Liberation Sans", sans-serif' font-weight="normal" >Putative ZBED6</text>
<text x="350.70" y="491.60" font-size="10" text-anchor="start" fill="#000" font-family='"Liberation Sans", sans-serif' font-weight="normal" >5’ binding site</text>
<rect x="350.60" y="493.50" width="100.30" height="11.10" fill="#fff" stroke="#8a8a8a" stroke-width="0.8" />
<rect x="366.00" y="493.40" width="4.30" height="11.30" fill="#000" />
<text x="351.00" y="512.70" font-size="10" text-anchor="start" fill="#000" font-family='"Liberation Sans", sans-serif' font-weight="normal" >-1082~-1071</text>
<text x="393.10" y="520.60" font-size="10" text-anchor="start" fill="#000" font-family='"Liberation Sans", sans-serif' font-weight="normal" >5’</text>
<rect x="399.70" y="522.90" width="51.20" height="10.70" fill="#fff" stroke="#8a8a8a" stroke-width="0.8" />
<polyline fill="none" stroke="#000" stroke-width="0.8" points="450.9,504.6 450.9,482.8 469.5,482.8"/>
<path d="M472.2,482.8 L467.6,481.1 L467.6,484.5 Z" fill="#000"/>
<polyline fill="none" stroke="#000" stroke-width="0.8" points="450.9,533.5 450.9,511.7 469.5,511.7"/>
<path d="M472.2,511.7 L467.6,510.0 L467.6,513.4 Z" fill="#000"/>
<text x="451.60" y="492.10" font-size="10" text-anchor="start" fill="#000" font-family='"Liberation Sans", sans-serif' font-weight="normal" >3’</text>
<text x="451.60" y="520.60" font-size="10" text-anchor="start" fill="#000" font-family='"Liberation Sans", sans-serif' font-weight="normal" >3’</text>
<line x1="450.90" y1="499.20" x2="454.20" y2="499.20" stroke="#000" stroke-width="0.8" />
<line x1="450.90" y1="528.30" x2="454.20" y2="528.30" stroke="#000" stroke-width="0.8" />
<rect x="454.00" y="493.40" width="34.40" height="11.30" fill="#000" />
<rect x="454.00" y="522.80" width="34.40" height="10.90" fill="#000" />
<text x="471.20" y="502.80" font-size="10" text-anchor="middle" fill="#fff" font-family='"Liberation Sans", sans-serif' font-weight="normal" >Luc</text>
<text x="471.20" y="532.00" font-size="10" text-anchor="middle" fill="#fff" font-family='"Liberation Sans", sans-serif' font-weight="normal" >Luc</text>
<text x="489.00" y="480.50" font-size="10" text-anchor="start" fill="#000" font-family='"Liberation Sans", sans-serif' font-weight="normal" >G6PD promoter activity</text>
<rect x="490.50" y="488.90" width="44.74" height="9.90" fill="#c1c4fa" />
<line x1="535.24" y1="493.80" x2="539.90" y2="493.80" stroke="#000" stroke-width="0.75" />
<line x1="539.90" y1="492.30" x2="539.90" y2="495.30" stroke="#000" stroke-width="0.75" />
<circle cx="531.50" cy="494.30" r="1.65" fill="#000"/>
<circle cx="533.90" cy="491.30" r="1.65" fill="#000"/>
<circle cx="539.90" cy="492.80" r="1.65" fill="#000"/>
<rect x="490.50" y="499.30" width="62.79" height="9.90" fill="#0404f8" />
<line x1="553.29" y1="504.20" x2="556.90" y2="504.20" stroke="#000" stroke-width="0.75" />
<line x1="556.90" y1="502.70" x2="556.90" y2="505.70" stroke="#000" stroke-width="0.75" />
<rect x="548.80" y="504.80" width="3" height="3" fill="#000"/>
<rect x="551.20" y="500.90" width="3" height="3" fill="#000"/>
<rect x="555.40" y="503.00" width="3" height="3" fill="#000"/>
<rect x="490.50" y="518.30" width="58.75" height="9.90" fill="#c1c4fa" />
<line x1="549.25" y1="523.20" x2="551.40" y2="523.20" stroke="#000" stroke-width="0.75" />
<line x1="551.40" y1="521.70" x2="551.40" y2="524.70" stroke="#000" stroke-width="0.75" />
<circle cx="549.40" cy="521.00" r="1.65" fill="#000"/>
<circle cx="551.20" cy="522.80" r="1.65" fill="#000"/>
<circle cx="547.00" cy="524.30" r="1.65" fill="#000"/>
<rect x="490.50" y="528.40" width="56.06" height="9.90" fill="#0404f8" />
<line x1="546.56" y1="533.30" x2="552.70" y2="533.30" stroke="#000" stroke-width="0.75" />
<line x1="552.70" y1="531.80" x2="552.70" y2="534.80" stroke="#000" stroke-width="0.75" />
<rect x="543.70" y="529.90" width="3" height="3" fill="#000"/>
<rect x="540.20" y="533.20" width="3" height="3" fill="#000"/>
<rect x="551.20" y="531.70" width="3" height="3" fill="#000"/>
<text x="545.30" y="494.20" font-size="5.6" text-anchor="middle" fill="#000" font-family='"Liberation Sans", sans-serif' font-weight="bold" >*</text>
<text x="545.30" y="497.40" font-size="5.6" text-anchor="middle" fill="#000" font-family='"Liberation Sans", sans-serif' font-weight="bold" >*</text>
<line x1="490.50" y1="487.20" x2="490.50" y2="540.60" stroke="#000" stroke-width="0.9" />
<line x1="490.10" y1="540.40" x2="571.60" y2="540.40" stroke="#000" stroke-width="0.9" />
<line x1="490.50" y1="540.40" x2="490.50" y2="542.90" stroke="#000" stroke-width="0.8" />
<text transform="translate(493.10,548.2) rotate(-45)" font-size="6.3" font-weight="bold" text-anchor="end" font-family='"Liberation Sans", sans-serif'>0.0</text>
<line x1="517.45" y1="540.40" x2="517.45" y2="542.90" stroke="#000" stroke-width="0.8" />
<text transform="translate(520.05,548.2) rotate(-45)" font-size="6.3" font-weight="bold" text-anchor="end" font-family='"Liberation Sans", sans-serif'>0.5</text>
<line x1="544.40" y1="540.40" x2="544.40" y2="542.90" stroke="#000" stroke-width="0.8" />
<text transform="translate(547.00,548.2) rotate(-45)" font-size="6.3" font-weight="bold" text-anchor="end" font-family='"Liberation Sans", sans-serif'>1.0</text>
<line x1="571.35" y1="540.40" x2="571.35" y2="542.90" stroke="#000" stroke-width="0.8" />
<text transform="translate(573.95,548.2) rotate(-45)" font-size="6.3" font-weight="bold" text-anchor="end" font-family='"Liberation Sans", sans-serif'>1.5</text>
<rect x="578.80" y="486.50" width="11.00" height="7.80" fill="#c1c4fa" />
<rect x="578.80" y="495.50" width="11.00" height="7.80" fill="#0404f8" />
<text x="591.60" y="494.00" font-size="10" text-anchor="start" fill="#000" font-family='"Liberation Sans", sans-serif' font-weight="normal" >pEX3-ZBED6</text>
<text x="591.60" y="503.00" font-size="10" text-anchor="start" fill="#000" font-family='"Liberation Sans", sans-serif' font-weight="normal" >pEX3-empty vector</text>
</g>
</svg>
</body></html>
